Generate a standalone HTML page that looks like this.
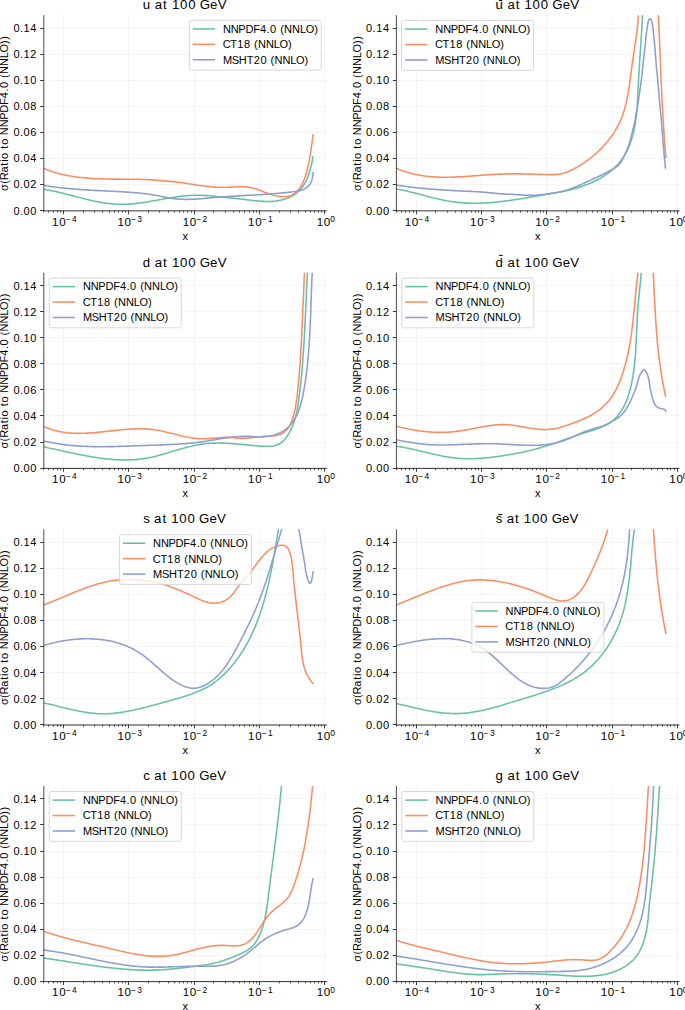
<!DOCTYPE html>
<html><head><meta charset="utf-8"><style>html,body{margin:0;padding:0;background:#fff;overflow:hidden}svg{display:block}</style></head><body>
<svg width="685" height="1010" viewBox="0 0 685 1010" font-family='"Liberation Sans", sans-serif'>
<rect width="685" height="1010" fill="#fff"/>
<defs>
<clipPath id="cp00"><rect x="43.80" y="15.15" width="283.10" height="195.40"/></clipPath>
<clipPath id="cp01"><rect x="396.40" y="15.15" width="283.10" height="195.40"/></clipPath>
<clipPath id="cp10"><rect x="43.80" y="272.70" width="283.10" height="195.40"/></clipPath>
<clipPath id="cp11"><rect x="396.40" y="272.70" width="283.10" height="195.40"/></clipPath>
<clipPath id="cp20"><rect x="43.80" y="529.30" width="283.10" height="195.40"/></clipPath>
<clipPath id="cp21"><rect x="396.40" y="529.30" width="283.10" height="195.40"/></clipPath>
<clipPath id="cp30"><rect x="43.80" y="785.90" width="283.10" height="195.40"/></clipPath>
<clipPath id="cp31"><rect x="396.40" y="785.90" width="283.10" height="195.40"/></clipPath>
</defs>
<line x1="63.50" y1="15.15" x2="63.50" y2="210.55" stroke="#f4f4f4" stroke-width="1"/>
<line x1="128.50" y1="15.15" x2="128.50" y2="210.55" stroke="#f4f4f4" stroke-width="1"/>
<line x1="194.50" y1="15.15" x2="194.50" y2="210.55" stroke="#f4f4f4" stroke-width="1"/>
<line x1="259.50" y1="15.15" x2="259.50" y2="210.55" stroke="#f4f4f4" stroke-width="1"/>
<line x1="324.50" y1="15.15" x2="324.50" y2="210.55" stroke="#f4f4f4" stroke-width="1"/>
<line x1="43.80" y1="184.50" x2="326.90" y2="184.50" stroke="#f4f4f4" stroke-width="1"/>
<line x1="43.80" y1="158.50" x2="326.90" y2="158.50" stroke="#f4f4f4" stroke-width="1"/>
<line x1="43.80" y1="132.50" x2="326.90" y2="132.50" stroke="#f4f4f4" stroke-width="1"/>
<line x1="43.80" y1="106.50" x2="326.90" y2="106.50" stroke="#f4f4f4" stroke-width="1"/>
<line x1="43.80" y1="80.50" x2="326.90" y2="80.50" stroke="#f4f4f4" stroke-width="1"/>
<line x1="43.80" y1="54.50" x2="326.90" y2="54.50" stroke="#f4f4f4" stroke-width="1"/>
<line x1="43.80" y1="28.50" x2="326.90" y2="28.50" stroke="#f4f4f4" stroke-width="1"/>
<g clip-path="url(#cp00)" fill="none" stroke-width="1.57" stroke-linejoin="round">
<path d="M43.0,189.3 44.1,189.4 45.2,189.6 46.3,189.8 47.3,189.9 48.4,190.1 49.5,190.3 50.5,190.5 51.6,190.7 52.7,190.9 53.8,191.2 54.8,191.4 55.9,191.6 57.0,191.9 58.1,192.1 59.1,192.4 60.2,192.6 61.3,192.9 62.4,193.1 63.4,193.4 64.5,193.6 65.6,193.9 66.7,194.2 67.7,194.5 68.8,194.7 69.9,195.0 71.0,195.3 72.1,195.6 73.1,195.9 74.2,196.1 75.3,196.4 76.4,196.7 77.4,197.0 78.5,197.3 79.6,197.5 80.7,197.8 81.8,198.1 82.8,198.4 83.9,198.6 85.0,198.9 86.1,199.2 87.2,199.4 88.3,199.7 89.3,199.9 90.4,200.2 91.5,200.4 92.6,200.7 93.7,200.9 94.8,201.2 95.8,201.4 96.9,201.6 98.0,201.8 99.1,202.0 100.2,202.2 101.3,202.4 102.4,202.6 103.4,202.8 104.5,203.0 105.6,203.1 106.7,203.3 107.8,203.4 108.9,203.5 110.0,203.7 111.1,203.8 112.2,203.9 113.2,204.0 114.3,204.1 115.4,204.1 116.5,204.2 117.6,204.2 118.7,204.3 119.8,204.3 120.9,204.3 122.0,204.3 123.1,204.3 124.2,204.3 125.3,204.3 126.4,204.2 127.5,204.2 128.6,204.1 129.7,204.0 130.8,203.9 131.9,203.9 133.0,203.8 134.1,203.7 135.2,203.5 136.3,203.4 137.4,203.3 138.5,203.2 139.5,203.0 140.6,202.9 141.7,202.7 142.8,202.6 143.9,202.4 145.0,202.2 146.1,202.1 147.2,201.9 148.3,201.7 149.4,201.5 150.5,201.3 151.6,201.1 152.7,200.9 153.8,200.8 154.9,200.6 156.0,200.4 157.1,200.2 158.2,200.0 159.3,199.8 160.4,199.6 161.4,199.4 162.5,199.2 163.6,199.0 164.7,198.8 165.8,198.6 166.9,198.4 168.0,198.2 169.1,198.0 170.2,197.9 171.2,197.7 172.3,197.5 173.4,197.3 174.5,197.2 175.6,197.0 176.7,196.8 177.8,196.7 178.9,196.5 179.9,196.4 181.0,196.3 182.1,196.1 183.2,196.0 184.3,195.9 185.4,195.8 186.5,195.7 187.6,195.6 188.7,195.5 189.8,195.5 190.9,195.4 191.9,195.3 193.0,195.3 194.1,195.3 195.2,195.2 196.3,195.2 197.4,195.2 198.5,195.2 199.6,195.2 200.7,195.3 201.8,195.3 202.9,195.4 204.0,195.4 205.1,195.5 206.2,195.6 207.3,195.6 208.4,195.7 209.5,195.8 210.6,195.9 211.7,196.0 212.9,196.1 214.0,196.2 215.1,196.3 216.2,196.4 217.3,196.6 218.4,196.7 219.5,196.8 220.5,196.9 221.6,197.0 222.7,197.1 223.8,197.2 224.9,197.4 226.0,197.5 227.1,197.6 228.2,197.7 229.3,197.8 230.4,197.9 231.5,198.0 232.6,198.1 233.6,198.2 234.7,198.3 235.8,198.5 236.9,198.6 238.0,198.7 239.1,198.8 240.2,198.9 241.3,199.1 242.4,199.2 243.5,199.3 244.6,199.5 245.8,199.6 246.9,199.7 248.0,199.9 249.1,200.0 250.2,200.2 251.3,200.3 252.5,200.4 253.6,200.6 254.7,200.7 255.8,200.8 257.0,200.9 258.1,201.0 259.2,201.1 260.3,201.2 261.5,201.3 262.6,201.4 263.7,201.4 264.8,201.5 265.9,201.5 267.0,201.5 268.2,201.5 269.3,201.5 270.4,201.5 271.5,201.4 272.6,201.4 273.7,201.3 274.8,201.2 275.9,201.1 276.9,200.9 278.0,200.8 279.1,200.6 280.2,200.3 281.2,200.1 282.3,199.8 283.4,199.5 284.4,199.2 285.4,198.9 286.4,198.5 287.5,198.2 288.4,197.7 289.4,197.3 290.4,196.8 291.3,196.4 292.3,195.8 293.2,195.3 294.1,194.7 295.0,194.1 295.8,193.5 296.7,192.9 297.5,192.2 298.3,191.5 299.1,190.8 299.8,190.0 300.6,189.2 301.3,188.4 301.9,187.6 302.6,186.7 303.2,185.8 303.8,184.9 304.4,184.0 305.0,183.0 305.5,182.0 306.0,181.0 306.5,180.0 307.0,179.0 307.4,177.9 307.8,176.9 308.2,175.8 308.6,174.7 309.0,173.6 309.4,172.5 309.7,171.4 310.0,170.3 310.3,169.2 310.6,168.1 310.9,167.0 311.2,165.9 311.4,164.8 311.7,163.7 311.9,162.6 312.1,161.5 312.3,160.4 312.5,159.3 312.7,158.3 312.9,157.2 313.1,156.2" stroke="#66c2a5"/>
<path d="M43.0,168.2 44.1,168.6 45.1,169.0 46.2,169.5 47.2,169.9 48.3,170.3 49.4,170.6 50.4,171.0 51.5,171.4 52.6,171.7 53.6,172.1 54.7,172.4 55.8,172.7 56.8,173.0 57.9,173.3 59.0,173.6 60.0,173.9 61.1,174.1 62.2,174.4 63.3,174.6 64.3,174.9 65.4,175.1 66.5,175.3 67.6,175.5 68.7,175.7 69.8,175.9 70.8,176.1 71.9,176.3 73.0,176.5 74.1,176.7 75.2,176.8 76.3,177.0 77.4,177.1 78.5,177.3 79.6,177.4 80.7,177.5 81.7,177.6 82.8,177.7 83.9,177.8 85.0,177.9 86.1,178.0 87.2,178.1 88.3,178.2 89.4,178.3 90.5,178.4 91.6,178.4 92.7,178.5 93.8,178.6 94.9,178.6 96.0,178.7 97.1,178.7 98.2,178.8 99.4,178.8 100.5,178.8 101.6,178.9 102.7,178.9 103.8,178.9 104.9,179.0 106.0,179.0 107.1,179.0 108.2,179.0 109.3,179.0 110.4,179.1 111.5,179.1 112.6,179.1 113.7,179.1 114.9,179.1 116.0,179.1 117.1,179.1 118.2,179.1 119.3,179.1 120.4,179.1 121.5,179.1 122.6,179.2 123.7,179.2 124.8,179.2 126.0,179.2 127.1,179.2 128.2,179.2 129.3,179.2 130.4,179.2 131.5,179.2 132.6,179.2 133.7,179.3 134.8,179.3 135.9,179.3 137.0,179.3 138.1,179.3 139.3,179.4 140.4,179.4 141.5,179.4 142.6,179.5 143.7,179.5 144.8,179.5 145.9,179.6 147.0,179.6 148.1,179.7 149.2,179.7 150.3,179.8 151.4,179.9 152.5,179.9 153.6,180.0 154.7,180.1 155.8,180.1 156.9,180.2 158.0,180.3 159.1,180.4 160.2,180.5 161.3,180.6 162.4,180.7 163.5,180.8 164.6,180.9 165.7,181.0 166.8,181.1 167.9,181.2 169.0,181.3 170.1,181.4 171.2,181.5 172.3,181.6 173.4,181.8 174.5,181.9 175.6,182.0 176.7,182.1 177.8,182.3 178.9,182.4 180.0,182.5 181.1,182.7 182.1,182.8 183.2,183.0 184.3,183.1 185.4,183.3 186.5,183.4 187.6,183.6 188.7,183.7 189.8,183.9 190.9,184.1 192.0,184.2 193.1,184.4 194.2,184.6 195.3,184.7 196.4,184.9 197.4,185.1 198.5,185.2 199.6,185.4 200.7,185.5 201.8,185.7 202.9,185.8 204.0,186.0 205.1,186.1 206.2,186.2 207.3,186.4 208.4,186.5 209.5,186.6 210.6,186.7 211.7,186.8 212.8,186.9 213.9,187.0 215.0,187.1 216.1,187.1 217.2,187.2 218.3,187.2 219.4,187.3 220.5,187.3 221.6,187.3 222.8,187.3 223.9,187.3 225.0,187.3 226.1,187.3 227.2,187.2 228.3,187.2 229.4,187.1 230.6,187.1 231.7,187.0 232.8,187.0 233.9,186.9 235.0,186.9 236.1,186.8 237.2,186.8 238.3,186.8 239.4,186.7 240.6,186.7 241.7,186.7 242.8,186.8 243.9,186.8 245.0,186.9 246.0,186.9 247.1,187.0 248.2,187.2 249.3,187.3 250.4,187.5 251.5,187.7 252.5,187.9 253.6,188.2 254.6,188.5 255.7,188.8 256.8,189.1 257.8,189.5 258.9,189.9 259.9,190.3 260.9,190.7 262.0,191.1 263.0,191.5 264.1,192.0 265.1,192.4 266.2,192.8 267.2,193.2 268.3,193.6 269.3,194.0 270.4,194.3 271.5,194.7 272.5,195.0 273.6,195.3 274.7,195.6 275.8,195.8 276.9,196.1 278.0,196.3 279.1,196.4 280.2,196.6 281.3,196.6 282.4,196.7 283.5,196.7 284.7,196.7 285.8,196.6 286.9,196.5 288.0,196.3 289.1,196.0 290.2,195.7 291.2,195.4 292.2,194.9 293.1,194.4 294.0,193.9 294.8,193.3 295.6,192.7 296.4,192.0 297.2,191.2 297.9,190.4 298.6,189.6 299.2,188.7 299.9,187.8 300.5,186.9 301.0,186.0 301.6,185.0 302.1,184.0 302.6,182.9 303.1,181.9 303.5,180.8 304.0,179.8 304.4,178.7 304.8,177.6 305.2,176.5 305.5,175.4 305.9,174.3 306.2,173.2 306.5,172.1 306.8,171.1 307.1,170.0 307.4,168.9 307.7,167.8 307.9,166.8 308.2,165.7 308.4,164.6 308.7,163.5 308.9,162.5 309.1,161.4 309.3,160.3 309.5,159.3 309.7,158.2 309.9,157.1 310.1,156.1 310.2,155.0 310.4,153.9 310.6,152.8 310.7,151.8 310.9,150.7 311.0,149.6 311.2,148.5 311.4,147.5 311.5,146.4 311.7,145.3 311.8,144.2 312.0,143.1 312.1,142.0 312.3,140.9 312.5,139.8 312.6,138.7 312.8,137.5 313.0,136.4 313.1,135.3 313.3,134.2" stroke="#fc8d62"/>
<path d="M43.0,185.1 44.1,185.3 45.2,185.5 46.3,185.7 47.4,185.9 48.5,186.1 49.5,186.2 50.6,186.4 51.7,186.6 52.8,186.7 53.9,186.9 55.0,187.0 56.1,187.2 57.2,187.3 58.3,187.5 59.4,187.6 60.5,187.7 61.6,187.8 62.7,188.0 63.8,188.1 64.9,188.2 66.0,188.3 67.1,188.4 68.2,188.5 69.3,188.6 70.4,188.7 71.5,188.8 72.6,188.9 73.7,189.0 74.8,189.1 75.9,189.2 77.0,189.3 78.1,189.4 79.2,189.4 80.3,189.5 81.4,189.6 82.5,189.7 83.6,189.7 84.7,189.8 85.8,189.9 86.9,189.9 88.0,190.0 89.1,190.1 90.2,190.1 91.3,190.2 92.4,190.3 93.5,190.3 94.6,190.4 95.7,190.4 96.8,190.5 97.9,190.6 99.0,190.6 100.1,190.7 101.2,190.7 102.3,190.8 103.5,190.8 104.6,190.9 105.7,190.9 106.8,191.0 107.9,191.0 109.0,191.1 110.1,191.2 111.2,191.2 112.3,191.3 113.4,191.3 114.5,191.4 115.6,191.4 116.7,191.5 117.8,191.5 118.9,191.6 120.0,191.7 121.1,191.7 122.2,191.8 123.3,191.9 124.4,191.9 125.5,192.0 126.6,192.1 127.7,192.1 128.8,192.2 129.9,192.3 131.0,192.4 132.1,192.5 133.2,192.5 134.3,192.6 135.4,192.7 136.5,192.8 137.6,192.9 138.7,193.0 139.8,193.1 140.9,193.2 142.0,193.4 143.1,193.5 144.2,193.6 145.3,193.7 146.4,193.9 147.5,194.0 148.6,194.2 149.7,194.3 150.8,194.5 151.9,194.7 152.9,194.8 154.0,195.0 155.1,195.2 156.2,195.4 157.3,195.6 158.4,195.8 159.5,196.0 160.6,196.2 161.7,196.5 162.8,196.7 163.9,196.9 165.0,197.1 166.1,197.4 167.1,197.6 168.2,197.8 169.3,198.0 170.4,198.2 171.5,198.3 172.6,198.5 173.7,198.6 174.8,198.8 175.9,198.9 177.0,199.0 178.1,199.1 179.2,199.2 180.3,199.2 181.4,199.3 182.5,199.3 183.6,199.4 184.7,199.4 185.8,199.4 186.9,199.4 188.0,199.4 189.1,199.4 190.2,199.3 191.3,199.3 192.4,199.3 193.5,199.2 194.6,199.1 195.7,199.1 196.8,199.0 197.9,199.0 199.0,198.9 200.1,198.8 201.2,198.7 202.3,198.6 203.4,198.5 204.5,198.4 205.6,198.3 206.7,198.2 207.8,198.1 208.9,198.0 210.0,197.9 211.1,197.8 212.2,197.7 213.3,197.6 214.4,197.5 215.5,197.4 216.7,197.4 217.8,197.3 218.9,197.2 220.0,197.1 221.1,197.0 222.2,196.9 223.3,196.8 224.4,196.8 225.5,196.7 226.6,196.6 227.7,196.5 228.8,196.5 229.9,196.4 231.0,196.3 232.1,196.3 233.2,196.2 234.3,196.1 235.4,196.1 236.5,196.0 237.6,195.9 238.7,195.9 239.8,195.8 240.9,195.7 242.0,195.7 243.1,195.6 244.2,195.6 245.3,195.5 246.4,195.4 247.5,195.4 248.6,195.3 249.7,195.3 250.8,195.2 251.9,195.1 253.0,195.1 254.1,195.0 255.2,195.0 256.3,194.9 257.4,194.8 258.5,194.8 259.6,194.7 260.7,194.6 261.8,194.6 262.9,194.5 264.0,194.4 265.1,194.3 266.2,194.3 267.3,194.2 268.4,194.1 269.5,194.0 270.6,194.0 271.7,193.9 272.8,193.8 273.9,193.7 275.0,193.6 276.2,193.5 277.3,193.4 278.4,193.3 279.5,193.2 280.6,193.1 281.7,193.0 282.8,192.9 283.9,192.8 285.0,192.7 286.1,192.6 287.2,192.5 288.3,192.3 289.4,192.2 290.5,192.1 291.6,192.0 292.7,191.8 293.9,191.7 295.0,191.5 296.1,191.4 297.1,191.2 298.2,191.0 299.3,190.8 300.3,190.5 301.3,190.2 302.3,189.9 303.3,189.5 304.3,189.1 305.2,188.7 306.0,188.2 306.8,187.6 307.6,186.9 308.4,186.2 309.0,185.5 309.7,184.6 310.3,183.7 310.8,182.7 311.2,181.6 311.7,180.5 312.0,179.4 312.3,178.2 312.6,176.9 312.8,175.7 313.0,174.4 313.1,173.2 313.1,171.9" stroke="#8da0cb"/>
</g>
<line x1="43.80" y1="15.15" x2="43.80" y2="210.95" stroke="#262626" stroke-width="0.84"/>
<line x1="43.40" y1="210.85" x2="326.90" y2="210.85" stroke="#262626" stroke-width="0.95"/>
<line x1="40.14" y1="210.50" x2="43.80" y2="210.50" stroke="#262626" stroke-width="0.9"/>
<text x="13.41 20.02 23.57 30.34" y="214.50" font-size="11.02">0.00</text>
<line x1="40.14" y1="184.50" x2="43.80" y2="184.50" stroke="#262626" stroke-width="0.9"/>
<text x="13.41 20.02 23.57 30.34" y="188.45" font-size="11.02">0.02</text>
<line x1="40.14" y1="158.50" x2="43.80" y2="158.50" stroke="#262626" stroke-width="0.9"/>
<text x="13.41 20.02 23.57 30.34" y="162.39" font-size="11.02">0.04</text>
<line x1="40.14" y1="132.50" x2="43.80" y2="132.50" stroke="#262626" stroke-width="0.9"/>
<text x="13.41 20.02 23.57 30.34" y="136.34" font-size="11.02">0.06</text>
<line x1="40.14" y1="106.50" x2="43.80" y2="106.50" stroke="#262626" stroke-width="0.9"/>
<text x="13.41 20.02 23.57 30.34" y="110.29" font-size="11.02">0.08</text>
<line x1="40.14" y1="80.50" x2="43.80" y2="80.50" stroke="#262626" stroke-width="0.9"/>
<text x="13.41 20.02 23.57 30.34" y="84.23" font-size="11.02">0.10</text>
<line x1="40.14" y1="54.50" x2="43.80" y2="54.50" stroke="#262626" stroke-width="0.9"/>
<text x="13.41 20.02 23.57 30.34" y="58.18" font-size="11.02">0.12</text>
<line x1="40.14" y1="28.50" x2="43.80" y2="28.50" stroke="#262626" stroke-width="0.9"/>
<text x="13.41 20.02 23.57 30.34" y="32.13" font-size="11.02">0.14</text>
<line x1="43.50" y1="210.55" x2="43.50" y2="212.65" stroke="#262626" stroke-width="0.75"/>
<line x1="48.50" y1="210.55" x2="48.50" y2="212.65" stroke="#262626" stroke-width="0.75"/>
<line x1="53.50" y1="210.55" x2="53.50" y2="212.65" stroke="#262626" stroke-width="0.75"/>
<line x1="57.50" y1="210.55" x2="57.50" y2="212.65" stroke="#262626" stroke-width="0.75"/>
<line x1="60.50" y1="210.55" x2="60.50" y2="212.65" stroke="#262626" stroke-width="0.75"/>
<line x1="63.50" y1="210.55" x2="63.50" y2="214.21" stroke="#262626" stroke-width="0.9"/>
<line x1="83.50" y1="210.55" x2="83.50" y2="212.65" stroke="#262626" stroke-width="0.75"/>
<line x1="94.50" y1="210.55" x2="94.50" y2="212.65" stroke="#262626" stroke-width="0.75"/>
<line x1="102.50" y1="210.55" x2="102.50" y2="212.65" stroke="#262626" stroke-width="0.75"/>
<line x1="109.50" y1="210.55" x2="109.50" y2="212.65" stroke="#262626" stroke-width="0.75"/>
<line x1="114.50" y1="210.55" x2="114.50" y2="212.65" stroke="#262626" stroke-width="0.75"/>
<line x1="118.50" y1="210.55" x2="118.50" y2="212.65" stroke="#262626" stroke-width="0.75"/>
<line x1="122.50" y1="210.55" x2="122.50" y2="212.65" stroke="#262626" stroke-width="0.75"/>
<line x1="125.50" y1="210.55" x2="125.50" y2="212.65" stroke="#262626" stroke-width="0.75"/>
<line x1="128.50" y1="210.55" x2="128.50" y2="214.21" stroke="#262626" stroke-width="0.9"/>
<line x1="148.50" y1="210.55" x2="148.50" y2="212.65" stroke="#262626" stroke-width="0.75"/>
<line x1="159.50" y1="210.55" x2="159.50" y2="212.65" stroke="#262626" stroke-width="0.75"/>
<line x1="168.50" y1="210.55" x2="168.50" y2="212.65" stroke="#262626" stroke-width="0.75"/>
<line x1="174.50" y1="210.55" x2="174.50" y2="212.65" stroke="#262626" stroke-width="0.75"/>
<line x1="179.50" y1="210.55" x2="179.50" y2="212.65" stroke="#262626" stroke-width="0.75"/>
<line x1="183.50" y1="210.55" x2="183.50" y2="212.65" stroke="#262626" stroke-width="0.75"/>
<line x1="187.50" y1="210.55" x2="187.50" y2="212.65" stroke="#262626" stroke-width="0.75"/>
<line x1="191.50" y1="210.55" x2="191.50" y2="212.65" stroke="#262626" stroke-width="0.75"/>
<line x1="194.50" y1="210.55" x2="194.50" y2="214.21" stroke="#262626" stroke-width="0.9"/>
<line x1="213.50" y1="210.55" x2="213.50" y2="212.65" stroke="#262626" stroke-width="0.75"/>
<line x1="225.50" y1="210.55" x2="225.50" y2="212.65" stroke="#262626" stroke-width="0.75"/>
<line x1="233.50" y1="210.55" x2="233.50" y2="212.65" stroke="#262626" stroke-width="0.75"/>
<line x1="239.50" y1="210.55" x2="239.50" y2="212.65" stroke="#262626" stroke-width="0.75"/>
<line x1="244.50" y1="210.55" x2="244.50" y2="212.65" stroke="#262626" stroke-width="0.75"/>
<line x1="249.50" y1="210.55" x2="249.50" y2="212.65" stroke="#262626" stroke-width="0.75"/>
<line x1="253.50" y1="210.55" x2="253.50" y2="212.65" stroke="#262626" stroke-width="0.75"/>
<line x1="256.50" y1="210.55" x2="256.50" y2="212.65" stroke="#262626" stroke-width="0.75"/>
<line x1="259.50" y1="210.55" x2="259.50" y2="214.21" stroke="#262626" stroke-width="0.9"/>
<line x1="279.50" y1="210.55" x2="279.50" y2="212.65" stroke="#262626" stroke-width="0.75"/>
<line x1="290.50" y1="210.55" x2="290.50" y2="212.65" stroke="#262626" stroke-width="0.75"/>
<line x1="298.50" y1="210.55" x2="298.50" y2="212.65" stroke="#262626" stroke-width="0.75"/>
<line x1="305.50" y1="210.55" x2="305.50" y2="212.65" stroke="#262626" stroke-width="0.75"/>
<line x1="310.50" y1="210.55" x2="310.50" y2="212.65" stroke="#262626" stroke-width="0.75"/>
<line x1="314.50" y1="210.55" x2="314.50" y2="212.65" stroke="#262626" stroke-width="0.75"/>
<line x1="318.50" y1="210.55" x2="318.50" y2="212.65" stroke="#262626" stroke-width="0.75"/>
<line x1="321.50" y1="210.55" x2="321.50" y2="212.65" stroke="#262626" stroke-width="0.75"/>
<line x1="324.50" y1="210.55" x2="324.50" y2="214.21" stroke="#262626" stroke-width="0.9"/>
<text x="52.11 59.22" y="225.70" font-size="11.57">10</text>
<text x="65.91 72.00" y="221.75" font-size="8.38">−4</text>
<text x="117.42 124.53" y="225.70" font-size="11.57">10</text>
<text x="131.22 137.31" y="221.75" font-size="8.38">−3</text>
<text x="182.73 189.84" y="225.70" font-size="11.57">10</text>
<text x="196.53 202.62" y="221.75" font-size="8.38">−2</text>
<text x="248.04 255.15" y="225.70" font-size="11.57">10</text>
<text x="261.84 267.93" y="221.75" font-size="8.38">−1</text>
<text x="316.75 323.86" y="225.70" font-size="11.57">10</text>
<text x="330.26" y="221.75" font-size="8.38">0</text>
<text x="182.39" y="239.55" font-size="11.02">x</text>
<g transform="translate(8.00,113.35) rotate(-90)"><text x="-77.55 -70.53 -66.90 -59.14 -52.37 -48.50 -45.60 -39.12 -35.34 -31.53 -25.04 -21.81 -13.85 -6.35 0.66 8.44 15.19 21.80 25.35 31.96 35.43 39.35 47.31 55.18 60.92 69.46 73.61" y="0.00" font-size="11.02">σ(Ratio to NNPDF4.0 (NNLO))</text></g>
<text x="142.81 150.73 154.84 163.10 167.63 171.89 180.02 188.15 196.09 199.77 210.12 217.68" y="9.15" font-size="13.23">u at 100 GeV</text>
<rect x="189.20" y="20.30" width="132" height="49.8" rx="2.1" fill="#fff" fill-opacity="0.8" stroke="#d0d0d0" stroke-width="0.84"/>
<line x1="192.70" y1="28.90" x2="215.10" y2="28.90" stroke="#66c2a5" stroke-width="1.57"/>
<text x="222.90 230.87 238.37 245.38 253.15 259.91 266.52 270.07 276.68 280.15 284.06 292.03 299.89 305.64 314.17" y="32.78" font-size="11.02">NNPDF4.0 (NNLO)</text>
<line x1="192.70" y1="44.35" x2="215.10" y2="44.35" stroke="#fc8d62" stroke-width="1.57"/>
<text x="222.64 230.22 237.16 243.94 250.56 254.02 257.94 265.90 273.77 279.52 288.05" y="48.23" font-size="11.02">CT18 (NNLO)</text>
<line x1="192.70" y1="59.80" x2="215.10" y2="59.80" stroke="#8da0cb" stroke-width="1.57"/>
<text x="222.90 231.79 238.87 246.74 253.69 260.46 267.08 270.54 274.46 282.42 290.29 296.04 304.57" y="63.68" font-size="11.02">MSHT20 (NNLO)</text>
<line x1="416.50" y1="15.15" x2="416.50" y2="210.55" stroke="#f4f4f4" stroke-width="1"/>
<line x1="481.50" y1="15.15" x2="481.50" y2="210.55" stroke="#f4f4f4" stroke-width="1"/>
<line x1="546.50" y1="15.15" x2="546.50" y2="210.55" stroke="#f4f4f4" stroke-width="1"/>
<line x1="612.50" y1="15.15" x2="612.50" y2="210.55" stroke="#f4f4f4" stroke-width="1"/>
<line x1="677.50" y1="15.15" x2="677.50" y2="210.55" stroke="#f4f4f4" stroke-width="1"/>
<line x1="396.40" y1="184.50" x2="679.50" y2="184.50" stroke="#f4f4f4" stroke-width="1"/>
<line x1="396.40" y1="158.50" x2="679.50" y2="158.50" stroke="#f4f4f4" stroke-width="1"/>
<line x1="396.40" y1="132.50" x2="679.50" y2="132.50" stroke="#f4f4f4" stroke-width="1"/>
<line x1="396.40" y1="106.50" x2="679.50" y2="106.50" stroke="#f4f4f4" stroke-width="1"/>
<line x1="396.40" y1="80.50" x2="679.50" y2="80.50" stroke="#f4f4f4" stroke-width="1"/>
<line x1="396.40" y1="54.50" x2="679.50" y2="54.50" stroke="#f4f4f4" stroke-width="1"/>
<line x1="396.40" y1="28.50" x2="679.50" y2="28.50" stroke="#f4f4f4" stroke-width="1"/>
<g clip-path="url(#cp01)" fill="none" stroke-width="1.57" stroke-linejoin="round">
<path d="M395.5,188.8 396.6,189.0 397.7,189.2 398.7,189.4 399.8,189.6 400.9,189.8 402.0,190.0 403.1,190.2 404.1,190.4 405.2,190.7 406.3,190.9 407.4,191.1 408.4,191.4 409.5,191.7 410.6,191.9 411.7,192.2 412.7,192.4 413.8,192.7 414.9,193.0 416.0,193.3 417.0,193.6 418.1,193.8 419.2,194.1 420.2,194.4 421.3,194.7 422.4,195.0 423.5,195.3 424.5,195.5 425.6,195.8 426.7,196.1 427.8,196.4 428.8,196.7 429.9,197.0 431.0,197.2 432.1,197.5 433.1,197.8 434.2,198.1 435.3,198.3 436.4,198.6 437.4,198.8 438.5,199.1 439.6,199.3 440.7,199.6 441.7,199.8 442.8,200.0 443.9,200.3 445.0,200.5 446.1,200.7 447.2,200.9 448.2,201.1 449.3,201.3 450.4,201.4 451.5,201.6 452.6,201.8 453.7,201.9 454.8,202.0 455.9,202.2 457.0,202.3 458.1,202.4 459.1,202.5 460.2,202.6 461.3,202.7 462.4,202.8 463.5,202.9 464.6,202.9 465.7,203.0 466.8,203.1 467.9,203.1 469.0,203.1 470.1,203.2 471.2,203.2 472.3,203.2 473.4,203.2 474.5,203.2 475.6,203.2 476.7,203.2 477.8,203.2 478.9,203.2 480.0,203.2 481.1,203.1 482.2,203.1 483.3,203.0 484.4,203.0 485.5,202.9 486.6,202.9 487.7,202.8 488.8,202.7 489.9,202.6 491.0,202.6 492.1,202.5 493.2,202.4 494.3,202.3 495.4,202.2 496.5,202.1 497.6,202.0 498.7,201.8 499.8,201.7 500.9,201.6 502.0,201.5 503.1,201.3 504.2,201.2 505.3,201.0 506.4,200.9 507.5,200.8 508.6,200.6 509.7,200.5 510.8,200.3 511.9,200.1 513.0,200.0 514.1,199.8 515.2,199.6 516.3,199.5 517.4,199.3 518.5,199.1 519.6,199.0 520.7,198.8 521.8,198.6 522.9,198.4 523.9,198.2 525.0,198.1 526.1,197.9 527.2,197.7 528.3,197.5 529.4,197.3 530.5,197.1 531.6,196.9 532.7,196.7 533.8,196.6 534.9,196.4 535.9,196.2 537.0,196.0 538.1,195.8 539.2,195.6 540.3,195.4 541.4,195.2 542.5,195.1 543.5,194.9 544.6,194.7 545.7,194.5 546.8,194.3 547.9,194.1 549.0,194.0 550.0,193.8 551.1,193.6 552.2,193.4 553.3,193.2 554.4,193.0 555.5,192.8 556.5,192.7 557.6,192.5 558.7,192.3 559.8,192.1 560.8,191.9 561.9,191.7 563.0,191.4 564.0,191.2 565.1,191.0 566.2,190.8 567.3,190.5 568.3,190.3 569.4,190.0 570.5,189.8 571.5,189.5 572.6,189.2 573.6,188.9 574.7,188.7 575.8,188.4 576.8,188.0 577.9,187.7 578.9,187.4 580.0,187.1 581.0,186.7 582.1,186.3 583.1,186.0 584.2,185.6 585.2,185.2 586.2,184.8 587.3,184.4 588.3,184.0 589.3,183.5 590.4,183.1 591.4,182.7 592.4,182.2 593.4,181.7 594.4,181.2 595.4,180.7 596.4,180.2 597.4,179.7 598.4,179.2 599.4,178.6 600.4,178.1 601.3,177.5 602.3,177.0 603.3,176.4 604.2,175.8 605.1,175.2 606.1,174.5 607.0,173.9 607.9,173.3 608.8,172.6 609.6,171.9 610.5,171.3 611.4,170.6 612.2,169.9 613.0,169.1 613.8,168.4 614.6,167.7 615.4,166.9 616.2,166.1 617.0,165.4 617.7,164.6 618.4,163.7 619.1,162.9 619.8,162.1 620.5,161.2 621.2,160.4 621.8,159.5 622.4,158.6 623.0,157.7 623.6,156.8 624.2,155.9 624.8,155.0 625.3,154.0 625.8,153.1 626.3,152.1 626.8,151.1 627.3,150.1 627.8,149.2 628.2,148.2 628.7,147.2 629.1,146.1 629.5,145.1 629.9,144.1 630.3,143.1 630.7,142.0 631.0,141.0 631.4,140.0 631.7,138.9 632.0,137.9 632.3,136.8 632.6,135.7 632.9,134.7 633.2,133.6 633.4,132.5 633.7,131.5 633.9,130.4 634.2,129.3 634.4,128.2 634.6,127.1 634.8,126.1 635.0,125.0 635.2,123.9 635.4,122.8 635.5,121.7 635.7,120.6 635.8,119.5 636.0,118.4 636.1,117.3 636.3,116.2 636.4,115.1 636.5,114.0 636.6,112.8 636.7,111.7 636.8,110.6 636.9,109.5 637.0,108.4 637.1,107.3 637.2,106.2 637.3,105.0 637.3,103.9 637.4,102.8 637.5,101.7 637.5,100.6 637.6,99.5 637.7,98.3 637.7,97.2 637.8,96.1 637.8,95.0 637.9,93.9 637.9,92.8 638.0,91.6 638.0,90.5 638.1,89.4 638.1,88.3 638.2,87.2 638.2,86.1 638.3,85.0 638.4,83.9 638.4,82.7 638.5,81.6 638.5,80.5 638.6,79.4 638.6,78.3 638.7,77.2 638.8,76.1 638.8,75.0 638.9,73.9 639.0,72.8 639.0,71.7 639.1,70.6 639.1,69.5 639.2,68.4 639.3,67.4 639.4,66.3 639.4,65.2 639.5,64.1 639.6,63.0 639.6,61.9 639.7,60.8 639.8,59.7 639.8,58.6 639.9,57.5 640.0,56.4 640.1,55.4 640.1,54.3 640.2,53.2 640.3,52.1 640.3,51.0 640.4,49.9 640.5,48.8 640.6,47.7 640.6,46.6 640.7,45.6 640.8,44.5 640.9,43.4 640.9,42.3 641.0,41.2 641.1,40.1 641.1,39.0 641.2,37.9 641.3,36.8 641.4,35.7 641.4,34.6 641.5,33.5 641.6,32.4 641.6,31.3 641.7,30.2 641.8,29.1 641.8,28.0 641.9,26.9 642.0,25.8 642.0,24.7 642.1,23.6 642.2,22.5 642.2,21.4 642.3,20.3 642.3,19.2 642.4,18.0 642.5,16.9 642.5,15.8 642.6,14.7 642.6,13.6 642.7,12.4 642.7,11.3 642.8,10.2 642.8,9.1 642.9,7.9" stroke="#66c2a5"/>
<path d="M395.5,167.9 396.5,168.4 397.6,168.8 398.7,169.3 399.7,169.7 400.8,170.1 401.8,170.5 402.9,170.9 404.0,171.2 405.0,171.6 406.1,171.9 407.2,172.3 408.2,172.6 409.3,172.9 410.4,173.2 411.5,173.5 412.5,173.7 413.6,174.0 414.7,174.2 415.8,174.5 416.8,174.7 417.9,174.9 419.0,175.1 420.1,175.3 421.2,175.5 422.3,175.7 423.3,175.8 424.4,176.0 425.5,176.1 426.6,176.2 427.7,176.4 428.8,176.5 429.9,176.6 430.9,176.7 432.0,176.8 433.1,176.9 434.2,176.9 435.3,177.0 436.4,177.0 437.5,177.1 438.6,177.1 439.7,177.2 440.8,177.2 441.9,177.2 443.0,177.2 444.1,177.2 445.2,177.2 446.3,177.2 447.4,177.2 448.5,177.2 449.6,177.2 450.7,177.2 451.8,177.1 452.9,177.1 454.0,177.1 455.1,177.0 456.2,177.0 457.3,176.9 458.4,176.9 459.5,176.8 460.6,176.8 461.7,176.7 462.8,176.6 463.9,176.6 465.0,176.5 466.1,176.4 467.2,176.3 468.3,176.3 469.4,176.2 470.5,176.1 471.7,176.0 472.8,175.9 473.9,175.8 475.0,175.8 476.1,175.7 477.2,175.6 478.3,175.5 479.4,175.4 480.5,175.3 481.6,175.3 482.7,175.2 483.8,175.1 484.9,175.0 486.0,174.9 487.1,174.8 488.3,174.8 489.4,174.7 490.5,174.6 491.6,174.6 492.7,174.5 493.8,174.4 494.9,174.4 496.0,174.3 497.1,174.2 498.2,174.2 499.3,174.1 500.4,174.1 501.5,174.1 502.6,174.0 503.7,174.0 504.8,174.0 505.9,173.9 507.0,173.9 508.1,173.9 509.2,173.9 510.3,173.9 511.4,173.9 512.5,173.9 513.6,173.9 514.7,173.9 515.8,173.9 516.9,173.9 518.0,173.9 519.1,173.9 520.2,173.9 521.3,173.9 522.4,173.9 523.5,174.0 524.6,174.0 525.7,174.0 526.8,174.0 527.9,174.1 529.0,174.1 530.2,174.1 531.3,174.1 532.4,174.2 533.5,174.2 534.6,174.2 535.7,174.3 536.8,174.3 537.9,174.3 539.0,174.4 540.1,174.4 541.2,174.4 542.3,174.4 543.4,174.5 544.5,174.5 545.6,174.5 546.7,174.6 547.8,174.6 548.9,174.6 550.0,174.6 551.1,174.6 552.2,174.6 553.3,174.6 554.4,174.5 555.5,174.5 556.6,174.4 557.7,174.3 558.8,174.2 559.8,174.0 560.9,173.8 562.0,173.6 563.0,173.4 564.0,173.1 565.1,172.8 566.1,172.5 567.1,172.1 568.1,171.7 569.1,171.3 570.1,170.8 571.1,170.3 572.1,169.8 573.1,169.3 574.1,168.8 575.0,168.3 576.0,167.7 577.0,167.2 577.9,166.6 578.9,166.1 579.8,165.5 580.8,164.9 581.7,164.3 582.6,163.7 583.6,163.1 584.5,162.4 585.4,161.8 586.3,161.2 587.2,160.5 588.1,159.8 589.0,159.2 589.9,158.5 590.8,157.8 591.7,157.1 592.5,156.4 593.4,155.7 594.2,155.0 595.1,154.2 595.9,153.5 596.7,152.8 597.6,152.0 598.4,151.2 599.2,150.5 600.0,149.7 600.8,148.9 601.6,148.1 602.3,147.3 603.1,146.5 603.8,145.7 604.6,144.8 605.3,144.0 606.0,143.2 606.8,142.3 607.5,141.5 608.2,140.6 608.9,139.7 609.5,138.9 610.2,138.0 610.9,137.1 611.5,136.2 612.1,135.3 612.8,134.4 613.4,133.5 614.0,132.6 614.6,131.6 615.1,130.7 615.7,129.8 616.2,128.8 616.8,127.9 617.3,126.9 617.8,125.9 618.3,125.0 618.8,124.0 619.3,123.0 619.8,122.0 620.2,121.0 620.7,120.0 621.1,119.0 621.5,118.0 621.9,117.0 622.3,116.0 622.7,114.9 623.0,113.9 623.4,112.9 623.7,111.8 624.0,110.8 624.4,109.8 624.7,108.7 625.0,107.6 625.3,106.6 625.5,105.5 625.8,104.5 626.1,103.4 626.3,102.3 626.6,101.2 626.8,100.2 627.0,99.1 627.3,98.0 627.5,96.9 627.7,95.8 627.9,94.7 628.1,93.6 628.3,92.5 628.5,91.4 628.6,90.3 628.8,89.2 629.0,88.1 629.2,87.0 629.3,85.9 629.5,84.8 629.6,83.7 629.8,82.6 629.9,81.5 630.1,80.4 630.2,79.3 630.4,78.2 630.5,77.1 630.7,76.0 630.8,74.9 630.9,73.8 631.1,72.6 631.2,71.5 631.4,70.4 631.5,69.3 631.6,68.2 631.8,67.1 631.9,66.0 632.1,64.9 632.2,63.8 632.4,62.7 632.5,61.6 632.7,60.5 632.8,59.4 633.0,58.4 633.2,57.3 633.3,56.2 633.5,55.1 633.7,54.0 633.8,52.9 634.0,51.8 634.2,50.8 634.3,49.7 634.5,48.6 634.7,47.5 634.8,46.4 635.0,45.4 635.2,44.3 635.3,43.2 635.5,42.1 635.7,41.0 635.8,40.0 636.0,38.9 636.1,37.8 636.3,36.7 636.4,35.6 636.6,34.6 636.7,33.5 636.9,32.4 637.0,31.3 637.1,30.2 637.2,29.1 637.4,28.0 637.5,26.9 637.6,25.8 637.7,24.7 637.8,23.6 637.9,22.5 637.9,21.4 638.0,20.3 638.1,19.2 638.1,18.1 638.2,17.0 638.2,15.9 638.3,14.7 638.3,13.6 638.3,12.5 638.3,11.3 638.3,10.2 638.3,9.1 638.3,7.9" stroke="#fc8d62"/>
<path d="M658.0,8.0 658.0,9.1 658.1,10.2 658.1,11.3 658.2,12.4 658.2,13.6 658.3,14.7 658.3,15.8 658.4,16.9 658.5,18.0 658.5,19.1 658.6,20.2 658.6,21.3 658.7,22.5 658.7,23.6 658.8,24.7 658.8,25.8 658.9,26.9 658.9,28.0 659.0,29.1 659.0,30.2 659.1,31.4 659.1,32.5 659.2,33.6 659.2,34.7 659.3,35.8 659.3,36.9 659.4,38.0 659.4,39.1 659.5,40.3 659.5,41.4 659.6,42.5 659.6,43.6 659.7,44.7 659.7,45.8 659.7,46.9 659.8,48.0 659.8,49.2 659.9,50.3 659.9,51.4 660.0,52.5 660.0,53.6 660.1,54.7 660.1,55.8 660.2,56.9 660.2,58.1 660.3,59.2 660.3,60.3 660.4,61.4 660.4,62.5 660.4,63.6 660.5,64.7 660.5,65.8 660.6,67.0 660.6,68.1 660.7,69.2 660.7,70.3 660.8,71.4 660.8,72.5 660.9,73.6 660.9,74.7 661.0,75.9 661.0,77.0 661.1,78.1 661.1,79.2 661.2,80.3 661.2,81.4 661.3,82.5 661.3,83.6 661.4,84.8 661.4,85.9 661.5,87.0 661.5,88.1 661.6,89.2 661.6,90.3 661.7,91.4 661.7,92.5 661.8,93.7 661.8,94.8 661.9,95.9 661.9,97.0 662.0,98.1 662.0,99.2 662.1,100.3 662.2,101.4 662.2,102.5 662.3,103.7 662.3,104.8 662.4,105.9 662.4,107.0 662.5,108.1 662.6,109.2 662.6,110.3 662.7,111.4 662.7,112.6 662.8,113.7 662.9,114.8 662.9,115.9 663.0,117.0 663.1,118.1 663.1,119.2 663.2,120.3 663.3,121.4 663.3,122.6 663.4,123.7 663.5,124.8 663.5,125.9 663.6,127.0 663.7,128.1 663.7,129.2 663.8,130.3 663.9,131.5 664.0,132.6 664.0,133.7 664.1,134.8 664.2,135.9 664.3,137.0 664.3,138.1 664.4,139.2 664.5,140.3 664.6,141.4 664.7,142.6 664.7,143.7 664.8,144.8 664.9,145.9 665.0,147.0 665.1,148.1 665.2,149.2 665.3,150.3 665.3,151.4 665.4,152.6 665.5,153.7 665.6,154.8 665.7,155.9 665.8,157.0 665.9,158.1" stroke="#fc8d62"/>
<path d="M395.5,185.0 396.6,185.2 397.7,185.3 398.8,185.5 399.9,185.6 401.0,185.8 402.1,185.9 403.1,186.1 404.2,186.2 405.3,186.4 406.4,186.5 407.5,186.7 408.6,186.8 409.7,186.9 410.8,187.1 411.9,187.2 413.0,187.3 414.1,187.5 415.2,187.6 416.3,187.7 417.4,187.8 418.5,188.0 419.6,188.1 420.7,188.2 421.8,188.3 422.9,188.4 423.9,188.5 425.0,188.6 426.1,188.7 427.2,188.8 428.3,188.9 429.4,189.0 430.5,189.1 431.6,189.2 432.7,189.2 433.8,189.3 434.9,189.4 436.0,189.5 437.1,189.6 438.2,189.6 439.3,189.7 440.4,189.8 441.5,189.9 442.6,189.9 443.7,190.0 444.8,190.1 445.9,190.1 447.0,190.2 448.1,190.3 449.2,190.3 450.3,190.4 451.4,190.5 452.5,190.5 453.6,190.6 454.7,190.6 455.8,190.7 456.9,190.8 458.0,190.8 459.1,190.9 460.2,190.9 461.3,191.0 462.5,191.0 463.6,191.1 464.7,191.1 465.8,191.2 466.9,191.2 468.0,191.3 469.1,191.3 470.2,191.4 471.3,191.4 472.4,191.5 473.5,191.5 474.6,191.6 475.7,191.7 476.8,191.7 477.9,191.8 479.0,191.9 480.1,191.9 481.2,192.0 482.3,192.1 483.4,192.2 484.5,192.3 485.6,192.4 486.7,192.5 487.8,192.6 488.9,192.7 490.0,192.8 491.1,192.9 492.1,193.0 493.2,193.1 494.3,193.2 495.4,193.3 496.5,193.4 497.6,193.5 498.7,193.6 499.8,193.7 500.9,193.8 502.0,193.9 503.1,193.9 504.2,194.0 505.3,194.1 506.4,194.1 507.5,194.2 508.6,194.2 509.7,194.3 510.8,194.3 511.9,194.4 513.0,194.4 514.1,194.5 515.2,194.6 516.3,194.6 517.4,194.7 518.5,194.8 519.7,194.9 520.8,194.9 521.9,195.0 523.0,195.1 524.1,195.2 525.2,195.2 526.3,195.3 527.4,195.3 528.5,195.4 529.6,195.4 530.7,195.4 531.8,195.4 532.9,195.4 534.0,195.3 535.1,195.2 536.2,195.2 537.3,195.1 538.4,195.0 539.5,194.9 540.6,194.8 541.7,194.6 542.7,194.5 543.8,194.4 544.9,194.2 546.0,194.1 547.1,193.9 548.2,193.8 549.3,193.6 550.4,193.5 551.5,193.3 552.6,193.1 553.7,193.0 554.8,192.8 555.8,192.6 556.9,192.4 558.0,192.2 559.1,192.0 560.2,191.7 561.2,191.5 562.3,191.2 563.4,190.9 564.5,190.7 565.5,190.4 566.6,190.1 567.6,189.8 568.7,189.4 569.7,189.1 570.8,188.7 571.8,188.4 572.9,188.0 573.9,187.6 574.9,187.2 575.9,186.8 577.0,186.3 578.0,185.9 579.0,185.5 580.0,185.0 581.0,184.6 582.0,184.1 583.0,183.6 584.0,183.2 585.0,182.7 586.0,182.2 587.0,181.7 588.0,181.3 589.0,180.8 590.0,180.4 591.0,179.9 592.0,179.4 593.0,179.0 594.0,178.5 595.0,178.1 596.0,177.6 597.0,177.2 598.0,176.7 599.0,176.3 600.0,175.8 601.0,175.3 602.0,174.8 603.0,174.3 604.0,173.8 605.0,173.3 605.9,172.8 606.9,172.3 607.9,171.8 608.9,171.3 609.9,170.8 610.9,170.3 611.8,169.8 612.8,169.3 613.8,168.7 614.7,168.1 615.6,167.5 616.5,166.8 617.3,166.1 618.2,165.4 618.9,164.6 619.7,163.8 620.4,162.9 621.0,162.0 621.6,161.1 622.1,160.1 622.6,159.2 623.1,158.2 623.6,157.2 624.1,156.2 624.5,155.2 625.0,154.2 625.5,153.2 626.0,152.2 626.4,151.2 626.9,150.2 627.3,149.1 627.7,148.1 628.1,147.1 628.5,146.1 628.8,145.0 629.2,144.0 629.5,142.9 629.8,141.9 630.1,140.8 630.4,139.7 630.7,138.7 630.9,137.6 631.2,136.5 631.5,135.4 631.7,134.4 632.0,133.3 632.3,132.2 632.5,131.2 632.8,130.1 633.0,129.0 633.3,128.0 633.6,126.9 633.8,125.8 634.1,124.7 634.4,123.7 634.6,122.6 634.8,121.5 635.1,120.4 635.3,119.4 635.4,118.3 635.6,117.2 635.8,116.1 636.0,115.0 636.1,113.9 636.3,112.8 636.5,111.7 636.7,110.6 636.9,109.6 637.1,108.5 637.3,107.4 637.5,106.3 637.7,105.2 637.9,104.1 638.1,103.1 638.2,102.0 638.4,100.9 638.6,99.8 638.7,98.7 638.9,97.6 639.0,96.5 639.2,95.4 639.3,94.3 639.5,93.2 639.7,92.1 639.8,91.1 640.0,90.0 640.1,88.9 640.3,87.8 640.5,86.7 640.6,85.6 640.8,84.5 640.9,83.4 641.1,82.3 641.2,81.2 641.3,80.1 641.5,79.0 641.6,77.9 641.7,76.8 641.9,75.8 642.0,74.7 642.1,73.6 642.2,72.5 642.3,71.4 642.5,70.3 642.6,69.2 642.7,68.1 642.8,67.0 642.9,65.9 643.0,64.8 643.2,63.7 643.3,62.6 643.4,61.5 643.5,60.4 643.6,59.3 643.7,58.2 643.9,57.1 644.0,56.0 644.1,54.9 644.2,53.8 644.3,52.7 644.5,51.6 644.6,50.5 644.7,49.4 644.8,48.3 644.9,47.2 645.0,46.2 645.2,45.1 645.3,44.0 645.4,42.9 645.5,41.8 645.6,40.7 645.7,39.6 645.8,38.5 645.9,37.4 646.0,36.3 646.2,35.2 646.3,34.1 646.4,33.0 646.6,31.9 646.7,30.8 646.9,29.7 647.1,28.6 647.3,27.5 647.4,26.4 647.6,25.3 647.7,24.3 647.9,23.2 648.1,22.2 648.4,21.1 648.8,20.1 649.5,19.0 650.3,18.7 651.0,19.6 651.6,20.8 652.0,21.9 652.2,23.0 652.4,24.0 652.5,25.0 652.7,26.0 652.8,27.1 652.9,28.1 653.0,29.2 653.2,30.3 653.3,31.4 653.4,32.6 653.6,33.7 653.7,34.8 653.8,35.9 653.9,37.0 654.0,38.2 654.2,39.3 654.3,40.4 654.4,41.5 654.5,42.6 654.6,43.7 654.7,44.8 654.7,45.8 654.8,46.9 654.9,48.0 655.0,49.1 655.1,50.2 655.2,51.3 655.3,52.4 655.3,53.5 655.4,54.6 655.5,55.7 655.6,56.8 655.7,57.9 655.8,59.0 655.9,60.1 656.0,61.2 656.1,62.3 656.1,63.4 656.2,64.5 656.3,65.6 656.4,66.7 656.5,67.8 656.6,68.9 656.7,70.0 656.8,71.1 657.0,72.2 657.1,73.3 657.2,74.4 657.3,75.5 657.4,76.6 657.5,77.7 657.6,78.8 657.7,79.9 657.8,80.9 657.9,82.0 658.0,83.1 658.1,84.2 658.2,85.3 658.3,86.4 658.4,87.5 658.5,88.6 658.6,89.7 658.7,90.8 658.8,91.9 658.9,93.0 659.0,94.1 659.1,95.2 659.2,96.3 659.2,97.4 659.3,98.5 659.4,99.6 659.5,100.7 659.6,101.8 659.7,102.9 659.8,104.0 659.9,105.1 660.0,106.2 660.1,107.3 660.2,108.4 660.3,109.5 660.4,110.6 660.5,111.7 660.6,112.8 660.7,113.9 660.8,115.0 660.9,116.1 661.0,117.2 661.1,118.3 661.2,119.4 661.3,120.5 661.4,121.6 661.5,122.7 661.6,123.8 661.7,124.9 661.8,126.0 661.9,127.1 661.9,128.2 662.0,129.3 662.1,130.4 662.2,131.5 662.3,132.6 662.4,133.7 662.5,134.8 662.6,135.9 662.7,137.0 662.8,138.1 662.9,139.2 662.9,140.3 663.0,141.4 663.1,142.5 663.2,143.6 663.3,144.7 663.4,145.8 663.5,146.9 663.6,148.0 663.7,149.1 663.8,150.1 663.9,151.2 663.9,152.3 664.0,153.4 664.1,154.5 664.2,155.6 664.3,156.7 664.4,157.8 664.5,158.9 664.7,160.0 664.8,161.1 664.9,162.2 665.0,163.3 665.1,164.4 665.2,165.5 665.3,166.6 665.5,167.7 665.6,168.8" stroke="#8da0cb"/>
</g>
<line x1="396.40" y1="15.15" x2="396.40" y2="210.95" stroke="#262626" stroke-width="0.84"/>
<line x1="396.00" y1="210.85" x2="679.50" y2="210.85" stroke="#262626" stroke-width="0.95"/>
<line x1="392.74" y1="210.50" x2="396.40" y2="210.50" stroke="#262626" stroke-width="0.9"/>
<text x="366.01 372.62 376.17 382.94" y="214.50" font-size="11.02">0.00</text>
<line x1="392.74" y1="184.50" x2="396.40" y2="184.50" stroke="#262626" stroke-width="0.9"/>
<text x="366.01 372.62 376.17 382.94" y="188.45" font-size="11.02">0.02</text>
<line x1="392.74" y1="158.50" x2="396.40" y2="158.50" stroke="#262626" stroke-width="0.9"/>
<text x="366.01 372.62 376.17 382.94" y="162.39" font-size="11.02">0.04</text>
<line x1="392.74" y1="132.50" x2="396.40" y2="132.50" stroke="#262626" stroke-width="0.9"/>
<text x="366.01 372.62 376.17 382.94" y="136.34" font-size="11.02">0.06</text>
<line x1="392.74" y1="106.50" x2="396.40" y2="106.50" stroke="#262626" stroke-width="0.9"/>
<text x="366.01 372.62 376.17 382.94" y="110.29" font-size="11.02">0.08</text>
<line x1="392.74" y1="80.50" x2="396.40" y2="80.50" stroke="#262626" stroke-width="0.9"/>
<text x="366.01 372.62 376.17 382.94" y="84.23" font-size="11.02">0.10</text>
<line x1="392.74" y1="54.50" x2="396.40" y2="54.50" stroke="#262626" stroke-width="0.9"/>
<text x="366.01 372.62 376.17 382.94" y="58.18" font-size="11.02">0.12</text>
<line x1="392.74" y1="28.50" x2="396.40" y2="28.50" stroke="#262626" stroke-width="0.9"/>
<text x="366.01 372.62 376.17 382.94" y="32.13" font-size="11.02">0.14</text>
<line x1="396.50" y1="210.55" x2="396.50" y2="212.65" stroke="#262626" stroke-width="0.75"/>
<line x1="401.50" y1="210.55" x2="401.50" y2="212.65" stroke="#262626" stroke-width="0.75"/>
<line x1="405.50" y1="210.55" x2="405.50" y2="212.65" stroke="#262626" stroke-width="0.75"/>
<line x1="409.50" y1="210.55" x2="409.50" y2="212.65" stroke="#262626" stroke-width="0.75"/>
<line x1="413.50" y1="210.55" x2="413.50" y2="212.65" stroke="#262626" stroke-width="0.75"/>
<line x1="416.50" y1="210.55" x2="416.50" y2="214.21" stroke="#262626" stroke-width="0.9"/>
<line x1="435.50" y1="210.55" x2="435.50" y2="212.65" stroke="#262626" stroke-width="0.75"/>
<line x1="447.50" y1="210.55" x2="447.50" y2="212.65" stroke="#262626" stroke-width="0.75"/>
<line x1="455.50" y1="210.55" x2="455.50" y2="212.65" stroke="#262626" stroke-width="0.75"/>
<line x1="461.50" y1="210.55" x2="461.50" y2="212.65" stroke="#262626" stroke-width="0.75"/>
<line x1="466.50" y1="210.55" x2="466.50" y2="212.65" stroke="#262626" stroke-width="0.75"/>
<line x1="471.50" y1="210.55" x2="471.50" y2="212.65" stroke="#262626" stroke-width="0.75"/>
<line x1="475.50" y1="210.55" x2="475.50" y2="212.65" stroke="#262626" stroke-width="0.75"/>
<line x1="478.50" y1="210.55" x2="478.50" y2="212.65" stroke="#262626" stroke-width="0.75"/>
<line x1="481.50" y1="210.55" x2="481.50" y2="214.21" stroke="#262626" stroke-width="0.9"/>
<line x1="501.50" y1="210.55" x2="501.50" y2="212.65" stroke="#262626" stroke-width="0.75"/>
<line x1="512.50" y1="210.55" x2="512.50" y2="212.65" stroke="#262626" stroke-width="0.75"/>
<line x1="520.50" y1="210.55" x2="520.50" y2="212.65" stroke="#262626" stroke-width="0.75"/>
<line x1="527.50" y1="210.55" x2="527.50" y2="212.65" stroke="#262626" stroke-width="0.75"/>
<line x1="532.50" y1="210.55" x2="532.50" y2="212.65" stroke="#262626" stroke-width="0.75"/>
<line x1="536.50" y1="210.55" x2="536.50" y2="212.65" stroke="#262626" stroke-width="0.75"/>
<line x1="540.50" y1="210.55" x2="540.50" y2="212.65" stroke="#262626" stroke-width="0.75"/>
<line x1="543.50" y1="210.55" x2="543.50" y2="212.65" stroke="#262626" stroke-width="0.75"/>
<line x1="546.50" y1="210.55" x2="546.50" y2="214.21" stroke="#262626" stroke-width="0.9"/>
<line x1="566.50" y1="210.55" x2="566.50" y2="212.65" stroke="#262626" stroke-width="0.75"/>
<line x1="577.50" y1="210.55" x2="577.50" y2="212.65" stroke="#262626" stroke-width="0.75"/>
<line x1="586.50" y1="210.55" x2="586.50" y2="212.65" stroke="#262626" stroke-width="0.75"/>
<line x1="592.50" y1="210.55" x2="592.50" y2="212.65" stroke="#262626" stroke-width="0.75"/>
<line x1="597.50" y1="210.55" x2="597.50" y2="212.65" stroke="#262626" stroke-width="0.75"/>
<line x1="601.50" y1="210.55" x2="601.50" y2="212.65" stroke="#262626" stroke-width="0.75"/>
<line x1="605.50" y1="210.55" x2="605.50" y2="212.65" stroke="#262626" stroke-width="0.75"/>
<line x1="609.50" y1="210.55" x2="609.50" y2="212.65" stroke="#262626" stroke-width="0.75"/>
<line x1="612.50" y1="210.55" x2="612.50" y2="214.21" stroke="#262626" stroke-width="0.9"/>
<line x1="631.50" y1="210.55" x2="631.50" y2="212.65" stroke="#262626" stroke-width="0.75"/>
<line x1="643.50" y1="210.55" x2="643.50" y2="212.65" stroke="#262626" stroke-width="0.75"/>
<line x1="651.50" y1="210.55" x2="651.50" y2="212.65" stroke="#262626" stroke-width="0.75"/>
<line x1="657.50" y1="210.55" x2="657.50" y2="212.65" stroke="#262626" stroke-width="0.75"/>
<line x1="662.50" y1="210.55" x2="662.50" y2="212.65" stroke="#262626" stroke-width="0.75"/>
<line x1="667.50" y1="210.55" x2="667.50" y2="212.65" stroke="#262626" stroke-width="0.75"/>
<line x1="670.50" y1="210.55" x2="670.50" y2="212.65" stroke="#262626" stroke-width="0.75"/>
<line x1="674.50" y1="210.55" x2="674.50" y2="212.65" stroke="#262626" stroke-width="0.75"/>
<line x1="677.50" y1="210.55" x2="677.50" y2="214.21" stroke="#262626" stroke-width="0.9"/>
<text x="404.71 411.82" y="225.70" font-size="11.57">10</text>
<text x="418.51 424.60" y="221.75" font-size="8.38">−4</text>
<text x="470.02 477.13" y="225.70" font-size="11.57">10</text>
<text x="483.82 489.91" y="221.75" font-size="8.38">−3</text>
<text x="535.33 542.44" y="225.70" font-size="11.57">10</text>
<text x="549.13 555.22" y="221.75" font-size="8.38">−2</text>
<text x="600.64 607.75" y="225.70" font-size="11.57">10</text>
<text x="614.44 620.53" y="221.75" font-size="8.38">−1</text>
<text x="669.35 676.46" y="225.70" font-size="11.57">10</text>
<text x="682.86" y="221.75" font-size="8.38">0</text>
<text x="534.99" y="239.55" font-size="11.02">x</text>
<g transform="translate(360.60,113.35) rotate(-90)"><text x="-77.55 -70.53 -66.90 -59.14 -52.37 -48.50 -45.60 -39.12 -35.34 -31.53 -25.04 -21.81 -13.85 -6.35 0.66 8.44 15.19 21.80 25.35 31.96 35.43 39.35 47.31 55.18 60.92 69.46 73.61" y="0.00" font-size="11.02">σ(Ratio to NNPDF4.0 (NNLO))</text></g>
<text x="495.41 503.33 507.44 515.70 520.23 524.49 532.62 540.75 548.69 552.37 562.72 570.28" y="9.15" font-size="13.23">u at 100 GeV</text>
<line x1="499.0" y1="0.55" x2="502.2" y2="0.55" stroke="#000" stroke-width="1.0"/>
<rect x="401.50" y="20.50" width="132" height="49.8" rx="2.1" fill="#fff" fill-opacity="0.8" stroke="#d0d0d0" stroke-width="0.84"/>
<line x1="405.00" y1="29.10" x2="427.40" y2="29.10" stroke="#66c2a5" stroke-width="1.57"/>
<text x="435.20 443.17 450.67 457.68 465.45 472.21 478.82 482.37 488.98 492.45 496.36 504.33 512.19 517.94 526.47" y="32.98" font-size="11.02">NNPDF4.0 (NNLO)</text>
<line x1="405.00" y1="44.55" x2="427.40" y2="44.55" stroke="#fc8d62" stroke-width="1.57"/>
<text x="434.94 442.52 449.46 456.24 462.86 466.32 470.24 478.20 486.07 491.82 500.35" y="48.43" font-size="11.02">CT18 (NNLO)</text>
<line x1="405.00" y1="60.00" x2="427.40" y2="60.00" stroke="#8da0cb" stroke-width="1.57"/>
<text x="435.20 444.09 451.17 459.04 465.99 472.76 479.38 482.84 486.76 494.72 502.59 508.34 516.87" y="63.88" font-size="11.02">MSHT20 (NNLO)</text>
<line x1="63.50" y1="272.70" x2="63.50" y2="468.10" stroke="#f4f4f4" stroke-width="1"/>
<line x1="128.50" y1="272.70" x2="128.50" y2="468.10" stroke="#f4f4f4" stroke-width="1"/>
<line x1="194.50" y1="272.70" x2="194.50" y2="468.10" stroke="#f4f4f4" stroke-width="1"/>
<line x1="259.50" y1="272.70" x2="259.50" y2="468.10" stroke="#f4f4f4" stroke-width="1"/>
<line x1="324.50" y1="272.70" x2="324.50" y2="468.10" stroke="#f4f4f4" stroke-width="1"/>
<line x1="43.80" y1="442.50" x2="326.90" y2="442.50" stroke="#f4f4f4" stroke-width="1"/>
<line x1="43.80" y1="415.50" x2="326.90" y2="415.50" stroke="#f4f4f4" stroke-width="1"/>
<line x1="43.80" y1="389.50" x2="326.90" y2="389.50" stroke="#f4f4f4" stroke-width="1"/>
<line x1="43.80" y1="363.50" x2="326.90" y2="363.50" stroke="#f4f4f4" stroke-width="1"/>
<line x1="43.80" y1="337.50" x2="326.90" y2="337.50" stroke="#f4f4f4" stroke-width="1"/>
<line x1="43.80" y1="311.50" x2="326.90" y2="311.50" stroke="#f4f4f4" stroke-width="1"/>
<line x1="43.80" y1="285.50" x2="326.90" y2="285.50" stroke="#f4f4f4" stroke-width="1"/>
<g clip-path="url(#cp10)" fill="none" stroke-width="1.57" stroke-linejoin="round">
<path d="M42.5,446.7 43.6,446.9 44.7,447.1 45.7,447.3 46.8,447.5 47.8,447.8 48.9,448.0 50.0,448.2 51.0,448.4 52.1,448.7 53.2,448.9 54.2,449.1 55.3,449.3 56.4,449.6 57.4,449.8 58.5,450.0 59.6,450.3 60.7,450.5 61.7,450.8 62.8,451.0 63.9,451.2 65.0,451.5 66.1,451.7 67.1,451.9 68.2,452.2 69.3,452.4 70.4,452.6 71.5,452.9 72.6,453.1 73.7,453.3 74.7,453.6 75.8,453.8 76.9,454.0 78.0,454.2 79.1,454.5 80.2,454.7 81.3,454.9 82.4,455.1 83.5,455.3 84.6,455.5 85.7,455.7 86.8,455.9 87.9,456.1 89.0,456.3 90.1,456.5 91.2,456.7 92.3,456.9 93.3,457.1 94.4,457.3 95.5,457.4 96.6,457.6 97.7,457.8 98.8,457.9 99.9,458.1 101.0,458.2 102.1,458.4 103.2,458.5 104.3,458.6 105.4,458.8 106.6,458.9 107.7,459.0 108.8,459.1 109.9,459.2 111.0,459.3 112.1,459.4 113.2,459.5 114.3,459.6 115.4,459.7 116.5,459.7 117.6,459.8 118.7,459.8 119.8,459.9 120.8,459.9 121.9,459.9 123.0,459.9 124.1,460.0 125.2,460.0 126.3,460.0 127.4,459.9 128.5,459.9 129.6,459.9 130.7,459.8 131.8,459.8 132.9,459.7 134.0,459.7 135.1,459.6 136.2,459.5 137.3,459.4 138.4,459.3 139.4,459.2 140.5,459.0 141.6,458.9 142.7,458.8 143.8,458.6 144.9,458.4 146.0,458.2 147.0,458.0 148.1,457.8 149.2,457.6 150.3,457.4 151.4,457.2 152.4,456.9 153.5,456.7 154.6,456.4 155.7,456.2 156.7,455.9 157.8,455.6 158.9,455.3 160.0,455.0 161.0,454.7 162.1,454.4 163.2,454.1 164.3,453.8 165.3,453.5 166.4,453.2 167.5,452.9 168.5,452.6 169.6,452.3 170.7,451.9 171.8,451.6 172.8,451.3 173.9,451.0 175.0,450.7 176.0,450.3 177.1,450.0 178.2,449.7 179.2,449.4 180.3,449.1 181.4,448.8 182.5,448.5 183.5,448.2 184.6,447.9 185.7,447.6 186.7,447.3 187.8,447.0 188.9,446.8 190.0,446.5 191.0,446.2 192.1,446.0 193.2,445.7 194.2,445.5 195.3,445.3 196.4,445.1 197.5,444.9 198.5,444.7 199.6,444.5 200.7,444.3 201.8,444.1 202.9,444.0 203.9,443.8 205.0,443.7 206.1,443.6 207.2,443.5 208.3,443.4 209.3,443.3 210.4,443.3 211.5,443.2 212.6,443.1 213.7,443.1 214.8,443.1 215.9,443.1 217.0,443.0 218.1,443.0 219.1,443.0 220.2,443.1 221.3,443.1 222.4,443.1 223.5,443.1 224.6,443.2 225.7,443.2 226.8,443.3 227.9,443.3 229.0,443.4 230.1,443.5 231.2,443.6 232.3,443.6 233.4,443.7 234.5,443.8 235.6,443.9 236.7,444.0 237.8,444.1 238.9,444.2 240.0,444.3 241.2,444.4 242.3,444.5 243.4,444.6 244.5,444.7 245.6,444.8 246.7,444.9 247.8,445.0 248.9,445.1 250.1,445.2 251.2,445.3 252.3,445.4 253.4,445.5 254.5,445.6 255.6,445.7 256.8,445.8 257.9,445.9 259.0,446.0 260.1,446.1 261.3,446.1 262.4,446.2 263.5,446.3 264.6,446.3 265.7,446.4 266.8,446.4 267.9,446.4 269.0,446.3 270.1,446.3 271.2,446.2 272.3,446.1 273.3,445.9 274.3,445.7 275.3,445.5 276.3,445.2 277.3,444.8 278.2,444.4 279.2,444.0 280.1,443.5 280.9,442.9 281.8,442.3 282.6,441.6 283.4,440.8 284.1,440.0 284.9,439.2 285.6,438.3 286.2,437.4 286.9,436.5 287.5,435.6 288.1,434.6 288.7,433.6 289.3,432.7 289.8,431.7 290.4,430.7 290.9,429.7 291.3,428.7 291.8,427.7 292.2,426.7 292.7,425.7 293.1,424.7 293.4,423.6 293.8,422.6 294.2,421.6 294.5,420.5 294.8,419.5 295.1,418.4 295.4,417.3 295.7,416.3 296.0,415.2 296.3,414.1 296.5,413.0 296.7,412.0 297.0,410.9 297.2,409.8 297.4,408.7 297.6,407.6 297.8,406.5 297.9,405.4 298.1,404.3 298.3,403.2 298.4,402.1 298.6,401.0 298.8,399.9 298.9,398.8 299.0,397.7 299.2,396.5 299.3,395.4 299.5,394.3 299.6,393.2 299.7,392.1 299.9,391.0 300.0,389.9 300.1,388.8 300.2,387.7 300.4,386.6 300.5,385.5 300.6,384.4 300.7,383.3 300.8,382.2 301.0,381.1 301.1,380.0 301.2,378.9 301.3,377.8 301.4,376.7 301.5,375.6 301.6,374.5 301.7,373.4 301.8,372.3 301.9,371.2 302.0,370.1 302.1,369.0 302.2,367.9 302.3,366.8 302.4,365.7 302.5,364.6 302.5,363.5 302.6,362.4 302.7,361.3 302.8,360.2 302.9,359.1 303.0,358.0 303.0,356.9 303.1,355.8 303.2,354.7 303.3,353.6 303.4,352.5 303.4,351.4 303.5,350.3 303.6,349.2 303.7,348.1 303.7,347.0 303.8,345.9 303.9,344.8 303.9,343.7 304.0,342.6 304.1,341.5 304.1,340.4 304.2,339.3 304.2,338.2 304.3,337.1 304.4,336.0 304.4,334.9 304.5,333.8 304.6,332.7 304.6,331.6 304.7,330.5 304.7,329.4 304.8,328.3 304.8,327.2 304.9,326.1 304.9,325.0 305.0,323.9 305.1,322.8 305.1,321.7 305.2,320.6 305.2,319.5 305.3,318.4 305.3,317.3 305.4,316.2 305.4,315.2 305.5,314.1 305.5,313.0 305.6,311.9 305.6,310.8 305.7,309.7 305.7,308.6 305.8,307.5 305.8,306.4 305.9,305.3 305.9,304.2 306.0,303.1 306.0,302.0 306.1,300.9 306.1,299.8 306.2,298.7 306.2,297.6 306.3,296.5 306.3,295.4 306.4,294.3 306.4,293.1 306.5,292.0 306.5,290.9 306.6,289.8 306.6,288.7 306.7,287.6 306.7,286.5 306.8,285.4 306.8,284.3 306.9,283.2 306.9,282.1 307.0,281.0 307.0,279.9 307.1,278.8 307.1,277.7 307.2,276.6 307.3,275.5 307.3,274.4 307.4,273.3 307.4,272.2 307.5,271.0 307.6,269.9 307.6,268.8 307.7,267.7 307.7,266.6 307.8,265.5 307.9,264.4 307.9,263.3 308.0,262.2 308.1,261.1 308.1,259.9" stroke="#66c2a5"/>
<path d="M42.5,426.0 43.6,426.5 44.6,426.9 45.7,427.4 46.7,427.8 47.8,428.2 48.9,428.6 49.9,429.0 51.0,429.4 52.1,429.7 53.2,430.0 54.2,430.3 55.3,430.6 56.4,430.9 57.5,431.1 58.5,431.4 59.6,431.6 60.7,431.8 61.8,432.0 62.9,432.2 63.9,432.3 65.0,432.5 66.1,432.6 67.2,432.7 68.3,432.9 69.4,433.0 70.5,433.0 71.5,433.1 72.6,433.2 73.7,433.2 74.8,433.3 75.9,433.3 77.0,433.3 78.1,433.4 79.2,433.4 80.3,433.4 81.4,433.3 82.5,433.3 83.6,433.3 84.7,433.2 85.8,433.2 86.9,433.1 88.0,433.1 89.1,433.0 90.2,433.0 91.3,432.9 92.4,432.8 93.5,432.7 94.6,432.6 95.7,432.5 96.8,432.4 97.9,432.3 99.0,432.2 100.1,432.1 101.2,432.0 102.3,431.9 103.4,431.7 104.5,431.6 105.6,431.5 106.7,431.4 107.9,431.2 109.0,431.1 110.1,431.0 111.2,430.9 112.3,430.8 113.4,430.6 114.5,430.5 115.6,430.4 116.7,430.3 117.8,430.2 118.9,430.0 120.0,429.9 121.1,429.8 122.2,429.7 123.3,429.6 124.4,429.5 125.5,429.4 126.6,429.3 127.7,429.3 128.8,429.2 129.9,429.1 131.0,429.1 132.1,429.0 133.2,429.0 134.3,428.9 135.4,428.9 136.5,428.8 137.6,428.8 138.7,428.8 139.8,428.8 140.9,428.8 142.0,428.8 143.1,428.9 144.2,428.9 145.3,428.9 146.3,429.0 147.4,429.1 148.5,429.2 149.6,429.2 150.7,429.4 151.8,429.5 152.9,429.6 153.9,429.7 155.0,429.9 156.1,430.1 157.2,430.2 158.3,430.4 159.3,430.6 160.4,430.8 161.5,431.1 162.6,431.3 163.6,431.5 164.7,431.8 165.8,432.0 166.9,432.3 167.9,432.5 169.0,432.8 170.1,433.0 171.2,433.3 172.2,433.6 173.3,433.8 174.4,434.1 175.5,434.4 176.5,434.6 177.6,434.9 178.7,435.2 179.7,435.4 180.8,435.7 181.9,435.9 183.0,436.2 184.0,436.4 185.1,436.6 186.2,436.9 187.3,437.1 188.4,437.3 189.4,437.5 190.5,437.7 191.6,437.8 192.7,438.0 193.8,438.1 194.9,438.3 195.9,438.4 197.0,438.5 198.1,438.6 199.2,438.7 200.3,438.7 201.4,438.8 202.5,438.8 203.6,438.8 204.7,438.8 205.8,438.8 206.9,438.7 208.0,438.7 209.1,438.6 210.2,438.5 211.3,438.4 212.4,438.3 213.5,438.2 214.6,438.1 215.7,438.0 216.8,437.9 217.9,437.8 219.1,437.8 220.2,437.7 221.3,437.6 222.4,437.5 223.5,437.5 224.6,437.4 225.7,437.4 226.8,437.4 227.9,437.4 229.0,437.4 230.1,437.5 231.2,437.5 232.3,437.6 233.4,437.7 234.5,437.8 235.6,438.0 236.7,438.1 237.8,438.2 238.9,438.3 240.0,438.3 241.1,438.4 242.2,438.4 243.2,438.4 244.3,438.3 245.4,438.3 246.5,438.2 247.6,438.1 248.7,438.1 249.7,437.9 250.8,437.8 251.9,437.7 253.0,437.6 254.1,437.4 255.2,437.3 256.3,437.2 257.4,437.0 258.5,436.9 259.6,436.8 260.7,436.7 261.8,436.6 263.0,436.5 264.1,436.4 265.2,436.3 266.3,436.3 267.5,436.3 268.6,436.2 269.7,436.2 270.9,436.1 272.0,436.1 273.1,436.0 274.2,435.8 275.3,435.7 276.4,435.5 277.5,435.3 278.5,435.0 279.5,434.6 280.5,434.2 281.5,433.8 282.4,433.3 283.3,432.7 284.2,432.1 285.0,431.5 285.8,430.7 286.6,430.0 287.3,429.1 287.9,428.3 288.5,427.4 289.1,426.4 289.7,425.5 290.2,424.5 290.7,423.4 291.2,422.4 291.6,421.3 292.0,420.3 292.4,419.2 292.8,418.1 293.1,417.0 293.4,416.0 293.8,414.9 294.0,413.8 294.3,412.7 294.6,411.6 294.8,410.6 295.1,409.5 295.3,408.4 295.5,407.3 295.7,406.2 295.8,405.1 296.0,404.1 296.2,403.0 296.3,401.9 296.5,400.8 296.6,399.7 296.8,398.6 296.9,397.5 297.0,396.5 297.2,395.4 297.3,394.3 297.4,393.2 297.5,392.1 297.6,391.0 297.8,389.9 297.9,388.8 298.0,387.7 298.1,386.6 298.2,385.5 298.3,384.4 298.4,383.4 298.5,382.3 298.6,381.2 298.7,380.1 298.8,379.0 298.9,377.9 299.0,376.8 299.1,375.7 299.2,374.6 299.3,373.5 299.4,372.4 299.5,371.3 299.6,370.2 299.6,369.1 299.7,368.0 299.8,366.9 299.9,365.8 300.0,364.7 300.0,363.6 300.1,362.5 300.2,361.4 300.3,360.3 300.3,359.2 300.4,358.1 300.5,357.0 300.6,355.9 300.6,354.8 300.7,353.7 300.8,352.6 300.8,351.5 300.9,350.4 300.9,349.3 301.0,348.2 301.1,347.1 301.1,346.0 301.2,344.9 301.3,343.8 301.3,342.7 301.4,341.6 301.4,340.5 301.5,339.3 301.5,338.2 301.6,337.1 301.7,336.0 301.7,334.9 301.8,333.8 301.8,332.7 301.9,331.6 301.9,330.5 302.0,329.4 302.0,328.3 302.1,327.2 302.1,326.1 302.2,325.0 302.2,323.9 302.3,322.8 302.3,321.7 302.4,320.6 302.4,319.5 302.5,318.4 302.5,317.3 302.6,316.2 302.6,315.1 302.7,314.0 302.7,312.9 302.8,311.8 302.8,310.7 302.8,309.6 302.9,308.5 302.9,307.4 303.0,306.3 303.0,305.2 303.1,304.1 303.1,303.0 303.2,301.9 303.2,300.8 303.3,299.7 303.3,298.6 303.4,297.5 303.4,296.4 303.5,295.3 303.5,294.2 303.6,293.0 303.6,291.9 303.7,290.8 303.7,289.7 303.8,288.6 303.8,287.5 303.9,286.4 303.9,285.3 304.0,284.2 304.0,283.1 304.0,282.0 304.1,280.9 304.1,279.8 304.2,278.7 304.2,277.6 304.3,276.5 304.3,275.4 304.4,274.3 304.4,273.2 304.5,272.1 304.5,271.0 304.6,269.9 304.6,268.8 304.7,267.7 304.7,266.6 304.8,265.5 304.8,264.4 304.9,263.3 304.9,262.2 305.0,261.1 305.0,260.0" stroke="#fc8d62"/>
<path d="M42.5,440.6 43.6,440.9 44.7,441.1 45.7,441.4 46.8,441.6 47.9,441.9 49.0,442.1 50.1,442.3 51.2,442.5 52.3,442.7 53.4,442.9 54.4,443.1 55.5,443.3 56.6,443.5 57.7,443.7 58.8,443.8 59.9,444.0 61.0,444.2 62.1,444.3 63.2,444.5 64.3,444.6 65.4,444.7 66.5,444.9 67.5,445.0 68.6,445.1 69.7,445.2 70.8,445.3 71.9,445.5 73.0,445.6 74.1,445.6 75.2,445.7 76.3,445.8 77.4,445.9 78.5,446.0 79.6,446.1 80.7,446.1 81.8,446.2 82.9,446.2 84.0,446.3 85.1,446.3 86.2,446.4 87.3,446.4 88.4,446.5 89.5,446.5 90.6,446.5 91.7,446.6 92.8,446.6 93.9,446.6 95.0,446.6 96.1,446.6 97.2,446.7 98.3,446.7 99.4,446.7 100.5,446.7 101.6,446.7 102.7,446.7 103.8,446.7 104.9,446.7 106.0,446.7 107.1,446.6 108.2,446.6 109.3,446.6 110.4,446.6 111.6,446.6 112.7,446.6 113.8,446.5 114.9,446.5 116.0,446.5 117.1,446.4 118.2,446.4 119.3,446.4 120.4,446.4 121.5,446.3 122.6,446.3 123.7,446.2 124.8,446.2 125.9,446.2 127.0,446.1 128.1,446.1 129.2,446.1 130.3,446.0 131.4,446.0 132.6,445.9 133.7,445.9 134.8,445.8 135.9,445.8 137.0,445.8 138.1,445.7 139.2,445.7 140.3,445.6 141.4,445.6 142.5,445.6 143.6,445.5 144.7,445.5 145.8,445.4 146.9,445.4 148.0,445.4 149.1,445.3 150.3,445.3 151.4,445.2 152.5,445.2 153.6,445.2 154.7,445.1 155.8,445.1 156.9,445.1 158.0,445.0 159.1,445.0 160.2,444.9 161.3,444.9 162.4,444.9 163.5,444.8 164.6,444.8 165.7,444.7 166.8,444.7 167.9,444.6 169.0,444.6 170.1,444.5 171.2,444.5 172.3,444.4 173.4,444.4 174.5,444.3 175.6,444.3 176.7,444.2 177.8,444.1 178.9,444.1 180.0,444.0 181.1,443.9 182.2,443.8 183.3,443.8 184.4,443.7 185.5,443.6 186.6,443.5 187.7,443.4 188.8,443.3 189.9,443.2 191.0,443.1 192.1,443.0 193.2,442.9 194.3,442.8 195.4,442.6 196.5,442.5 197.6,442.4 198.7,442.2 199.8,442.1 200.9,442.0 201.9,441.8 203.0,441.7 204.1,441.5 205.2,441.3 206.3,441.2 207.4,441.0 208.5,440.8 209.6,440.6 210.6,440.4 211.7,440.3 212.8,440.1 213.9,439.9 215.0,439.7 216.1,439.5 217.2,439.3 218.2,439.1 219.3,439.0 220.4,438.8 221.5,438.6 222.6,438.4 223.7,438.3 224.8,438.1 225.9,437.9 227.0,437.8 228.1,437.6 229.1,437.5 230.2,437.3 231.3,437.2 232.4,437.1 233.5,437.0 234.6,436.9 235.7,436.8 236.8,436.7 237.9,436.6 239.0,436.5 240.2,436.5 241.3,436.4 242.4,436.4 243.5,436.4 244.6,436.4 245.7,436.4 246.8,436.4 248.0,436.4 249.1,436.5 250.2,436.5 251.3,436.6 252.5,436.6 253.6,436.7 254.7,436.7 255.8,436.7 257.0,436.8 258.1,436.8 259.2,436.8 260.3,436.8 261.4,436.8 262.6,436.8 263.7,436.7 264.8,436.6 265.9,436.5 267.0,436.4 268.1,436.3 269.2,436.1 270.3,435.9 271.4,435.7 272.4,435.4 273.5,435.2 274.6,434.9 275.6,434.6 276.6,434.2 277.6,433.8 278.6,433.4 279.6,433.0 280.6,432.5 281.5,432.0 282.5,431.5 283.4,430.9 284.3,430.4 285.1,429.8 286.0,429.1 286.8,428.4 287.6,427.7 288.4,427.0 289.2,426.2 289.9,425.5 290.6,424.7 291.3,423.9 292.0,423.0 292.6,422.2 293.2,421.3 293.8,420.4 294.4,419.5 294.9,418.6 295.5,417.6 296.0,416.7 296.5,415.7 296.9,414.8 297.4,413.8 297.8,412.8 298.2,411.8 298.6,410.7 299.0,409.7 299.4,408.7 299.8,407.6 300.1,406.5 300.4,405.5 300.7,404.4 301.0,403.3 301.3,402.2 301.6,401.1 301.9,400.0 302.1,398.9 302.4,397.8 302.6,396.7 302.9,395.6 303.1,394.5 303.3,393.3 303.5,392.2 303.7,391.1 303.9,390.0 304.1,388.9 304.3,387.7 304.5,386.6 304.7,385.5 304.9,384.4 305.1,383.3 305.2,382.1 305.4,381.0 305.6,379.9 305.7,378.8 305.9,377.7 306.0,376.6 306.2,375.5 306.3,374.4 306.5,373.2 306.6,372.1 306.7,371.0 306.9,369.9 307.0,368.8 307.1,367.7 307.3,366.6 307.4,365.5 307.5,364.4 307.6,363.3 307.7,362.2 307.8,361.1 307.9,360.0 308.0,358.9 308.1,357.8 308.2,356.7 308.3,355.6 308.4,354.5 308.5,353.4 308.6,352.3 308.7,351.2 308.8,350.1 308.9,349.0 308.9,347.9 309.0,346.9 309.1,345.8 309.2,344.7 309.2,343.6 309.3,342.5 309.4,341.4 309.4,340.3 309.5,339.2 309.6,338.1 309.6,337.0 309.7,335.9 309.8,334.8 309.8,333.8 309.9,332.7 309.9,331.6 310.0,330.5 310.0,329.4 310.1,328.3 310.1,327.2 310.2,326.1 310.2,325.0 310.3,323.9 310.3,322.8 310.3,321.8 310.4,320.7 310.4,319.6 310.5,318.5 310.5,317.4 310.6,316.3 310.6,315.2 310.6,314.1 310.7,313.0 310.7,311.9 310.7,310.8 310.8,309.7 310.8,308.6 310.9,307.6 310.9,306.5 310.9,305.4 311.0,304.3 311.0,303.2 311.0,302.1 311.1,301.0 311.1,299.9 311.1,298.8 311.2,297.7 311.2,296.6 311.3,295.5 311.3,294.4 311.3,293.3 311.4,292.2 311.4,291.1 311.5,290.0 311.5,288.9 311.5,287.8 311.6,286.7 311.6,285.6 311.7,284.5 311.7,283.3 311.8,282.2 311.8,281.1 311.9,280.0 311.9,278.9 312.0,277.8 312.0,276.7 312.1,275.6 312.1,274.4 312.2,273.3 312.2,272.2 312.3,271.1 312.3,270.0 312.4,268.9 312.5,267.7 312.5,266.6 312.6,265.5 312.7,264.4 312.7,263.2 312.8,262.1 312.9,261.0 313.0,259.8" stroke="#8da0cb"/>
</g>
<line x1="43.80" y1="272.70" x2="43.80" y2="468.50" stroke="#262626" stroke-width="0.84"/>
<line x1="43.40" y1="468.40" x2="326.90" y2="468.40" stroke="#262626" stroke-width="0.95"/>
<line x1="40.14" y1="468.50" x2="43.80" y2="468.50" stroke="#262626" stroke-width="0.9"/>
<text x="13.41 20.02 23.57 30.34" y="472.05" font-size="11.02">0.00</text>
<line x1="40.14" y1="442.50" x2="43.80" y2="442.50" stroke="#262626" stroke-width="0.9"/>
<text x="13.41 20.02 23.57 30.34" y="446.00" font-size="11.02">0.02</text>
<line x1="40.14" y1="415.50" x2="43.80" y2="415.50" stroke="#262626" stroke-width="0.9"/>
<text x="13.41 20.02 23.57 30.34" y="419.94" font-size="11.02">0.04</text>
<line x1="40.14" y1="389.50" x2="43.80" y2="389.50" stroke="#262626" stroke-width="0.9"/>
<text x="13.41 20.02 23.57 30.34" y="393.89" font-size="11.02">0.06</text>
<line x1="40.14" y1="363.50" x2="43.80" y2="363.50" stroke="#262626" stroke-width="0.9"/>
<text x="13.41 20.02 23.57 30.34" y="367.84" font-size="11.02">0.08</text>
<line x1="40.14" y1="337.50" x2="43.80" y2="337.50" stroke="#262626" stroke-width="0.9"/>
<text x="13.41 20.02 23.57 30.34" y="341.78" font-size="11.02">0.10</text>
<line x1="40.14" y1="311.50" x2="43.80" y2="311.50" stroke="#262626" stroke-width="0.9"/>
<text x="13.41 20.02 23.57 30.34" y="315.73" font-size="11.02">0.12</text>
<line x1="40.14" y1="285.50" x2="43.80" y2="285.50" stroke="#262626" stroke-width="0.9"/>
<text x="13.41 20.02 23.57 30.34" y="289.68" font-size="11.02">0.14</text>
<line x1="43.50" y1="468.10" x2="43.50" y2="470.20" stroke="#262626" stroke-width="0.75"/>
<line x1="48.50" y1="468.10" x2="48.50" y2="470.20" stroke="#262626" stroke-width="0.75"/>
<line x1="53.50" y1="468.10" x2="53.50" y2="470.20" stroke="#262626" stroke-width="0.75"/>
<line x1="57.50" y1="468.10" x2="57.50" y2="470.20" stroke="#262626" stroke-width="0.75"/>
<line x1="60.50" y1="468.10" x2="60.50" y2="470.20" stroke="#262626" stroke-width="0.75"/>
<line x1="63.50" y1="468.10" x2="63.50" y2="471.76" stroke="#262626" stroke-width="0.9"/>
<line x1="83.50" y1="468.10" x2="83.50" y2="470.20" stroke="#262626" stroke-width="0.75"/>
<line x1="94.50" y1="468.10" x2="94.50" y2="470.20" stroke="#262626" stroke-width="0.75"/>
<line x1="102.50" y1="468.10" x2="102.50" y2="470.20" stroke="#262626" stroke-width="0.75"/>
<line x1="109.50" y1="468.10" x2="109.50" y2="470.20" stroke="#262626" stroke-width="0.75"/>
<line x1="114.50" y1="468.10" x2="114.50" y2="470.20" stroke="#262626" stroke-width="0.75"/>
<line x1="118.50" y1="468.10" x2="118.50" y2="470.20" stroke="#262626" stroke-width="0.75"/>
<line x1="122.50" y1="468.10" x2="122.50" y2="470.20" stroke="#262626" stroke-width="0.75"/>
<line x1="125.50" y1="468.10" x2="125.50" y2="470.20" stroke="#262626" stroke-width="0.75"/>
<line x1="128.50" y1="468.10" x2="128.50" y2="471.76" stroke="#262626" stroke-width="0.9"/>
<line x1="148.50" y1="468.10" x2="148.50" y2="470.20" stroke="#262626" stroke-width="0.75"/>
<line x1="159.50" y1="468.10" x2="159.50" y2="470.20" stroke="#262626" stroke-width="0.75"/>
<line x1="168.50" y1="468.10" x2="168.50" y2="470.20" stroke="#262626" stroke-width="0.75"/>
<line x1="174.50" y1="468.10" x2="174.50" y2="470.20" stroke="#262626" stroke-width="0.75"/>
<line x1="179.50" y1="468.10" x2="179.50" y2="470.20" stroke="#262626" stroke-width="0.75"/>
<line x1="183.50" y1="468.10" x2="183.50" y2="470.20" stroke="#262626" stroke-width="0.75"/>
<line x1="187.50" y1="468.10" x2="187.50" y2="470.20" stroke="#262626" stroke-width="0.75"/>
<line x1="191.50" y1="468.10" x2="191.50" y2="470.20" stroke="#262626" stroke-width="0.75"/>
<line x1="194.50" y1="468.10" x2="194.50" y2="471.76" stroke="#262626" stroke-width="0.9"/>
<line x1="213.50" y1="468.10" x2="213.50" y2="470.20" stroke="#262626" stroke-width="0.75"/>
<line x1="225.50" y1="468.10" x2="225.50" y2="470.20" stroke="#262626" stroke-width="0.75"/>
<line x1="233.50" y1="468.10" x2="233.50" y2="470.20" stroke="#262626" stroke-width="0.75"/>
<line x1="239.50" y1="468.10" x2="239.50" y2="470.20" stroke="#262626" stroke-width="0.75"/>
<line x1="244.50" y1="468.10" x2="244.50" y2="470.20" stroke="#262626" stroke-width="0.75"/>
<line x1="249.50" y1="468.10" x2="249.50" y2="470.20" stroke="#262626" stroke-width="0.75"/>
<line x1="253.50" y1="468.10" x2="253.50" y2="470.20" stroke="#262626" stroke-width="0.75"/>
<line x1="256.50" y1="468.10" x2="256.50" y2="470.20" stroke="#262626" stroke-width="0.75"/>
<line x1="259.50" y1="468.10" x2="259.50" y2="471.76" stroke="#262626" stroke-width="0.9"/>
<line x1="279.50" y1="468.10" x2="279.50" y2="470.20" stroke="#262626" stroke-width="0.75"/>
<line x1="290.50" y1="468.10" x2="290.50" y2="470.20" stroke="#262626" stroke-width="0.75"/>
<line x1="298.50" y1="468.10" x2="298.50" y2="470.20" stroke="#262626" stroke-width="0.75"/>
<line x1="305.50" y1="468.10" x2="305.50" y2="470.20" stroke="#262626" stroke-width="0.75"/>
<line x1="310.50" y1="468.10" x2="310.50" y2="470.20" stroke="#262626" stroke-width="0.75"/>
<line x1="314.50" y1="468.10" x2="314.50" y2="470.20" stroke="#262626" stroke-width="0.75"/>
<line x1="318.50" y1="468.10" x2="318.50" y2="470.20" stroke="#262626" stroke-width="0.75"/>
<line x1="321.50" y1="468.10" x2="321.50" y2="470.20" stroke="#262626" stroke-width="0.75"/>
<line x1="324.50" y1="468.10" x2="324.50" y2="471.76" stroke="#262626" stroke-width="0.9"/>
<text x="52.11 59.22" y="483.25" font-size="11.57">10</text>
<text x="65.91 72.00" y="479.30" font-size="8.38">−4</text>
<text x="117.42 124.53" y="483.25" font-size="11.57">10</text>
<text x="131.22 137.31" y="479.30" font-size="8.38">−3</text>
<text x="182.73 189.84" y="483.25" font-size="11.57">10</text>
<text x="196.53 202.62" y="479.30" font-size="8.38">−2</text>
<text x="248.04 255.15" y="483.25" font-size="11.57">10</text>
<text x="261.84 267.93" y="479.30" font-size="8.38">−1</text>
<text x="316.75 323.86" y="483.25" font-size="11.57">10</text>
<text x="330.26" y="479.30" font-size="8.38">0</text>
<text x="182.39" y="497.10" font-size="11.02">x</text>
<g transform="translate(8.00,370.90) rotate(-90)"><text x="-77.55 -70.53 -66.90 -59.14 -52.37 -48.50 -45.60 -39.12 -35.34 -31.53 -25.04 -21.81 -13.85 -6.35 0.66 8.44 15.19 21.80 25.35 31.96 35.43 39.35 47.31 55.18 60.92 69.46 73.61" y="0.00" font-size="11.02">σ(Ratio to NNPDF4.0 (NNLO))</text></g>
<text x="142.81 150.74 154.84 163.10 167.64 171.90 180.03 188.16 196.10 199.77 210.12 217.69" y="266.70" font-size="13.23">d at 100 GeV</text>
<rect x="49.20" y="278.00" width="132" height="49.8" rx="2.1" fill="#fff" fill-opacity="0.8" stroke="#d0d0d0" stroke-width="0.84"/>
<line x1="52.70" y1="286.60" x2="75.10" y2="286.60" stroke="#66c2a5" stroke-width="1.57"/>
<text x="82.90 90.87 98.37 105.38 113.15 119.91 126.52 130.07 136.68 140.15 144.06 152.03 159.89 165.64 174.17" y="290.48" font-size="11.02">NNPDF4.0 (NNLO)</text>
<line x1="52.70" y1="302.05" x2="75.10" y2="302.05" stroke="#fc8d62" stroke-width="1.57"/>
<text x="82.64 90.22 97.16 103.94 110.56 114.02 117.94 125.90 133.77 139.52 148.05" y="305.93" font-size="11.02">CT18 (NNLO)</text>
<line x1="52.70" y1="317.50" x2="75.10" y2="317.50" stroke="#8da0cb" stroke-width="1.57"/>
<text x="82.90 91.79 98.87 106.74 113.69 120.46 127.08 130.54 134.46 142.42 150.29 156.04 164.57" y="321.38" font-size="11.02">MSHT20 (NNLO)</text>
<line x1="416.50" y1="272.70" x2="416.50" y2="468.10" stroke="#f4f4f4" stroke-width="1"/>
<line x1="481.50" y1="272.70" x2="481.50" y2="468.10" stroke="#f4f4f4" stroke-width="1"/>
<line x1="546.50" y1="272.70" x2="546.50" y2="468.10" stroke="#f4f4f4" stroke-width="1"/>
<line x1="612.50" y1="272.70" x2="612.50" y2="468.10" stroke="#f4f4f4" stroke-width="1"/>
<line x1="677.50" y1="272.70" x2="677.50" y2="468.10" stroke="#f4f4f4" stroke-width="1"/>
<line x1="396.40" y1="442.50" x2="679.50" y2="442.50" stroke="#f4f4f4" stroke-width="1"/>
<line x1="396.40" y1="415.50" x2="679.50" y2="415.50" stroke="#f4f4f4" stroke-width="1"/>
<line x1="396.40" y1="389.50" x2="679.50" y2="389.50" stroke="#f4f4f4" stroke-width="1"/>
<line x1="396.40" y1="363.50" x2="679.50" y2="363.50" stroke="#f4f4f4" stroke-width="1"/>
<line x1="396.40" y1="337.50" x2="679.50" y2="337.50" stroke="#f4f4f4" stroke-width="1"/>
<line x1="396.40" y1="311.50" x2="679.50" y2="311.50" stroke="#f4f4f4" stroke-width="1"/>
<line x1="396.40" y1="285.50" x2="679.50" y2="285.50" stroke="#f4f4f4" stroke-width="1"/>
<g clip-path="url(#cp11)" fill="none" stroke-width="1.57" stroke-linejoin="round">
<path d="M395.5,446.1 396.6,446.3 397.7,446.4 398.8,446.6 399.8,446.8 400.9,446.9 402.0,447.1 403.1,447.3 404.2,447.5 405.2,447.7 406.3,447.9 407.4,448.1 408.5,448.3 409.6,448.6 410.7,448.8 411.7,449.0 412.8,449.3 413.9,449.5 415.0,449.8 416.1,450.0 417.2,450.3 418.2,450.5 419.3,450.8 420.4,451.0 421.5,451.3 422.6,451.5 423.6,451.8 424.7,452.1 425.8,452.3 426.9,452.6 428.0,452.8 429.1,453.1 430.1,453.4 431.2,453.6 432.3,453.9 433.4,454.1 434.5,454.4 435.6,454.6 436.7,454.8 437.7,455.1 438.8,455.3 439.9,455.5 441.0,455.8 442.1,456.0 443.2,456.2 444.3,456.4 445.4,456.6 446.4,456.8 447.5,457.0 448.6,457.1 449.7,457.3 450.8,457.5 451.9,457.6 453.0,457.8 454.1,457.9 455.2,458.0 456.3,458.2 457.4,458.3 458.4,458.4 459.5,458.4 460.6,458.5 461.7,458.6 462.8,458.6 463.9,458.7 465.0,458.7 466.1,458.7 467.2,458.8 468.3,458.8 469.4,458.8 470.5,458.8 471.6,458.8 472.7,458.7 473.8,458.7 474.9,458.7 476.0,458.6 477.1,458.6 478.2,458.5 479.3,458.4 480.4,458.4 481.5,458.3 482.6,458.2 483.7,458.1 484.8,458.0 485.9,457.9 487.0,457.8 488.1,457.7 489.2,457.6 490.3,457.4 491.4,457.3 492.5,457.2 493.6,457.0 494.7,456.9 495.8,456.7 496.9,456.6 498.0,456.4 499.1,456.3 500.2,456.1 501.3,456.0 502.4,455.8 503.5,455.6 504.6,455.5 505.7,455.3 506.8,455.1 507.9,454.9 509.0,454.7 510.1,454.5 511.2,454.4 512.3,454.2 513.4,454.0 514.5,453.8 515.6,453.5 516.7,453.3 517.8,453.1 518.9,452.9 519.9,452.7 521.0,452.5 522.1,452.2 523.2,452.0 524.3,451.8 525.4,451.5 526.4,451.3 527.5,451.0 528.6,450.8 529.7,450.5 530.8,450.3 531.8,450.0 532.9,449.7 534.0,449.4 535.0,449.2 536.1,448.9 537.2,448.6 538.2,448.3 539.3,448.0 540.3,447.7 541.4,447.4 542.4,447.1 543.5,446.8 544.5,446.5 545.6,446.2 546.6,445.8 547.7,445.5 548.7,445.2 549.7,444.8 550.8,444.5 551.8,444.2 552.8,443.8 553.9,443.5 554.9,443.1 555.9,442.7 556.9,442.4 558.0,442.0 559.0,441.7 560.0,441.3 561.0,440.9 562.1,440.6 563.1,440.2 564.1,439.8 565.2,439.5 566.2,439.1 567.2,438.7 568.3,438.3 569.3,438.0 570.3,437.6 571.4,437.2 572.4,436.9 573.5,436.5 574.5,436.1 575.6,435.8 576.6,435.4 577.7,435.1 578.8,434.7 579.8,434.4 580.9,434.0 582.0,433.7 583.1,433.3 584.2,433.0 585.3,432.6 586.4,432.3 587.5,432.0 588.6,431.6 589.7,431.3 590.8,430.9 591.9,430.6 593.0,430.2 594.0,429.9 595.1,429.5 596.2,429.1 597.3,428.8 598.3,428.4 599.4,428.0 600.4,427.5 601.5,427.1 602.5,426.7 603.5,426.2 604.5,425.8 605.5,425.3 606.4,424.8 607.4,424.3 608.3,423.7 609.2,423.2 610.1,422.6 611.0,422.0 611.9,421.4 612.7,420.7 613.5,420.0 614.3,419.4 615.1,418.6 615.8,417.9 616.5,417.2 617.2,416.4 617.9,415.6 618.6,414.8 619.2,413.9 619.9,413.1 620.5,412.2 621.1,411.3 621.7,410.4 622.2,409.5 622.8,408.6 623.3,407.6 623.8,406.7 624.3,405.7 624.8,404.7 625.2,403.7 625.7,402.7 626.1,401.7 626.5,400.7 626.9,399.7 627.3,398.6 627.7,397.6 628.0,396.5 628.4,395.4 628.7,394.4 629.1,393.3 629.4,392.2 629.7,391.1 630.0,390.0 630.3,388.9 630.6,387.8 630.8,386.7 631.1,385.6 631.3,384.5 631.6,383.4 631.8,382.3 632.0,381.2 632.2,380.1 632.4,379.0 632.6,377.9 632.8,376.8 633.0,375.7 633.2,374.6 633.4,373.5 633.5,372.4 633.7,371.3 633.8,370.2 634.0,369.1 634.1,368.0 634.3,366.9 634.4,365.8 634.5,364.7 634.6,363.6 634.7,362.5 634.8,361.4 634.9,360.3 635.0,359.2 635.1,358.1 635.2,357.0 635.3,355.8 635.4,354.7 635.5,353.6 635.6,352.5 635.6,351.4 635.7,350.3 635.8,349.2 635.8,348.1 635.9,347.0 635.9,345.9 636.0,344.8 636.1,343.7 636.1,342.6 636.2,341.5 636.2,340.4 636.3,339.3 636.3,338.2 636.4,337.1 636.4,336.0 636.4,334.9 636.5,333.8 636.5,332.7 636.6,331.6 636.6,330.5 636.7,329.4 636.7,328.3 636.8,327.2 636.8,326.1 636.9,325.0 636.9,323.9 637.0,322.8 637.0,321.7 637.1,320.6 637.1,319.5 637.2,318.4 637.2,317.3 637.3,316.2 637.4,315.1 637.4,314.0 637.5,312.9 637.6,311.8 637.7,310.7 637.8,309.6 637.8,308.5 637.9,307.4 638.0,306.3 638.1,305.2 638.2,304.1 638.3,303.0 638.4,301.9 638.5,300.8 638.6,299.7 638.7,298.6 638.9,297.5 639.0,296.4 639.1,295.3 639.2,294.2 639.3,293.1 639.4,292.0 639.5,290.9 639.7,289.8 639.8,288.7 639.9,287.6 640.0,286.5 640.1,285.4 640.2,284.2 640.3,283.1 640.4,282.0 640.5,280.9 640.6,279.8 640.7,278.7 640.8,277.6 640.9,276.5 641.0,275.4 641.1,274.3 641.2,273.2 641.3,272.1 641.4,271.0 641.5,269.9 641.5,268.8 641.6,267.7 641.7,266.6 641.7,265.5 641.8,264.4 641.9,263.3 641.9,262.2 641.9,261.1 642.0,260.0" stroke="#66c2a5"/>
<path d="M395.5,425.8 396.6,426.1 397.6,426.4 398.7,426.7 399.8,427.0 400.9,427.2 401.9,427.5 403.0,427.8 404.1,428.0 405.2,428.3 406.3,428.5 407.4,428.7 408.4,429.0 409.5,429.2 410.6,429.4 411.7,429.6 412.8,429.8 413.9,430.0 415.0,430.2 416.0,430.4 417.1,430.5 418.2,430.7 419.3,430.9 420.4,431.0 421.5,431.2 422.6,431.3 423.7,431.4 424.8,431.5 425.9,431.6 427.0,431.8 428.1,431.9 429.2,431.9 430.3,432.0 431.4,432.1 432.5,432.2 433.5,432.2 434.6,432.3 435.7,432.3 436.8,432.3 437.9,432.4 439.0,432.4 440.1,432.4 441.2,432.4 442.3,432.4 443.4,432.3 444.5,432.3 445.6,432.3 446.7,432.2 447.8,432.2 448.9,432.1 450.0,432.0 451.1,432.0 452.2,431.9 453.3,431.8 454.4,431.7 455.5,431.5 456.6,431.4 457.7,431.3 458.8,431.1 459.9,431.0 461.0,430.8 462.1,430.6 463.2,430.4 464.3,430.3 465.3,430.1 466.4,429.9 467.5,429.7 468.6,429.5 469.7,429.3 470.8,429.0 471.9,428.8 473.0,428.6 474.1,428.4 475.2,428.2 476.3,428.0 477.4,427.8 478.4,427.6 479.5,427.3 480.6,427.1 481.7,426.9 482.8,426.7 483.9,426.5 485.0,426.4 486.1,426.2 487.2,426.0 488.3,425.8 489.4,425.7 490.4,425.5 491.5,425.4 492.6,425.2 493.7,425.1 494.8,425.0 495.9,424.9 497.0,424.8 498.1,424.8 499.2,424.7 500.3,424.6 501.4,424.6 502.5,424.6 503.6,424.6 504.7,424.6 505.8,424.6 506.9,424.7 508.0,424.8 509.1,424.8 510.2,424.9 511.3,425.1 512.4,425.2 513.4,425.3 514.5,425.5 515.6,425.6 516.7,425.8 517.8,426.0 518.9,426.2 520.0,426.4 521.1,426.6 522.2,426.7 523.3,426.9 524.4,427.1 525.5,427.3 526.6,427.5 527.7,427.7 528.8,427.9 529.9,428.1 531.0,428.3 532.1,428.5 533.2,428.6 534.3,428.8 535.4,428.9 536.5,429.1 537.6,429.2 538.7,429.3 539.8,429.4 540.9,429.4 542.0,429.5 543.1,429.5 544.1,429.6 545.2,429.6 546.3,429.5 547.4,429.5 548.5,429.4 549.6,429.4 550.6,429.3 551.7,429.1 552.8,429.0 553.9,428.8 554.9,428.7 556.0,428.5 557.1,428.2 558.1,428.0 559.2,427.7 560.3,427.4 561.3,427.1 562.4,426.8 563.4,426.5 564.5,426.1 565.5,425.8 566.5,425.4 567.6,425.1 568.6,424.7 569.7,424.3 570.7,424.0 571.8,423.6 572.8,423.2 573.9,422.8 574.9,422.4 575.9,422.1 577.0,421.7 578.0,421.3 579.0,420.9 580.1,420.5 581.1,420.0 582.1,419.6 583.1,419.2 584.1,418.7 585.1,418.3 586.1,417.8 587.1,417.3 588.1,416.9 589.1,416.3 590.1,415.8 591.1,415.3 592.0,414.7 593.0,414.2 593.9,413.6 594.9,413.0 595.8,412.4 596.7,411.8 597.6,411.1 598.5,410.5 599.4,409.8 600.3,409.1 601.2,408.4 602.0,407.7 602.8,407.0 603.6,406.3 604.4,405.5 605.2,404.7 606.0,403.9 606.7,403.1 607.5,402.3 608.2,401.5 608.9,400.7 609.5,399.8 610.2,398.9 610.8,398.1 611.5,397.2 612.1,396.3 612.7,395.4 613.3,394.4 613.8,393.5 614.4,392.6 614.9,391.6 615.5,390.6 616.0,389.7 616.5,388.7 617.0,387.7 617.4,386.7 617.9,385.7 618.4,384.7 618.8,383.7 619.2,382.7 619.7,381.7 620.1,380.6 620.5,379.6 620.9,378.6 621.2,377.5 621.6,376.5 622.0,375.4 622.3,374.4 622.7,373.3 623.0,372.3 623.4,371.2 623.7,370.1 624.0,369.1 624.3,368.0 624.6,367.0 624.9,365.9 625.2,364.8 625.5,363.8 625.8,362.7 626.1,361.6 626.4,360.6 626.6,359.5 626.9,358.4 627.1,357.4 627.4,356.3 627.6,355.2 627.9,354.1 628.1,353.0 628.3,352.0 628.5,350.9 628.7,349.8 628.9,348.7 629.2,347.6 629.4,346.6 629.5,345.5 629.7,344.4 629.9,343.3 630.1,342.2 630.3,341.1 630.5,340.0 630.6,339.0 630.8,337.9 631.0,336.8 631.1,335.7 631.3,334.6 631.4,333.5 631.6,332.4 631.7,331.3 631.9,330.2 632.0,329.1 632.2,328.0 632.3,326.9 632.4,325.8 632.6,324.8 632.7,323.7 632.8,322.6 632.9,321.5 633.1,320.4 633.2,319.3 633.3,318.2 633.4,317.1 633.5,316.0 633.6,314.9 633.7,313.8 633.9,312.7 634.0,311.6 634.1,310.5 634.2,309.4 634.3,308.3 634.4,307.2 634.5,306.1 634.6,305.0 634.7,303.9 634.8,302.8 634.9,301.7 635.0,300.6 635.1,299.5 635.2,298.4 635.3,297.3 635.4,296.2 635.5,295.1 635.6,294.0 635.8,292.9 635.9,291.8 636.0,290.7 636.1,289.6 636.2,288.5 636.3,287.4 636.4,286.3 636.5,285.2 636.7,284.1 636.8,283.0 636.9,281.9 637.0,280.8 637.1,279.7 637.3,278.6 637.4,277.5 637.5,276.4 637.7,275.3 637.8,274.2 637.9,273.1 638.1,272.0 638.2,270.9 638.4,269.8 638.5,268.8 638.7,267.7 638.8,266.6 639.0,265.5 639.1,264.4 639.3,263.3 639.5,262.2 639.7,261.1 639.8,260.1" stroke="#fc8d62"/>
<path d="M652.5,260.0 652.6,261.1 652.7,262.2 652.7,263.3 652.8,264.4 652.9,265.5 652.9,266.6 653.0,267.8 653.0,268.9 653.1,270.0 653.2,271.1 653.2,272.2 653.3,273.3 653.3,274.4 653.4,275.5 653.4,276.6 653.5,277.7 653.5,278.8 653.6,279.9 653.7,281.0 653.7,282.2 653.8,283.3 653.8,284.4 653.9,285.5 653.9,286.6 654.0,287.7 654.0,288.8 654.1,289.9 654.1,291.0 654.2,292.1 654.2,293.2 654.3,294.4 654.4,295.5 654.4,296.6 654.5,297.7 654.5,298.8 654.6,299.9 654.6,301.0 654.7,302.1 654.7,303.2 654.8,304.3 654.9,305.5 654.9,306.6 655.0,307.7 655.0,308.8 655.1,309.9 655.2,311.0 655.2,312.1 655.3,313.2 655.4,314.3 655.4,315.4 655.5,316.6 655.6,317.7 655.6,318.8 655.7,319.9 655.8,321.0 655.8,322.1 655.9,323.2 656.0,324.3 656.1,325.4 656.1,326.5 656.2,327.6 656.3,328.7 656.4,329.9 656.5,331.0 656.5,332.1 656.6,333.2 656.7,334.3 656.8,335.4 656.9,336.5 657.0,337.6 657.1,338.7 657.2,339.8 657.3,340.9 657.4,342.0 657.5,343.1 657.6,344.2 657.7,345.3 657.8,346.4 657.9,347.6 658.0,348.7 658.1,349.8 658.3,350.9 658.4,352.0 658.5,353.1 658.6,354.2 658.8,355.3 658.9,356.4 659.0,357.5 659.2,358.6 659.3,359.7 659.4,360.8 659.6,361.9 659.7,363.0 659.9,364.1 660.0,365.2 660.2,366.3 660.3,367.4 660.5,368.5 660.7,369.6 660.8,370.7 661.0,371.8 661.2,372.9 661.3,373.9 661.5,375.0 661.7,376.1 661.9,377.2 662.1,378.3 662.3,379.4 662.4,380.5 662.6,381.6 662.8,382.7 663.0,383.8 663.3,384.9 663.5,386.0 663.7,387.0 663.9,388.1 664.1,389.2 664.3,390.3 664.6,391.4 664.8,392.5 665.0,393.6 665.3,394.7 665.5,395.7 665.8,396.8" stroke="#fc8d62"/>
<path d="M395.5,439.6 396.6,439.8 397.7,440.0 398.7,440.2 399.8,440.5 400.9,440.7 402.0,440.9 403.1,441.1 404.2,441.3 405.3,441.5 406.3,441.7 407.4,441.9 408.5,442.1 409.6,442.3 410.7,442.4 411.8,442.6 412.9,442.8 414.0,442.9 415.1,443.1 416.2,443.3 417.3,443.4 418.4,443.6 419.4,443.7 420.5,443.8 421.6,444.0 422.7,444.1 423.8,444.2 424.9,444.3 426.0,444.4 427.1,444.5 428.2,444.6 429.3,444.7 430.5,444.7 431.6,444.8 432.7,444.8 433.8,444.9 434.9,444.9 436.0,445.0 437.1,445.0 438.2,445.0 439.3,445.0 440.4,445.0 441.5,445.0 442.6,445.0 443.7,445.0 444.8,445.0 445.9,445.0 447.0,445.0 448.1,444.9 449.2,444.9 450.3,444.9 451.4,444.8 452.5,444.8 453.6,444.7 454.7,444.7 455.8,444.7 456.9,444.6 458.1,444.6 459.2,444.5 460.3,444.5 461.4,444.4 462.5,444.4 463.6,444.4 464.7,444.3 465.8,444.3 466.9,444.2 468.0,444.2 469.1,444.2 470.2,444.1 471.3,444.1 472.4,444.0 473.5,444.0 474.6,444.0 475.7,444.0 476.8,443.9 477.9,443.9 479.0,443.9 480.1,443.8 481.2,443.8 482.3,443.8 483.4,443.8 484.5,443.8 485.7,443.8 486.8,443.8 487.9,443.8 489.0,443.8 490.1,443.8 491.2,443.8 492.3,443.8 493.4,443.8 494.5,443.8 495.6,443.8 496.7,443.9 497.8,443.9 498.9,443.9 500.0,444.0 501.1,444.0 502.2,444.1 503.3,444.1 504.4,444.2 505.5,444.2 506.6,444.3 507.7,444.4 508.8,444.4 509.9,444.5 511.0,444.6 512.1,444.6 513.2,444.7 514.3,444.8 515.4,444.8 516.5,444.9 517.7,445.0 518.8,445.0 519.9,445.1 521.0,445.1 522.1,445.2 523.2,445.2 524.3,445.2 525.4,445.3 526.5,445.3 527.6,445.3 528.7,445.3 529.8,445.4 530.9,445.4 532.0,445.4 533.1,445.3 534.2,445.3 535.3,445.3 536.4,445.3 537.5,445.3 538.6,445.2 539.7,445.2 540.8,445.1 541.9,445.0 543.0,444.9 544.1,444.8 545.2,444.7 546.3,444.6 547.4,444.5 548.5,444.3 549.6,444.2 550.7,444.0 551.8,443.8 552.9,443.6 554.0,443.4 555.1,443.1 556.1,442.9 557.2,442.6 558.3,442.3 559.3,442.0 560.4,441.7 561.4,441.4 562.5,441.1 563.5,440.7 564.6,440.3 565.6,440.0 566.7,439.6 567.7,439.2 568.7,438.7 569.7,438.3 570.7,437.9 571.8,437.4 572.8,437.0 573.8,436.5 574.8,436.1 575.8,435.6 576.8,435.1 577.8,434.7 578.8,434.2 579.8,433.8 580.8,433.3 581.8,432.9 582.8,432.4 583.9,432.0 584.9,431.6 585.9,431.2 587.0,430.8 588.0,430.5 589.0,430.1 590.1,429.7 591.1,429.4 592.2,429.1 593.2,428.7 594.3,428.4 595.4,428.1 596.4,427.8 597.5,427.5 598.6,427.2 599.6,426.9 600.7,426.6 601.8,426.3 602.8,426.0 603.9,425.6 604.9,425.2 605.9,424.8 606.9,424.3 607.9,423.8 608.8,423.3 609.8,422.7 610.8,422.2 611.7,421.7 612.7,421.1 613.7,420.6 614.6,420.0 615.6,419.4 616.5,418.9 617.5,418.3 618.4,417.6 619.3,417.0 620.1,416.3 620.9,415.5 621.7,414.8 622.5,414.0 623.2,413.1 623.9,412.3 624.5,411.4 625.2,410.5 625.8,409.5 626.4,408.6 627.0,407.6 627.5,406.7 628.1,405.7 628.6,404.7 629.1,403.8 629.6,402.8 630.1,401.8 630.6,400.8 631.0,399.8 631.5,398.8 631.9,397.8 632.4,396.8 632.8,395.7 633.3,394.7 633.7,393.7 634.1,392.6 634.5,391.6 634.9,390.5 635.3,389.5 635.7,388.4 636.1,387.4 636.4,386.4 636.7,385.3 637.1,384.3 637.3,383.3 637.6,382.3 637.9,381.3 638.1,380.3 638.4,379.3 638.7,378.3 639.1,377.3 639.4,376.2 639.9,375.2 640.4,374.1 641.0,373.0 641.7,371.9 642.5,370.8 643.3,370.0 644.1,369.7 644.9,370.0 645.6,370.9 646.3,372.1 646.9,373.3 647.4,374.5 647.8,375.6 648.2,376.8 648.5,377.9 648.8,379.0 649.0,380.0 649.2,381.1 649.3,382.1 649.5,383.1 649.6,384.1 649.7,385.2 649.9,386.2 650.0,387.2 650.2,388.2 650.3,389.3 650.5,390.3 650.8,391.4 651.0,392.4 651.3,393.5 651.5,394.6 651.8,395.6 652.1,396.7 652.4,397.8 652.8,398.9 653.1,400.0 653.5,401.1 653.9,402.2 654.3,403.3 654.8,404.3 655.4,405.3 656.1,406.1 656.8,406.8 657.8,407.4 658.8,407.9 659.8,408.2 661.0,408.5 662.1,408.7 663.2,408.9 664.2,409.3 665.0,409.8 665.7,410.7 666.2,411.9" stroke="#8da0cb"/>
</g>
<line x1="396.40" y1="272.70" x2="396.40" y2="468.50" stroke="#262626" stroke-width="0.84"/>
<line x1="396.00" y1="468.40" x2="679.50" y2="468.40" stroke="#262626" stroke-width="0.95"/>
<line x1="392.74" y1="468.50" x2="396.40" y2="468.50" stroke="#262626" stroke-width="0.9"/>
<text x="366.01 372.62 376.17 382.94" y="472.05" font-size="11.02">0.00</text>
<line x1="392.74" y1="442.50" x2="396.40" y2="442.50" stroke="#262626" stroke-width="0.9"/>
<text x="366.01 372.62 376.17 382.94" y="446.00" font-size="11.02">0.02</text>
<line x1="392.74" y1="415.50" x2="396.40" y2="415.50" stroke="#262626" stroke-width="0.9"/>
<text x="366.01 372.62 376.17 382.94" y="419.94" font-size="11.02">0.04</text>
<line x1="392.74" y1="389.50" x2="396.40" y2="389.50" stroke="#262626" stroke-width="0.9"/>
<text x="366.01 372.62 376.17 382.94" y="393.89" font-size="11.02">0.06</text>
<line x1="392.74" y1="363.50" x2="396.40" y2="363.50" stroke="#262626" stroke-width="0.9"/>
<text x="366.01 372.62 376.17 382.94" y="367.84" font-size="11.02">0.08</text>
<line x1="392.74" y1="337.50" x2="396.40" y2="337.50" stroke="#262626" stroke-width="0.9"/>
<text x="366.01 372.62 376.17 382.94" y="341.78" font-size="11.02">0.10</text>
<line x1="392.74" y1="311.50" x2="396.40" y2="311.50" stroke="#262626" stroke-width="0.9"/>
<text x="366.01 372.62 376.17 382.94" y="315.73" font-size="11.02">0.12</text>
<line x1="392.74" y1="285.50" x2="396.40" y2="285.50" stroke="#262626" stroke-width="0.9"/>
<text x="366.01 372.62 376.17 382.94" y="289.68" font-size="11.02">0.14</text>
<line x1="396.50" y1="468.10" x2="396.50" y2="470.20" stroke="#262626" stroke-width="0.75"/>
<line x1="401.50" y1="468.10" x2="401.50" y2="470.20" stroke="#262626" stroke-width="0.75"/>
<line x1="405.50" y1="468.10" x2="405.50" y2="470.20" stroke="#262626" stroke-width="0.75"/>
<line x1="409.50" y1="468.10" x2="409.50" y2="470.20" stroke="#262626" stroke-width="0.75"/>
<line x1="413.50" y1="468.10" x2="413.50" y2="470.20" stroke="#262626" stroke-width="0.75"/>
<line x1="416.50" y1="468.10" x2="416.50" y2="471.76" stroke="#262626" stroke-width="0.9"/>
<line x1="435.50" y1="468.10" x2="435.50" y2="470.20" stroke="#262626" stroke-width="0.75"/>
<line x1="447.50" y1="468.10" x2="447.50" y2="470.20" stroke="#262626" stroke-width="0.75"/>
<line x1="455.50" y1="468.10" x2="455.50" y2="470.20" stroke="#262626" stroke-width="0.75"/>
<line x1="461.50" y1="468.10" x2="461.50" y2="470.20" stroke="#262626" stroke-width="0.75"/>
<line x1="466.50" y1="468.10" x2="466.50" y2="470.20" stroke="#262626" stroke-width="0.75"/>
<line x1="471.50" y1="468.10" x2="471.50" y2="470.20" stroke="#262626" stroke-width="0.75"/>
<line x1="475.50" y1="468.10" x2="475.50" y2="470.20" stroke="#262626" stroke-width="0.75"/>
<line x1="478.50" y1="468.10" x2="478.50" y2="470.20" stroke="#262626" stroke-width="0.75"/>
<line x1="481.50" y1="468.10" x2="481.50" y2="471.76" stroke="#262626" stroke-width="0.9"/>
<line x1="501.50" y1="468.10" x2="501.50" y2="470.20" stroke="#262626" stroke-width="0.75"/>
<line x1="512.50" y1="468.10" x2="512.50" y2="470.20" stroke="#262626" stroke-width="0.75"/>
<line x1="520.50" y1="468.10" x2="520.50" y2="470.20" stroke="#262626" stroke-width="0.75"/>
<line x1="527.50" y1="468.10" x2="527.50" y2="470.20" stroke="#262626" stroke-width="0.75"/>
<line x1="532.50" y1="468.10" x2="532.50" y2="470.20" stroke="#262626" stroke-width="0.75"/>
<line x1="536.50" y1="468.10" x2="536.50" y2="470.20" stroke="#262626" stroke-width="0.75"/>
<line x1="540.50" y1="468.10" x2="540.50" y2="470.20" stroke="#262626" stroke-width="0.75"/>
<line x1="543.50" y1="468.10" x2="543.50" y2="470.20" stroke="#262626" stroke-width="0.75"/>
<line x1="546.50" y1="468.10" x2="546.50" y2="471.76" stroke="#262626" stroke-width="0.9"/>
<line x1="566.50" y1="468.10" x2="566.50" y2="470.20" stroke="#262626" stroke-width="0.75"/>
<line x1="577.50" y1="468.10" x2="577.50" y2="470.20" stroke="#262626" stroke-width="0.75"/>
<line x1="586.50" y1="468.10" x2="586.50" y2="470.20" stroke="#262626" stroke-width="0.75"/>
<line x1="592.50" y1="468.10" x2="592.50" y2="470.20" stroke="#262626" stroke-width="0.75"/>
<line x1="597.50" y1="468.10" x2="597.50" y2="470.20" stroke="#262626" stroke-width="0.75"/>
<line x1="601.50" y1="468.10" x2="601.50" y2="470.20" stroke="#262626" stroke-width="0.75"/>
<line x1="605.50" y1="468.10" x2="605.50" y2="470.20" stroke="#262626" stroke-width="0.75"/>
<line x1="609.50" y1="468.10" x2="609.50" y2="470.20" stroke="#262626" stroke-width="0.75"/>
<line x1="612.50" y1="468.10" x2="612.50" y2="471.76" stroke="#262626" stroke-width="0.9"/>
<line x1="631.50" y1="468.10" x2="631.50" y2="470.20" stroke="#262626" stroke-width="0.75"/>
<line x1="643.50" y1="468.10" x2="643.50" y2="470.20" stroke="#262626" stroke-width="0.75"/>
<line x1="651.50" y1="468.10" x2="651.50" y2="470.20" stroke="#262626" stroke-width="0.75"/>
<line x1="657.50" y1="468.10" x2="657.50" y2="470.20" stroke="#262626" stroke-width="0.75"/>
<line x1="662.50" y1="468.10" x2="662.50" y2="470.20" stroke="#262626" stroke-width="0.75"/>
<line x1="667.50" y1="468.10" x2="667.50" y2="470.20" stroke="#262626" stroke-width="0.75"/>
<line x1="670.50" y1="468.10" x2="670.50" y2="470.20" stroke="#262626" stroke-width="0.75"/>
<line x1="674.50" y1="468.10" x2="674.50" y2="470.20" stroke="#262626" stroke-width="0.75"/>
<line x1="677.50" y1="468.10" x2="677.50" y2="471.76" stroke="#262626" stroke-width="0.9"/>
<text x="404.71 411.82" y="483.25" font-size="11.57">10</text>
<text x="418.51 424.60" y="479.30" font-size="8.38">−4</text>
<text x="470.02 477.13" y="483.25" font-size="11.57">10</text>
<text x="483.82 489.91" y="479.30" font-size="8.38">−3</text>
<text x="535.33 542.44" y="483.25" font-size="11.57">10</text>
<text x="549.13 555.22" y="479.30" font-size="8.38">−2</text>
<text x="600.64 607.75" y="483.25" font-size="11.57">10</text>
<text x="614.44 620.53" y="479.30" font-size="8.38">−1</text>
<text x="669.35 676.46" y="483.25" font-size="11.57">10</text>
<text x="682.86" y="479.30" font-size="8.38">0</text>
<text x="534.99" y="497.10" font-size="11.02">x</text>
<g transform="translate(360.60,370.90) rotate(-90)"><text x="-77.55 -70.53 -66.90 -59.14 -52.37 -48.50 -45.60 -39.12 -35.34 -31.53 -25.04 -21.81 -13.85 -6.35 0.66 8.44 15.19 21.80 25.35 31.96 35.43 39.35 47.31 55.18 60.92 69.46 73.61" y="0.00" font-size="11.02">σ(Ratio to NNPDF4.0 (NNLO))</text></g>
<text x="495.41 503.34 507.44 515.70 520.24 524.50 532.63 540.76 548.70 552.37 562.72 570.29" y="266.70" font-size="13.23">d at 100 GeV</text>
<line x1="499.0" y1="255.40" x2="502.7" y2="255.40" stroke="#000" stroke-width="1.0"/>
<rect x="401.80" y="278.00" width="132" height="49.8" rx="2.1" fill="#fff" fill-opacity="0.8" stroke="#d0d0d0" stroke-width="0.84"/>
<line x1="405.30" y1="286.60" x2="427.70" y2="286.60" stroke="#66c2a5" stroke-width="1.57"/>
<text x="435.50 443.47 450.97 457.98 465.75 472.51 479.12 482.67 489.28 492.75 496.66 504.63 512.49 518.24 526.77" y="290.48" font-size="11.02">NNPDF4.0 (NNLO)</text>
<line x1="405.30" y1="302.05" x2="427.70" y2="302.05" stroke="#fc8d62" stroke-width="1.57"/>
<text x="435.24 442.82 449.76 456.54 463.16 466.62 470.54 478.50 486.37 492.12 500.65" y="305.93" font-size="11.02">CT18 (NNLO)</text>
<line x1="405.30" y1="317.50" x2="427.70" y2="317.50" stroke="#8da0cb" stroke-width="1.57"/>
<text x="435.50 444.39 451.47 459.34 466.29 473.06 479.68 483.14 487.06 495.02 502.89 508.64 517.17" y="321.38" font-size="11.02">MSHT20 (NNLO)</text>
<line x1="63.50" y1="529.30" x2="63.50" y2="724.70" stroke="#f4f4f4" stroke-width="1"/>
<line x1="128.50" y1="529.30" x2="128.50" y2="724.70" stroke="#f4f4f4" stroke-width="1"/>
<line x1="194.50" y1="529.30" x2="194.50" y2="724.70" stroke="#f4f4f4" stroke-width="1"/>
<line x1="259.50" y1="529.30" x2="259.50" y2="724.70" stroke="#f4f4f4" stroke-width="1"/>
<line x1="324.50" y1="529.30" x2="324.50" y2="724.70" stroke="#f4f4f4" stroke-width="1"/>
<line x1="43.80" y1="698.50" x2="326.90" y2="698.50" stroke="#f4f4f4" stroke-width="1"/>
<line x1="43.80" y1="672.50" x2="326.90" y2="672.50" stroke="#f4f4f4" stroke-width="1"/>
<line x1="43.80" y1="646.50" x2="326.90" y2="646.50" stroke="#f4f4f4" stroke-width="1"/>
<line x1="43.80" y1="620.50" x2="326.90" y2="620.50" stroke="#f4f4f4" stroke-width="1"/>
<line x1="43.80" y1="594.50" x2="326.90" y2="594.50" stroke="#f4f4f4" stroke-width="1"/>
<line x1="43.80" y1="568.50" x2="326.90" y2="568.50" stroke="#f4f4f4" stroke-width="1"/>
<line x1="43.80" y1="542.50" x2="326.90" y2="542.50" stroke="#f4f4f4" stroke-width="1"/>
<g clip-path="url(#cp20)" fill="none" stroke-width="1.57" stroke-linejoin="round">
<path d="M42.5,702.8 43.6,703.0 44.6,703.2 45.7,703.4 46.8,703.6 47.8,703.9 48.9,704.1 50.0,704.3 51.1,704.6 52.1,704.8 53.2,705.1 54.3,705.3 55.4,705.6 56.4,705.9 57.5,706.1 58.6,706.4 59.7,706.7 60.8,706.9 61.8,707.2 62.9,707.5 64.0,707.7 65.1,708.0 66.2,708.2 67.3,708.5 68.4,708.8 69.5,709.0 70.6,709.3 71.6,709.5 72.7,709.8 73.8,710.0 74.9,710.3 76.0,710.5 77.1,710.7 78.2,710.9 79.3,711.2 80.4,711.4 81.5,711.6 82.6,711.8 83.7,712.0 84.8,712.2 85.9,712.3 87.0,712.5 88.1,712.7 89.2,712.8 90.3,713.0 91.4,713.1 92.5,713.2 93.6,713.3 94.7,713.4 95.8,713.5 96.8,713.6 97.9,713.7 99.0,713.7 100.1,713.8 101.2,713.8 102.3,713.8 103.4,713.8 104.5,713.8 105.6,713.8 106.7,713.8 107.8,713.7 108.9,713.7 110.0,713.6 111.1,713.5 112.2,713.5 113.2,713.4 114.3,713.3 115.4,713.1 116.5,713.0 117.6,712.9 118.7,712.8 119.8,712.6 120.9,712.4 121.9,712.3 123.0,712.1 124.1,711.9 125.2,711.7 126.3,711.5 127.4,711.3 128.4,711.1 129.5,710.9 130.6,710.7 131.7,710.5 132.8,710.3 133.9,710.0 134.9,709.8 136.0,709.5 137.1,709.3 138.2,709.0 139.3,708.8 140.3,708.5 141.4,708.3 142.5,708.0 143.6,707.7 144.7,707.5 145.7,707.2 146.8,706.9 147.9,706.6 149.0,706.4 150.0,706.1 151.1,705.8 152.2,705.5 153.3,705.2 154.3,704.9 155.4,704.7 156.5,704.4 157.6,704.1 158.6,703.8 159.7,703.5 160.8,703.2 161.8,702.9 162.9,702.6 164.0,702.3 165.1,702.0 166.1,701.7 167.2,701.4 168.3,701.1 169.3,700.8 170.4,700.5 171.5,700.2 172.6,699.9 173.6,699.6 174.7,699.3 175.8,699.0 176.8,698.6 177.9,698.3 179.0,698.0 180.0,697.7 181.1,697.4 182.2,697.0 183.2,696.7 184.3,696.4 185.4,696.0 186.4,695.7 187.5,695.4 188.5,695.0 189.6,694.6 190.6,694.3 191.7,693.9 192.7,693.5 193.8,693.1 194.8,692.8 195.8,692.3 196.9,691.9 197.9,691.5 198.9,691.1 199.9,690.6 200.9,690.2 201.9,689.7 202.9,689.3 203.9,688.8 204.9,688.3 205.8,687.8 206.8,687.2 207.8,686.7 208.7,686.1 209.7,685.6 210.6,685.0 211.5,684.4 212.4,683.8 213.3,683.1 214.2,682.5 215.1,681.8 216.0,681.2 216.9,680.5 217.7,679.8 218.6,679.1 219.4,678.4 220.3,677.7 221.1,676.9 221.9,676.2 222.7,675.4 223.6,674.7 224.3,673.9 225.1,673.1 225.9,672.4 226.7,671.6 227.5,670.8 228.2,669.9 229.0,669.1 229.7,668.3 230.4,667.5 231.2,666.7 231.9,665.8 232.6,665.0 233.3,664.1 234.0,663.3 234.6,662.4 235.3,661.6 236.0,660.7 236.6,659.8 237.3,658.9 237.9,658.0 238.6,657.2 239.2,656.3 239.8,655.4 240.4,654.5 241.0,653.5 241.6,652.6 242.2,651.7 242.8,650.8 243.4,649.9 244.0,648.9 244.5,648.0 245.1,647.0 245.6,646.1 246.2,645.2 246.7,644.2 247.2,643.2 247.8,642.3 248.3,641.3 248.8,640.3 249.3,639.4 249.8,638.4 250.3,637.4 250.8,636.4 251.2,635.4 251.7,634.4 252.2,633.4 252.6,632.4 253.1,631.4 253.5,630.4 254.0,629.4 254.4,628.4 254.9,627.4 255.3,626.4 255.7,625.4 256.1,624.3 256.5,623.3 256.9,622.3 257.3,621.2 257.7,620.2 258.1,619.2 258.5,618.1 258.9,617.1 259.2,616.0 259.6,615.0 260.0,613.9 260.3,612.9 260.7,611.8 261.0,610.8 261.4,609.7 261.7,608.7 262.1,607.6 262.4,606.5 262.7,605.5 263.0,604.4 263.3,603.3 263.7,602.2 264.0,601.2 264.3,600.1 264.6,599.0 264.9,597.9 265.2,596.9 265.5,595.8 265.7,594.7 266.0,593.6 266.3,592.5 266.6,591.4 266.9,590.3 267.1,589.3 267.4,588.2 267.6,587.1 267.9,586.0 268.2,584.9 268.4,583.8 268.7,582.7 268.9,581.6 269.2,580.5 269.4,579.4 269.6,578.3 269.9,577.2 270.1,576.1 270.3,575.0 270.6,573.9 270.8,572.8 271.0,571.7 271.2,570.7 271.4,569.6 271.6,568.5 271.9,567.4 272.1,566.3 272.3,565.2 272.5,564.1 272.7,563.0 272.9,561.9 273.1,560.8 273.3,559.7 273.5,558.6 273.7,557.5 273.9,556.4 274.1,555.3 274.3,554.2 274.5,553.2 274.6,552.1 274.8,551.0 275.0,549.9 275.2,548.8 275.4,547.7 275.6,546.6 275.8,545.6 275.9,544.5 276.1,543.4 276.3,542.3 276.5,541.3 276.6,540.2 276.8,539.1 277.0,538.1 277.2,537.0 277.4,535.9 277.5,534.9 277.7,533.8 277.9,532.7 278.1,531.7 278.2,530.6 278.4,529.6 278.6,528.5 278.8,527.5 278.9,526.4 279.1,525.4 279.3,524.4" stroke="#66c2a5"/>
<path d="M42.5,605.1 43.5,604.8 44.6,604.4 45.6,604.1 46.6,603.7 47.6,603.3 48.7,602.9 49.7,602.5 50.7,602.1 51.7,601.7 52.8,601.3 53.8,600.9 54.8,600.5 55.8,600.1 56.8,599.6 57.9,599.2 58.9,598.8 59.9,598.4 60.9,597.9 62.0,597.5 63.0,597.1 64.0,596.7 65.0,596.2 66.1,595.8 67.1,595.4 68.1,594.9 69.1,594.5 70.1,594.1 71.2,593.6 72.2,593.2 73.2,592.8 74.3,592.4 75.3,591.9 76.3,591.5 77.4,591.1 78.4,590.7 79.4,590.3 80.5,589.9 81.5,589.5 82.5,589.1 83.6,588.7 84.6,588.3 85.6,587.9 86.7,587.5 87.7,587.1 88.8,586.8 89.8,586.4 90.9,586.1 91.9,585.7 93.0,585.4 94.0,585.0 95.1,584.7 96.1,584.4 97.2,584.1 98.3,583.8 99.3,583.5 100.4,583.2 101.5,583.0 102.5,582.7 103.6,582.4 104.7,582.2 105.8,582.0 106.8,581.8 107.9,581.5 109.0,581.3 110.1,581.2 111.2,581.0 112.3,580.8 113.4,580.7 114.5,580.5 115.6,580.4 116.7,580.3 117.8,580.1 118.9,580.0 120.0,579.9 121.1,579.9 122.2,579.8 123.3,579.7 124.4,579.7 125.5,579.6 126.6,579.6 127.7,579.6 128.8,579.6 129.9,579.6 131.0,579.6 132.1,579.6 133.2,579.6 134.3,579.6 135.4,579.7 136.5,579.8 137.6,579.8 138.7,579.9 139.8,580.0 140.9,580.1 142.0,580.2 143.1,580.3 144.2,580.5 145.3,580.6 146.4,580.7 147.5,580.9 148.6,581.1 149.7,581.2 150.8,581.4 151.9,581.6 153.0,581.8 154.0,582.1 155.1,582.3 156.2,582.5 157.3,582.8 158.3,583.0 159.4,583.3 160.5,583.6 161.6,583.9 162.6,584.2 163.7,584.5 164.7,584.8 165.8,585.1 166.8,585.5 167.9,585.8 168.9,586.2 170.0,586.5 171.0,586.9 172.0,587.3 173.1,587.7 174.1,588.1 175.1,588.5 176.2,588.9 177.2,589.3 178.2,589.7 179.2,590.1 180.3,590.6 181.3,591.0 182.3,591.5 183.3,591.9 184.3,592.4 185.3,592.8 186.3,593.3 187.4,593.7 188.4,594.2 189.4,594.7 190.4,595.1 191.4,595.6 192.4,596.1 193.4,596.6 194.4,597.0 195.4,597.5 196.5,598.0 197.5,598.5 198.5,598.9 199.5,599.4 200.5,599.8 201.6,600.3 202.6,600.7 203.6,601.1 204.6,601.5 205.7,601.8 206.7,602.1 207.8,602.4 208.9,602.7 209.9,602.9 211.0,603.0 212.1,603.1 213.2,603.2 214.3,603.2 215.5,603.2 216.6,603.1 217.7,602.9 218.8,602.7 219.9,602.5 221.0,602.2 222.1,601.8 223.1,601.4 224.1,601.0 225.1,600.5 226.1,599.9 227.0,599.3 227.9,598.7 228.8,598.0 229.6,597.3 230.4,596.5 231.2,595.7 231.9,594.9 232.6,594.1 233.4,593.2 234.1,592.3 234.7,591.4 235.4,590.5 236.1,589.6 236.7,588.7 237.4,587.7 238.0,586.8 238.7,585.9 239.3,585.0 240.0,584.1 240.7,583.2 241.3,582.4 242.0,581.5 242.7,580.7 243.4,579.9 244.2,579.1 244.9,578.3 245.6,577.5 246.3,576.7 247.0,575.9 247.8,575.1 248.5,574.3 249.2,573.5 249.9,572.7 250.6,571.8 251.3,571.0 252.0,570.1 252.7,569.2 253.4,568.3 254.0,567.4 254.7,566.5 255.4,565.6 256.1,564.7 256.8,563.8 257.4,562.9 258.1,562.0 258.8,561.1 259.5,560.2 260.2,559.3 260.9,558.4 261.6,557.5 262.3,556.7 263.1,555.8 263.8,555.0 264.6,554.2 265.4,553.4 266.2,552.6 267.0,551.9 267.8,551.2 268.7,550.5 269.5,549.9 270.4,549.2 271.3,548.6 272.3,548.1 273.2,547.6 274.2,547.1 275.2,546.7 276.3,546.3 277.3,545.9 278.4,545.6 279.5,545.4 280.6,545.2 281.7,545.2 282.7,545.2 283.7,545.4 284.7,545.6 285.6,546.1 286.4,546.6 287.1,547.3 287.7,548.1 288.3,549.0 288.8,550.0 289.3,551.1 289.7,552.2 290.1,553.3 290.4,554.4 290.7,555.5 291.0,556.6 291.3,557.7 291.5,558.8 291.7,559.9 291.8,561.0 292.0,562.1 292.1,563.3 292.2,564.4 292.4,565.5 292.5,566.6 292.6,567.7 292.7,568.9 292.8,570.0 292.9,571.1 293.0,572.2 293.1,573.3 293.2,574.4 293.3,575.5 293.4,576.6 293.5,577.8 293.6,578.9 293.7,580.0 293.8,581.1 293.9,582.2 294.0,583.3 294.1,584.4 294.3,585.5 294.4,586.6 294.5,587.7 294.6,588.8 294.7,589.9 294.8,591.0 294.9,592.1 295.1,593.1 295.2,594.2 295.3,595.3 295.4,596.4 295.5,597.5 295.6,598.6 295.8,599.7 295.9,600.8 296.0,601.9 296.1,603.0 296.3,604.1 296.4,605.2 296.5,606.2 296.6,607.3 296.8,608.4 296.9,609.5 297.0,610.6 297.2,611.7 297.3,612.8 297.4,613.9 297.5,615.0 297.7,616.1 297.8,617.1 297.9,618.2 298.1,619.3 298.2,620.4 298.3,621.5 298.5,622.6 298.6,623.7 298.7,624.8 298.8,625.9 299.0,627.0 299.1,628.1 299.2,629.2 299.3,630.3 299.5,631.4 299.6,632.5 299.7,633.6 299.8,634.7 300.0,635.8 300.1,636.9 300.2,638.0 300.3,639.1 300.4,640.2 300.5,641.3 300.7,642.5 300.8,643.6 300.9,644.7 301.0,645.8 301.1,646.9 301.2,648.0 301.3,649.2 301.4,650.3 301.5,651.4 301.6,652.5 301.8,653.6 301.9,654.8 302.0,655.9 302.2,657.0 302.3,658.1 302.5,659.2 302.7,660.3 302.9,661.4 303.1,662.4 303.3,663.5 303.5,664.6 303.8,665.7 304.0,666.7 304.3,667.8 304.7,668.8 305.0,669.8 305.3,670.9 305.7,671.9 306.1,672.9 306.6,673.9 307.0,674.8 307.5,675.8 308.0,676.7 308.6,677.7 309.2,678.6 309.8,679.5 310.4,680.4 311.1,681.3 311.8,682.2 312.6,683.0 313.4,683.8" stroke="#fc8d62"/>
<path d="M42.6,645.9 43.6,645.5 44.7,645.2 45.7,644.9 46.7,644.6 47.8,644.3 48.8,644.0 49.9,643.8 51.0,643.5 52.0,643.2 53.1,643.0 54.2,642.7 55.2,642.5 56.3,642.2 57.4,642.0 58.5,641.8 59.6,641.5 60.7,641.3 61.7,641.1 62.8,640.9 63.9,640.8 65.0,640.6 66.1,640.4 67.2,640.2 68.4,640.1 69.5,639.9 70.6,639.8 71.7,639.7 72.8,639.5 73.9,639.4 75.0,639.3 76.1,639.2 77.3,639.1 78.4,639.1 79.5,639.0 80.6,638.9 81.7,638.9 82.8,638.8 84.0,638.8 85.1,638.8 86.2,638.8 87.3,638.8 88.4,638.8 89.5,638.8 90.7,638.8 91.8,638.9 92.9,638.9 94.0,639.0 95.1,639.0 96.2,639.1 97.3,639.2 98.4,639.3 99.5,639.4 100.6,639.5 101.7,639.6 102.8,639.8 103.9,639.9 105.0,640.1 106.1,640.3 107.2,640.5 108.3,640.6 109.4,640.9 110.4,641.1 111.5,641.3 112.6,641.5 113.6,641.8 114.7,642.1 115.8,642.4 116.8,642.6 117.9,642.9 118.9,643.3 119.9,643.6 121.0,643.9 122.0,644.3 123.0,644.6 124.0,645.0 125.1,645.4 126.1,645.8 127.1,646.2 128.1,646.7 129.1,647.1 130.1,647.6 131.0,648.0 132.0,648.5 133.0,649.0 133.9,649.5 134.9,650.1 135.8,650.6 136.8,651.1 137.7,651.7 138.6,652.3 139.6,652.9 140.5,653.5 141.4,654.1 142.3,654.7 143.2,655.4 144.1,656.1 144.9,656.7 145.8,657.4 146.7,658.1 147.5,658.8 148.4,659.5 149.3,660.2 150.1,661.0 151.0,661.7 151.8,662.4 152.7,663.2 153.5,663.9 154.4,664.6 155.2,665.4 156.0,666.1 156.9,666.9 157.7,667.6 158.6,668.4 159.4,669.2 160.3,669.9 161.1,670.6 162.0,671.4 162.8,672.1 163.7,672.9 164.5,673.6 165.4,674.3 166.3,675.0 167.1,675.7 168.0,676.4 168.9,677.1 169.8,677.8 170.7,678.5 171.6,679.1 172.5,679.8 173.4,680.4 174.3,681.0 175.3,681.6 176.2,682.2 177.2,682.8 178.1,683.4 179.1,683.9 180.1,684.4 181.1,684.9 182.1,685.4 183.1,685.9 184.1,686.3 185.2,686.7 186.2,687.0 187.2,687.3 188.3,687.6 189.3,687.9 190.4,688.0 191.4,688.2 192.5,688.2 193.5,688.3 194.6,688.2 195.6,688.1 196.7,688.0 197.7,687.8 198.8,687.5 199.8,687.2 200.9,686.9 201.9,686.5 202.9,686.1 203.9,685.7 204.9,685.2 205.9,684.6 206.9,684.1 207.8,683.5 208.8,682.9 209.7,682.3 210.6,681.7 211.5,681.1 212.4,680.4 213.2,679.7 214.1,679.0 214.9,678.3 215.7,677.6 216.5,676.9 217.3,676.1 218.1,675.3 218.8,674.5 219.6,673.7 220.3,672.9 221.0,672.1 221.7,671.3 222.4,670.4 223.1,669.6 223.8,668.7 224.5,667.8 225.1,666.9 225.8,666.0 226.4,665.1 227.0,664.2 227.7,663.3 228.3,662.3 228.9,661.4 229.5,660.4 230.1,659.5 230.6,658.5 231.2,657.6 231.8,656.6 232.4,655.6 232.9,654.7 233.5,653.7 234.0,652.7 234.6,651.7 235.1,650.7 235.7,649.7 236.2,648.7 236.7,647.8 237.3,646.8 237.8,645.8 238.3,644.8 238.8,643.8 239.4,642.8 239.9,641.8 240.4,640.8 240.9,639.8 241.4,638.9 241.9,637.9 242.4,636.9 242.9,635.9 243.4,634.9 244.0,633.9 244.5,632.9 244.9,631.9 245.4,631.0 245.9,630.0 246.4,629.0 246.9,628.0 247.4,627.0 247.9,626.0 248.4,625.0 248.8,624.0 249.3,623.0 249.8,622.0 250.2,621.1 250.7,620.1 251.2,619.1 251.6,618.1 252.1,617.1 252.5,616.1 253.0,615.1 253.4,614.1 253.9,613.1 254.3,612.1 254.8,611.1 255.2,610.1 255.6,609.1 256.1,608.0 256.5,607.0 256.9,606.0 257.3,605.0 257.7,604.0 258.2,603.0 258.6,602.0 259.0,600.9 259.4,599.9 259.8,598.9 260.2,597.9 260.6,596.8 260.9,595.8 261.3,594.8 261.7,593.7 262.1,592.7 262.5,591.7 262.8,590.6 263.2,589.6 263.6,588.5 263.9,587.5 264.3,586.4 264.6,585.4 265.0,584.3 265.4,583.3 265.7,582.2 266.1,581.2 266.4,580.1 266.7,579.1 267.1,578.0 267.4,577.0 267.8,575.9 268.1,574.8 268.4,573.8 268.8,572.7 269.1,571.7 269.4,570.6 269.7,569.5 270.1,568.5 270.4,567.4 270.7,566.3 271.0,565.3 271.4,564.2 271.7,563.1 272.0,562.1 272.3,561.0 272.6,559.9 272.9,558.9 273.3,557.8 273.6,556.8 273.9,555.7 274.2,554.6 274.5,553.6 274.8,552.5 275.1,551.4 275.4,550.4 275.8,549.3 276.1,548.2 276.4,547.2 276.7,546.1 277.0,545.0 277.3,544.0 277.6,542.9 277.9,541.9 278.3,540.8 278.6,539.7 278.9,538.7 279.2,537.6 279.5,536.6 279.8,535.5 280.2,534.5 280.5,533.4 280.8,532.4 281.1,531.3 281.4,530.3 281.8,529.2 282.1,528.2 282.4,527.2 282.8,526.1 283.1,525.1" stroke="#8da0cb"/>
<path d="M297.8,522.0 298.0,523.1 298.1,524.2 298.3,525.4 298.5,526.5 298.7,527.6 298.8,528.7 299.0,529.8 299.2,530.9 299.4,532.0 299.5,533.1 299.7,534.2 299.9,535.3 300.1,536.4 300.2,537.5 300.4,538.6 300.6,539.7 300.8,540.8 301.0,542.0 301.2,543.1 301.4,544.2 301.5,545.3 301.7,546.4 301.9,547.6 302.1,548.7 302.3,549.8 302.5,551.0 302.7,552.1 302.9,553.2 303.1,554.4 303.4,555.5 303.6,556.7 303.7,557.8 303.9,558.9 304.1,560.0 304.3,561.1 304.5,562.2 304.7,563.3 304.8,564.4 305.0,565.5 305.1,566.6 305.3,567.6 305.4,568.6 305.5,569.6 305.7,570.7 305.8,571.7 306.0,572.7 306.2,573.8 306.4,574.8 306.7,576.0 307.0,577.1 307.4,578.3 307.8,579.6 308.4,580.9 309.0,582.1 309.6,583.0 310.2,583.2 310.8,582.6 311.3,581.5 311.7,580.0 312.1,578.2 312.4,576.3 312.7,574.5 313.0,573.1 313.1,572.1 313.2,571.7 313.3,572.1" stroke="#8da0cb"/>
</g>
<line x1="43.80" y1="529.30" x2="43.80" y2="725.10" stroke="#262626" stroke-width="0.84"/>
<line x1="43.40" y1="725.00" x2="326.90" y2="725.00" stroke="#262626" stroke-width="0.95"/>
<line x1="40.14" y1="724.50" x2="43.80" y2="724.50" stroke="#262626" stroke-width="0.9"/>
<text x="13.41 20.02 23.57 30.34" y="728.65" font-size="11.02">0.00</text>
<line x1="40.14" y1="698.50" x2="43.80" y2="698.50" stroke="#262626" stroke-width="0.9"/>
<text x="13.41 20.02 23.57 30.34" y="702.60" font-size="11.02">0.02</text>
<line x1="40.14" y1="672.50" x2="43.80" y2="672.50" stroke="#262626" stroke-width="0.9"/>
<text x="13.41 20.02 23.57 30.34" y="676.54" font-size="11.02">0.04</text>
<line x1="40.14" y1="646.50" x2="43.80" y2="646.50" stroke="#262626" stroke-width="0.9"/>
<text x="13.41 20.02 23.57 30.34" y="650.49" font-size="11.02">0.06</text>
<line x1="40.14" y1="620.50" x2="43.80" y2="620.50" stroke="#262626" stroke-width="0.9"/>
<text x="13.41 20.02 23.57 30.34" y="624.44" font-size="11.02">0.08</text>
<line x1="40.14" y1="594.50" x2="43.80" y2="594.50" stroke="#262626" stroke-width="0.9"/>
<text x="13.41 20.02 23.57 30.34" y="598.38" font-size="11.02">0.10</text>
<line x1="40.14" y1="568.50" x2="43.80" y2="568.50" stroke="#262626" stroke-width="0.9"/>
<text x="13.41 20.02 23.57 30.34" y="572.33" font-size="11.02">0.12</text>
<line x1="40.14" y1="542.50" x2="43.80" y2="542.50" stroke="#262626" stroke-width="0.9"/>
<text x="13.41 20.02 23.57 30.34" y="546.28" font-size="11.02">0.14</text>
<line x1="43.50" y1="724.70" x2="43.50" y2="726.80" stroke="#262626" stroke-width="0.75"/>
<line x1="48.50" y1="724.70" x2="48.50" y2="726.80" stroke="#262626" stroke-width="0.75"/>
<line x1="53.50" y1="724.70" x2="53.50" y2="726.80" stroke="#262626" stroke-width="0.75"/>
<line x1="57.50" y1="724.70" x2="57.50" y2="726.80" stroke="#262626" stroke-width="0.75"/>
<line x1="60.50" y1="724.70" x2="60.50" y2="726.80" stroke="#262626" stroke-width="0.75"/>
<line x1="63.50" y1="724.70" x2="63.50" y2="728.36" stroke="#262626" stroke-width="0.9"/>
<line x1="83.50" y1="724.70" x2="83.50" y2="726.80" stroke="#262626" stroke-width="0.75"/>
<line x1="94.50" y1="724.70" x2="94.50" y2="726.80" stroke="#262626" stroke-width="0.75"/>
<line x1="102.50" y1="724.70" x2="102.50" y2="726.80" stroke="#262626" stroke-width="0.75"/>
<line x1="109.50" y1="724.70" x2="109.50" y2="726.80" stroke="#262626" stroke-width="0.75"/>
<line x1="114.50" y1="724.70" x2="114.50" y2="726.80" stroke="#262626" stroke-width="0.75"/>
<line x1="118.50" y1="724.70" x2="118.50" y2="726.80" stroke="#262626" stroke-width="0.75"/>
<line x1="122.50" y1="724.70" x2="122.50" y2="726.80" stroke="#262626" stroke-width="0.75"/>
<line x1="125.50" y1="724.70" x2="125.50" y2="726.80" stroke="#262626" stroke-width="0.75"/>
<line x1="128.50" y1="724.70" x2="128.50" y2="728.36" stroke="#262626" stroke-width="0.9"/>
<line x1="148.50" y1="724.70" x2="148.50" y2="726.80" stroke="#262626" stroke-width="0.75"/>
<line x1="159.50" y1="724.70" x2="159.50" y2="726.80" stroke="#262626" stroke-width="0.75"/>
<line x1="168.50" y1="724.70" x2="168.50" y2="726.80" stroke="#262626" stroke-width="0.75"/>
<line x1="174.50" y1="724.70" x2="174.50" y2="726.80" stroke="#262626" stroke-width="0.75"/>
<line x1="179.50" y1="724.70" x2="179.50" y2="726.80" stroke="#262626" stroke-width="0.75"/>
<line x1="183.50" y1="724.70" x2="183.50" y2="726.80" stroke="#262626" stroke-width="0.75"/>
<line x1="187.50" y1="724.70" x2="187.50" y2="726.80" stroke="#262626" stroke-width="0.75"/>
<line x1="191.50" y1="724.70" x2="191.50" y2="726.80" stroke="#262626" stroke-width="0.75"/>
<line x1="194.50" y1="724.70" x2="194.50" y2="728.36" stroke="#262626" stroke-width="0.9"/>
<line x1="213.50" y1="724.70" x2="213.50" y2="726.80" stroke="#262626" stroke-width="0.75"/>
<line x1="225.50" y1="724.70" x2="225.50" y2="726.80" stroke="#262626" stroke-width="0.75"/>
<line x1="233.50" y1="724.70" x2="233.50" y2="726.80" stroke="#262626" stroke-width="0.75"/>
<line x1="239.50" y1="724.70" x2="239.50" y2="726.80" stroke="#262626" stroke-width="0.75"/>
<line x1="244.50" y1="724.70" x2="244.50" y2="726.80" stroke="#262626" stroke-width="0.75"/>
<line x1="249.50" y1="724.70" x2="249.50" y2="726.80" stroke="#262626" stroke-width="0.75"/>
<line x1="253.50" y1="724.70" x2="253.50" y2="726.80" stroke="#262626" stroke-width="0.75"/>
<line x1="256.50" y1="724.70" x2="256.50" y2="726.80" stroke="#262626" stroke-width="0.75"/>
<line x1="259.50" y1="724.70" x2="259.50" y2="728.36" stroke="#262626" stroke-width="0.9"/>
<line x1="279.50" y1="724.70" x2="279.50" y2="726.80" stroke="#262626" stroke-width="0.75"/>
<line x1="290.50" y1="724.70" x2="290.50" y2="726.80" stroke="#262626" stroke-width="0.75"/>
<line x1="298.50" y1="724.70" x2="298.50" y2="726.80" stroke="#262626" stroke-width="0.75"/>
<line x1="305.50" y1="724.70" x2="305.50" y2="726.80" stroke="#262626" stroke-width="0.75"/>
<line x1="310.50" y1="724.70" x2="310.50" y2="726.80" stroke="#262626" stroke-width="0.75"/>
<line x1="314.50" y1="724.70" x2="314.50" y2="726.80" stroke="#262626" stroke-width="0.75"/>
<line x1="318.50" y1="724.70" x2="318.50" y2="726.80" stroke="#262626" stroke-width="0.75"/>
<line x1="321.50" y1="724.70" x2="321.50" y2="726.80" stroke="#262626" stroke-width="0.75"/>
<line x1="324.50" y1="724.70" x2="324.50" y2="728.36" stroke="#262626" stroke-width="0.9"/>
<text x="52.11 59.22" y="739.85" font-size="11.57">10</text>
<text x="65.91 72.00" y="735.90" font-size="8.38">−4</text>
<text x="117.42 124.53" y="739.85" font-size="11.57">10</text>
<text x="131.22 137.31" y="735.90" font-size="8.38">−3</text>
<text x="182.73 189.84" y="739.85" font-size="11.57">10</text>
<text x="196.53 202.62" y="735.90" font-size="8.38">−2</text>
<text x="248.04 255.15" y="739.85" font-size="11.57">10</text>
<text x="261.84 267.93" y="735.90" font-size="8.38">−1</text>
<text x="316.75 323.86" y="739.85" font-size="11.57">10</text>
<text x="330.26" y="735.90" font-size="8.38">0</text>
<text x="182.39" y="753.70" font-size="11.02">x</text>
<g transform="translate(8.00,627.50) rotate(-90)"><text x="-77.55 -70.53 -66.90 -59.14 -52.37 -48.50 -45.60 -39.12 -35.34 -31.53 -25.04 -21.81 -13.85 -6.35 0.66 8.44 15.19 21.80 25.35 31.96 35.43 39.35 47.31 55.18 60.92 69.46 73.61" y="0.00" font-size="11.02">σ(Ratio to NNPDF4.0 (NNLO))</text></g>
<text x="143.18 150.01 154.12 162.38 166.91 171.17 179.30 187.43 195.37 199.05 209.40 216.97" y="523.30" font-size="13.23">s at 100 GeV</text>
<rect x="119.40" y="534.60" width="132" height="49.8" rx="2.1" fill="#fff" fill-opacity="0.8" stroke="#d0d0d0" stroke-width="0.84"/>
<line x1="122.90" y1="543.20" x2="145.30" y2="543.20" stroke="#66c2a5" stroke-width="1.57"/>
<text x="153.10 161.07 168.57 175.58 183.35 190.11 196.72 200.27 206.88 210.35 214.26 222.23 230.09 235.84 244.37" y="547.08" font-size="11.02">NNPDF4.0 (NNLO)</text>
<line x1="122.90" y1="558.65" x2="145.30" y2="558.65" stroke="#fc8d62" stroke-width="1.57"/>
<text x="152.84 160.42 167.36 174.14 180.76 184.22 188.14 196.10 203.97 209.72 218.25" y="562.53" font-size="11.02">CT18 (NNLO)</text>
<line x1="122.90" y1="574.10" x2="145.30" y2="574.10" stroke="#8da0cb" stroke-width="1.57"/>
<text x="153.10 161.99 169.07 176.94 183.89 190.66 197.28 200.74 204.66 212.62 220.49 226.24 234.77" y="577.98" font-size="11.02">MSHT20 (NNLO)</text>
<line x1="416.50" y1="529.30" x2="416.50" y2="724.70" stroke="#f4f4f4" stroke-width="1"/>
<line x1="481.50" y1="529.30" x2="481.50" y2="724.70" stroke="#f4f4f4" stroke-width="1"/>
<line x1="546.50" y1="529.30" x2="546.50" y2="724.70" stroke="#f4f4f4" stroke-width="1"/>
<line x1="612.50" y1="529.30" x2="612.50" y2="724.70" stroke="#f4f4f4" stroke-width="1"/>
<line x1="677.50" y1="529.30" x2="677.50" y2="724.70" stroke="#f4f4f4" stroke-width="1"/>
<line x1="396.40" y1="698.50" x2="679.50" y2="698.50" stroke="#f4f4f4" stroke-width="1"/>
<line x1="396.40" y1="672.50" x2="679.50" y2="672.50" stroke="#f4f4f4" stroke-width="1"/>
<line x1="396.40" y1="646.50" x2="679.50" y2="646.50" stroke="#f4f4f4" stroke-width="1"/>
<line x1="396.40" y1="620.50" x2="679.50" y2="620.50" stroke="#f4f4f4" stroke-width="1"/>
<line x1="396.40" y1="594.50" x2="679.50" y2="594.50" stroke="#f4f4f4" stroke-width="1"/>
<line x1="396.40" y1="568.50" x2="679.50" y2="568.50" stroke="#f4f4f4" stroke-width="1"/>
<line x1="396.40" y1="542.50" x2="679.50" y2="542.50" stroke="#f4f4f4" stroke-width="1"/>
<g clip-path="url(#cp21)" fill="none" stroke-width="1.57" stroke-linejoin="round">
<path d="M395.6,703.3 396.6,703.5 397.6,703.7 398.7,704.0 399.7,704.2 400.7,704.5 401.8,704.7 402.9,705.0 403.9,705.3 405.0,705.5 406.0,705.8 407.1,706.0 408.2,706.3 409.3,706.5 410.4,706.8 411.4,707.1 412.5,707.3 413.6,707.6 414.7,707.8 415.8,708.1 416.9,708.3 418.0,708.6 419.1,708.8 420.2,709.1 421.3,709.3 422.4,709.5 423.5,709.8 424.6,710.0 425.7,710.2 426.8,710.4 428.0,710.7 429.1,710.9 430.2,711.1 431.3,711.3 432.4,711.5 433.5,711.6 434.6,711.8 435.8,712.0 436.9,712.2 438.0,712.3 439.1,712.5 440.2,712.6 441.3,712.7 442.4,712.9 443.6,713.0 444.7,713.1 445.8,713.2 446.9,713.3 448.0,713.3 449.1,713.4 450.2,713.5 451.3,713.5 452.4,713.5 453.5,713.6 454.6,713.6 455.7,713.6 456.8,713.6 457.9,713.5 458.9,713.5 460.0,713.5 461.1,713.4 462.2,713.3 463.3,713.3 464.3,713.2 465.4,713.1 466.5,713.0 467.6,712.9 468.6,712.7 469.7,712.6 470.8,712.5 471.8,712.3 472.9,712.1 474.0,712.0 475.0,711.8 476.1,711.6 477.1,711.4 478.2,711.2 479.3,711.0 480.3,710.8 481.4,710.6 482.4,710.4 483.5,710.1 484.5,709.9 485.6,709.6 486.7,709.4 487.7,709.1 488.8,708.9 489.8,708.6 490.9,708.3 491.9,708.0 493.0,707.8 494.0,707.5 495.1,707.2 496.1,706.9 497.2,706.6 498.3,706.3 499.3,706.0 500.4,705.7 501.4,705.4 502.5,705.1 503.5,704.8 504.6,704.4 505.7,704.1 506.7,703.8 507.8,703.5 508.8,703.1 509.9,702.8 511.0,702.5 512.0,702.2 513.1,701.8 514.2,701.5 515.2,701.2 516.3,700.8 517.4,700.5 518.4,700.2 519.5,699.9 520.6,699.5 521.7,699.2 522.7,698.9 523.8,698.6 524.9,698.2 526.0,697.9 527.1,697.6 528.2,697.2 529.2,696.9 530.3,696.6 531.4,696.2 532.5,695.9 533.6,695.6 534.6,695.2 535.7,694.9 536.8,694.5 537.9,694.2 539.0,693.8 540.0,693.5 541.1,693.1 542.2,692.8 543.2,692.4 544.3,692.0 545.4,691.7 546.4,691.3 547.5,690.9 548.6,690.5 549.6,690.1 550.7,689.8 551.7,689.4 552.8,689.0 553.8,688.6 554.9,688.1 555.9,687.7 556.9,687.3 558.0,686.9 559.0,686.5 560.0,686.0 561.0,685.6 562.1,685.1 563.1,684.7 564.1,684.2 565.1,683.7 566.1,683.3 567.1,682.8 568.0,682.3 569.0,681.8 570.0,681.3 571.0,680.8 571.9,680.2 572.9,679.7 573.8,679.2 574.8,678.6 575.7,678.0 576.6,677.5 577.6,676.9 578.5,676.3 579.4,675.7 580.3,675.1 581.2,674.5 582.1,673.9 582.9,673.3 583.8,672.6 584.7,672.0 585.5,671.3 586.4,670.6 587.2,669.9 588.1,669.2 588.9,668.5 589.7,667.8 590.5,667.1 591.3,666.4 592.1,665.6 592.9,664.9 593.6,664.1 594.4,663.3 595.2,662.5 595.9,661.8 596.7,661.0 597.4,660.2 598.1,659.3 598.8,658.5 599.5,657.7 600.2,656.8 600.9,656.0 601.6,655.1 602.3,654.3 603.0,653.4 603.6,652.5 604.3,651.7 604.9,650.8 605.5,649.9 606.2,649.0 606.8,648.0 607.4,647.1 608.0,646.2 608.6,645.3 609.2,644.3 609.7,643.4 610.3,642.4 610.9,641.5 611.4,640.5 611.9,639.6 612.5,638.6 613.0,637.6 613.5,636.6 614.0,635.6 614.5,634.7 615.0,633.7 615.5,632.7 615.9,631.7 616.4,630.6 616.9,629.6 617.3,628.6 617.7,627.6 618.2,626.6 618.6,625.5 619.0,624.5 619.4,623.5 619.8,622.4 620.2,621.4 620.5,620.3 620.9,619.3 621.3,618.2 621.6,617.2 621.9,616.1 622.3,615.1 622.6,614.0 622.9,613.0 623.2,611.9 623.5,610.8 623.8,609.8 624.1,608.7 624.3,607.6 624.6,606.5 624.8,605.5 625.1,604.4 625.3,603.3 625.6,602.2 625.8,601.1 626.0,600.0 626.2,599.0 626.4,597.9 626.6,596.8 626.8,595.7 627.0,594.6 627.2,593.5 627.4,592.4 627.6,591.3 627.7,590.2 627.9,589.1 628.1,588.0 628.2,586.9 628.4,585.8 628.5,584.7 628.7,583.6 628.8,582.5 628.9,581.4 629.1,580.3 629.2,579.2 629.3,578.1 629.5,577.0 629.6,575.9 629.7,574.8 629.8,573.7 629.9,572.5 630.0,571.4 630.1,570.3 630.2,569.2 630.4,568.1 630.5,567.0 630.6,565.9 630.7,564.8 630.8,563.7 630.9,562.6 631.0,561.5 631.1,560.3 631.1,559.2 631.2,558.1 631.3,557.0 631.4,555.9 631.5,554.8 631.6,553.7 631.7,552.6 631.8,551.5 631.9,550.4 632.0,549.3 632.1,548.2 632.3,547.1 632.4,546.0 632.5,544.9 632.6,543.8 632.7,542.7 632.8,541.6 632.9,540.5 633.0,539.4 633.2,538.3 633.3,537.2 633.4,536.1 633.6,535.1 633.7,534.0 633.8,532.9 634.0,531.8 634.1,530.7 634.3,529.6 634.4,528.6 634.6,527.5 634.8,526.4 635.0,525.3 635.1,524.3 635.3,523.2 635.5,522.1" stroke="#66c2a5"/>
<path d="M395.5,605.2 396.5,604.8 397.6,604.4 398.6,604.0 399.6,603.6 400.6,603.2 401.6,602.8 402.6,602.4 403.6,602.0 404.6,601.6 405.6,601.2 406.7,600.8 407.7,600.4 408.7,599.9 409.7,599.5 410.7,599.1 411.8,598.7 412.8,598.3 413.8,597.8 414.8,597.4 415.9,597.0 416.9,596.5 417.9,596.1 419.0,595.7 420.0,595.3 421.0,594.8 422.1,594.4 423.1,594.0 424.1,593.6 425.2,593.1 426.2,592.7 427.3,592.3 428.3,591.9 429.3,591.5 430.4,591.1 431.4,590.7 432.5,590.3 433.5,589.9 434.6,589.5 435.6,589.1 436.7,588.7 437.7,588.3 438.8,588.0 439.8,587.6 440.9,587.2 442.0,586.9 443.0,586.5 444.1,586.2 445.1,585.8 446.2,585.5 447.3,585.2 448.3,584.9 449.4,584.5 450.5,584.2 451.5,584.0 452.6,583.7 453.7,583.4 454.7,583.1 455.8,582.9 456.9,582.6 458.0,582.4 459.0,582.1 460.1,581.9 461.2,581.7 462.3,581.5 463.4,581.3 464.4,581.1 465.5,581.0 466.6,580.8 467.7,580.7 468.8,580.5 469.9,580.4 471.0,580.3 472.1,580.2 473.1,580.1 474.2,580.1 475.3,580.0 476.4,580.0 477.5,579.9 478.6,579.9 479.7,579.9 480.8,579.9 481.9,579.9 483.0,579.9 484.1,580.0 485.2,580.0 486.3,580.1 487.4,580.1 488.5,580.2 489.6,580.3 490.7,580.4 491.8,580.5 492.9,580.6 494.0,580.8 495.1,580.9 496.2,581.1 497.3,581.2 498.4,581.4 499.5,581.6 500.6,581.8 501.7,582.0 502.8,582.2 503.9,582.4 505.0,582.6 506.0,582.8 507.1,583.1 508.2,583.3 509.3,583.6 510.4,583.8 511.5,584.1 512.6,584.4 513.6,584.6 514.7,584.9 515.8,585.2 516.9,585.5 517.9,585.8 519.0,586.2 520.1,586.5 521.2,586.8 522.2,587.1 523.3,587.5 524.3,587.8 525.4,588.2 526.5,588.5 527.5,588.9 528.6,589.3 529.6,589.6 530.7,590.0 531.7,590.4 532.7,590.8 533.8,591.2 534.8,591.6 535.8,591.9 536.9,592.3 537.9,592.8 538.9,593.2 539.9,593.6 540.9,594.0 542.0,594.4 543.0,594.8 544.0,595.2 545.0,595.7 546.1,596.1 547.1,596.5 548.2,597.0 549.2,597.4 550.3,597.8 551.3,598.3 552.4,598.7 553.5,599.1 554.5,599.5 555.6,599.8 556.7,600.1 557.8,600.4 558.8,600.6 559.9,600.8 561.0,601.0 562.0,601.0 563.1,601.0 564.1,600.9 565.2,600.8 566.2,600.6 567.2,600.4 568.2,600.1 569.2,599.7 570.1,599.3 571.0,598.9 572.0,598.4 572.8,597.9 573.7,597.3 574.5,596.7 575.4,596.1 576.2,595.4 577.0,594.7 577.7,593.9 578.5,593.2 579.2,592.4 579.9,591.5 580.6,590.7 581.3,589.8 582.0,588.9 582.6,588.0 583.2,587.0 583.9,586.1 584.5,585.1 585.1,584.1 585.7,583.1 586.2,582.1 586.8,581.0 587.4,580.0 587.9,578.9 588.4,577.9 589.0,576.8 589.5,575.8 590.0,574.7 590.5,573.6 591.0,572.6 591.5,571.5 592.0,570.5 592.4,569.4 592.9,568.4 593.4,567.3 593.9,566.3 594.3,565.3 594.8,564.2 595.2,563.2 595.7,562.2 596.1,561.2 596.6,560.2 597.0,559.2 597.4,558.2 597.9,557.2 598.3,556.2 598.7,555.2 599.1,554.2 599.5,553.2 599.9,552.2 600.3,551.2 600.7,550.3 601.1,549.3 601.5,548.3 601.9,547.3 602.2,546.3 602.6,545.3 603.0,544.3 603.3,543.3 603.7,542.2 604.1,541.2 604.4,540.2 604.7,539.2 605.1,538.2 605.4,537.1 605.8,536.1 606.1,535.0 606.4,534.0 606.7,532.9 607.0,531.8 607.3,530.8 607.6,529.7 607.9,528.6 608.2,527.5 608.5,526.3 608.8,525.2 609.1,524.1 609.4,522.9 609.6,521.8" stroke="#fc8d62"/>
<path d="M653.0,522.0 653.1,523.1 653.2,524.2 653.2,525.3 653.3,526.5 653.4,527.6 653.4,528.7 653.5,529.8 653.6,530.9 653.6,532.1 653.7,533.2 653.8,534.3 653.9,535.4 653.9,536.5 654.0,537.6 654.1,538.8 654.2,539.9 654.2,541.0 654.3,542.1 654.4,543.2 654.5,544.3 654.5,545.5 654.6,546.6 654.7,547.7 654.8,548.8 654.9,549.9 655.0,551.0 655.0,552.2 655.1,553.3 655.2,554.4 655.3,555.5 655.4,556.6 655.5,557.7 655.6,558.9 655.7,560.0 655.8,561.1 655.9,562.2 656.0,563.3 656.1,564.4 656.2,565.5 656.3,566.7 656.4,567.8 656.5,568.9 656.6,570.0 656.7,571.1 656.8,572.2 656.9,573.3 657.1,574.4 657.2,575.6 657.3,576.7 657.4,577.8 657.5,578.9 657.6,580.0 657.8,581.1 657.9,582.2 658.0,583.3 658.2,584.5 658.3,585.6 658.4,586.7 658.5,587.8 658.7,588.9 658.8,590.0 659.0,591.1 659.1,592.2 659.2,593.3 659.4,594.5 659.5,595.6 659.7,596.7 659.8,597.8 660.0,598.9 660.1,600.0 660.3,601.1 660.5,602.2 660.6,603.3 660.8,604.4 660.9,605.5 661.1,606.6 661.3,607.7 661.5,608.8 661.6,610.0 661.8,611.1 662.0,612.2 662.2,613.3 662.3,614.4 662.5,615.5 662.7,616.6 662.9,617.7 663.1,618.8 663.3,619.9 663.5,621.0 663.7,622.1 663.9,623.2 664.1,624.3 664.3,625.4 664.5,626.5 664.7,627.6 664.9,628.7 665.1,629.8 665.4,630.9 665.6,632.0 665.8,633.1 666.0,634.2" stroke="#fc8d62"/>
<path d="M395.6,645.7 396.6,645.5 397.6,645.2 398.7,645.0 399.7,644.7 400.7,644.5 401.7,644.3 402.8,644.0 403.8,643.8 404.9,643.5 406.0,643.3 407.0,643.1 408.1,642.9 409.2,642.6 410.2,642.4 411.3,642.2 412.4,642.0 413.5,641.8 414.6,641.6 415.7,641.4 416.8,641.2 417.9,641.0 419.0,640.8 420.1,640.6 421.2,640.5 422.3,640.3 423.5,640.1 424.6,640.0 425.7,639.8 426.8,639.7 427.9,639.6 429.1,639.4 430.2,639.3 431.3,639.2 432.4,639.1 433.6,639.0 434.7,638.9 435.8,638.9 437.0,638.8 438.1,638.8 439.2,638.7 440.3,638.7 441.5,638.7 442.6,638.6 443.7,638.6 444.8,638.6 445.9,638.7 447.1,638.7 448.2,638.7 449.3,638.8 450.4,638.8 451.5,638.9 452.6,639.0 453.7,639.1 454.8,639.2 455.9,639.4 457.0,639.5 458.1,639.7 459.2,639.8 460.2,640.0 461.3,640.2 462.4,640.5 463.4,640.7 464.5,640.9 465.5,641.2 466.6,641.5 467.6,641.8 468.7,642.1 469.7,642.4 470.7,642.8 471.7,643.1 472.7,643.5 473.7,643.9 474.7,644.3 475.7,644.7 476.7,645.2 477.7,645.7 478.7,646.2 479.6,646.7 480.6,647.2 481.5,647.7 482.4,648.3 483.4,648.9 484.3,649.5 485.2,650.1 486.1,650.8 487.0,651.4 487.9,652.1 488.8,652.8 489.6,653.5 490.5,654.2 491.4,654.9 492.2,655.6 493.1,656.4 493.9,657.1 494.8,657.9 495.6,658.6 496.5,659.4 497.3,660.2 498.2,661.0 499.0,661.8 499.8,662.6 500.7,663.4 501.5,664.1 502.3,664.9 503.1,665.7 504.0,666.5 504.8,667.3 505.6,668.1 506.5,668.9 507.3,669.7 508.1,670.5 509.0,671.2 509.8,672.0 510.7,672.8 511.5,673.5 512.4,674.3 513.2,675.0 514.1,675.7 514.9,676.4 515.8,677.1 516.7,677.8 517.6,678.5 518.5,679.2 519.3,679.8 520.2,680.4 521.1,681.0 522.1,681.6 523.0,682.2 523.9,682.7 524.8,683.3 525.8,683.8 526.7,684.3 527.7,684.7 528.7,685.2 529.7,685.6 530.7,686.0 531.7,686.4 532.7,686.7 533.7,687.0 534.8,687.3 535.8,687.5 536.9,687.8 537.9,687.9 539.0,688.1 540.1,688.2 541.2,688.3 542.3,688.4 543.4,688.4 544.5,688.4 545.6,688.3 546.7,688.2 547.8,688.1 548.8,687.9 549.9,687.7 550.9,687.4 551.9,687.1 552.9,686.8 553.9,686.4 554.9,685.9 555.8,685.4 556.7,684.9 557.6,684.3 558.5,683.7 559.3,683.1 560.2,682.4 561.0,681.8 561.9,681.1 562.7,680.4 563.6,679.8 564.4,679.1 565.2,678.4 566.0,677.7 566.9,676.9 567.7,676.2 568.5,675.5 569.3,674.8 570.1,674.0 570.9,673.3 571.7,672.5 572.5,671.8 573.3,671.0 574.1,670.2 574.9,669.5 575.6,668.7 576.4,667.9 577.2,667.1 577.9,666.3 578.7,665.5 579.5,664.7 580.2,663.9 581.0,663.1 581.7,662.2 582.4,661.4 583.2,660.6 583.9,659.7 584.6,658.9 585.3,658.0 586.1,657.2 586.8,656.3 587.5,655.4 588.2,654.6 588.9,653.7 589.5,652.8 590.2,651.9 590.9,651.0 591.6,650.1 592.3,649.2 592.9,648.3 593.6,647.4 594.2,646.5 594.9,645.6 595.5,644.7 596.1,643.8 596.8,642.8 597.4,641.9 598.0,641.0 598.6,640.0 599.2,639.1 599.8,638.1 600.4,637.2 601.0,636.2 601.6,635.3 602.2,634.3 602.7,633.4 603.3,632.4 603.8,631.4 604.4,630.5 604.9,629.5 605.5,628.5 606.0,627.5 606.5,626.6 607.0,625.6 607.5,624.6 608.0,623.6 608.5,622.6 609.0,621.6 609.5,620.6 610.0,619.6 610.4,618.6 610.9,617.6 611.4,616.6 611.8,615.6 612.2,614.6 612.7,613.6 613.1,612.6 613.5,611.6 613.9,610.6 614.3,609.5 614.7,608.5 615.1,607.5 615.5,606.5 615.9,605.4 616.3,604.4 616.6,603.4 617.0,602.4 617.4,601.3 617.7,600.3 618.0,599.2 618.4,598.2 618.7,597.2 619.0,596.1 619.4,595.1 619.7,594.0 620.0,593.0 620.3,591.9 620.6,590.9 620.9,589.8 621.2,588.8 621.4,587.7 621.7,586.7 622.0,585.6 622.2,584.5 622.5,583.5 622.8,582.4 623.0,581.3 623.2,580.3 623.5,579.2 623.7,578.1 623.9,577.1 624.2,576.0 624.4,574.9 624.6,573.8 624.8,572.8 625.0,571.7 625.2,570.6 625.4,569.5 625.6,568.4 625.8,567.4 625.9,566.3 626.1,565.2 626.3,564.1 626.4,563.0 626.6,561.9 626.8,560.8 626.9,559.7 627.1,558.6 627.2,557.5 627.3,556.4 627.5,555.3 627.6,554.2 627.7,553.1 627.9,552.0 628.0,550.9 628.1,549.8 628.2,548.7 628.3,547.6 628.4,546.5 628.5,545.4 628.6,544.3 628.7,543.2 628.8,542.0 628.9,540.9 629.0,539.8 629.0,538.7 629.1,537.6 629.2,536.5 629.3,535.3 629.3,534.2 629.4,533.1 629.5,532.0 629.5,530.9 629.6,529.7 629.6,528.6 629.7,527.5 629.7,526.4 629.7,525.2 629.8,524.1 629.8,523.0 629.8,521.9" stroke="#8da0cb"/>
</g>
<line x1="396.40" y1="529.30" x2="396.40" y2="725.10" stroke="#262626" stroke-width="0.84"/>
<line x1="396.00" y1="725.00" x2="679.50" y2="725.00" stroke="#262626" stroke-width="0.95"/>
<line x1="392.74" y1="724.50" x2="396.40" y2="724.50" stroke="#262626" stroke-width="0.9"/>
<text x="366.01 372.62 376.17 382.94" y="728.65" font-size="11.02">0.00</text>
<line x1="392.74" y1="698.50" x2="396.40" y2="698.50" stroke="#262626" stroke-width="0.9"/>
<text x="366.01 372.62 376.17 382.94" y="702.60" font-size="11.02">0.02</text>
<line x1="392.74" y1="672.50" x2="396.40" y2="672.50" stroke="#262626" stroke-width="0.9"/>
<text x="366.01 372.62 376.17 382.94" y="676.54" font-size="11.02">0.04</text>
<line x1="392.74" y1="646.50" x2="396.40" y2="646.50" stroke="#262626" stroke-width="0.9"/>
<text x="366.01 372.62 376.17 382.94" y="650.49" font-size="11.02">0.06</text>
<line x1="392.74" y1="620.50" x2="396.40" y2="620.50" stroke="#262626" stroke-width="0.9"/>
<text x="366.01 372.62 376.17 382.94" y="624.44" font-size="11.02">0.08</text>
<line x1="392.74" y1="594.50" x2="396.40" y2="594.50" stroke="#262626" stroke-width="0.9"/>
<text x="366.01 372.62 376.17 382.94" y="598.38" font-size="11.02">0.10</text>
<line x1="392.74" y1="568.50" x2="396.40" y2="568.50" stroke="#262626" stroke-width="0.9"/>
<text x="366.01 372.62 376.17 382.94" y="572.33" font-size="11.02">0.12</text>
<line x1="392.74" y1="542.50" x2="396.40" y2="542.50" stroke="#262626" stroke-width="0.9"/>
<text x="366.01 372.62 376.17 382.94" y="546.28" font-size="11.02">0.14</text>
<line x1="396.50" y1="724.70" x2="396.50" y2="726.80" stroke="#262626" stroke-width="0.75"/>
<line x1="401.50" y1="724.70" x2="401.50" y2="726.80" stroke="#262626" stroke-width="0.75"/>
<line x1="405.50" y1="724.70" x2="405.50" y2="726.80" stroke="#262626" stroke-width="0.75"/>
<line x1="409.50" y1="724.70" x2="409.50" y2="726.80" stroke="#262626" stroke-width="0.75"/>
<line x1="413.50" y1="724.70" x2="413.50" y2="726.80" stroke="#262626" stroke-width="0.75"/>
<line x1="416.50" y1="724.70" x2="416.50" y2="728.36" stroke="#262626" stroke-width="0.9"/>
<line x1="435.50" y1="724.70" x2="435.50" y2="726.80" stroke="#262626" stroke-width="0.75"/>
<line x1="447.50" y1="724.70" x2="447.50" y2="726.80" stroke="#262626" stroke-width="0.75"/>
<line x1="455.50" y1="724.70" x2="455.50" y2="726.80" stroke="#262626" stroke-width="0.75"/>
<line x1="461.50" y1="724.70" x2="461.50" y2="726.80" stroke="#262626" stroke-width="0.75"/>
<line x1="466.50" y1="724.70" x2="466.50" y2="726.80" stroke="#262626" stroke-width="0.75"/>
<line x1="471.50" y1="724.70" x2="471.50" y2="726.80" stroke="#262626" stroke-width="0.75"/>
<line x1="475.50" y1="724.70" x2="475.50" y2="726.80" stroke="#262626" stroke-width="0.75"/>
<line x1="478.50" y1="724.70" x2="478.50" y2="726.80" stroke="#262626" stroke-width="0.75"/>
<line x1="481.50" y1="724.70" x2="481.50" y2="728.36" stroke="#262626" stroke-width="0.9"/>
<line x1="501.50" y1="724.70" x2="501.50" y2="726.80" stroke="#262626" stroke-width="0.75"/>
<line x1="512.50" y1="724.70" x2="512.50" y2="726.80" stroke="#262626" stroke-width="0.75"/>
<line x1="520.50" y1="724.70" x2="520.50" y2="726.80" stroke="#262626" stroke-width="0.75"/>
<line x1="527.50" y1="724.70" x2="527.50" y2="726.80" stroke="#262626" stroke-width="0.75"/>
<line x1="532.50" y1="724.70" x2="532.50" y2="726.80" stroke="#262626" stroke-width="0.75"/>
<line x1="536.50" y1="724.70" x2="536.50" y2="726.80" stroke="#262626" stroke-width="0.75"/>
<line x1="540.50" y1="724.70" x2="540.50" y2="726.80" stroke="#262626" stroke-width="0.75"/>
<line x1="543.50" y1="724.70" x2="543.50" y2="726.80" stroke="#262626" stroke-width="0.75"/>
<line x1="546.50" y1="724.70" x2="546.50" y2="728.36" stroke="#262626" stroke-width="0.9"/>
<line x1="566.50" y1="724.70" x2="566.50" y2="726.80" stroke="#262626" stroke-width="0.75"/>
<line x1="577.50" y1="724.70" x2="577.50" y2="726.80" stroke="#262626" stroke-width="0.75"/>
<line x1="586.50" y1="724.70" x2="586.50" y2="726.80" stroke="#262626" stroke-width="0.75"/>
<line x1="592.50" y1="724.70" x2="592.50" y2="726.80" stroke="#262626" stroke-width="0.75"/>
<line x1="597.50" y1="724.70" x2="597.50" y2="726.80" stroke="#262626" stroke-width="0.75"/>
<line x1="601.50" y1="724.70" x2="601.50" y2="726.80" stroke="#262626" stroke-width="0.75"/>
<line x1="605.50" y1="724.70" x2="605.50" y2="726.80" stroke="#262626" stroke-width="0.75"/>
<line x1="609.50" y1="724.70" x2="609.50" y2="726.80" stroke="#262626" stroke-width="0.75"/>
<line x1="612.50" y1="724.70" x2="612.50" y2="728.36" stroke="#262626" stroke-width="0.9"/>
<line x1="631.50" y1="724.70" x2="631.50" y2="726.80" stroke="#262626" stroke-width="0.75"/>
<line x1="643.50" y1="724.70" x2="643.50" y2="726.80" stroke="#262626" stroke-width="0.75"/>
<line x1="651.50" y1="724.70" x2="651.50" y2="726.80" stroke="#262626" stroke-width="0.75"/>
<line x1="657.50" y1="724.70" x2="657.50" y2="726.80" stroke="#262626" stroke-width="0.75"/>
<line x1="662.50" y1="724.70" x2="662.50" y2="726.80" stroke="#262626" stroke-width="0.75"/>
<line x1="667.50" y1="724.70" x2="667.50" y2="726.80" stroke="#262626" stroke-width="0.75"/>
<line x1="670.50" y1="724.70" x2="670.50" y2="726.80" stroke="#262626" stroke-width="0.75"/>
<line x1="674.50" y1="724.70" x2="674.50" y2="726.80" stroke="#262626" stroke-width="0.75"/>
<line x1="677.50" y1="724.70" x2="677.50" y2="728.36" stroke="#262626" stroke-width="0.9"/>
<text x="404.71 411.82" y="739.85" font-size="11.57">10</text>
<text x="418.51 424.60" y="735.90" font-size="8.38">−4</text>
<text x="470.02 477.13" y="739.85" font-size="11.57">10</text>
<text x="483.82 489.91" y="735.90" font-size="8.38">−3</text>
<text x="535.33 542.44" y="739.85" font-size="11.57">10</text>
<text x="549.13 555.22" y="735.90" font-size="8.38">−2</text>
<text x="600.64 607.75" y="739.85" font-size="11.57">10</text>
<text x="614.44 620.53" y="735.90" font-size="8.38">−1</text>
<text x="669.35 676.46" y="739.85" font-size="11.57">10</text>
<text x="682.86" y="735.90" font-size="8.38">0</text>
<text x="534.99" y="753.70" font-size="11.02">x</text>
<g transform="translate(360.60,627.50) rotate(-90)"><text x="-77.55 -70.53 -66.90 -59.14 -52.37 -48.50 -45.60 -39.12 -35.34 -31.53 -25.04 -21.81 -13.85 -6.35 0.66 8.44 15.19 21.80 25.35 31.96 35.43 39.35 47.31 55.18 60.92 69.46 73.61" y="0.00" font-size="11.02">σ(Ratio to NNPDF4.0 (NNLO))</text></g>
<text x="495.78 502.61 506.72 514.98 519.51 523.77 531.90 540.03 547.97 551.65 562.00 569.57" y="523.30" font-size="13.23">s at 100 GeV</text>
<line x1="498.3" y1="514.60" x2="502.3" y2="514.60" stroke="#000" stroke-width="1.0"/>
<rect x="471.90" y="602.40" width="132" height="49.8" rx="2.1" fill="#fff" fill-opacity="0.8" stroke="#d0d0d0" stroke-width="0.84"/>
<line x1="475.40" y1="611.00" x2="497.80" y2="611.00" stroke="#66c2a5" stroke-width="1.57"/>
<text x="505.60 513.57 521.07 528.08 535.85 542.61 549.22 552.77 559.38 562.85 566.76 574.73 582.59 588.34 596.87" y="614.88" font-size="11.02">NNPDF4.0 (NNLO)</text>
<line x1="475.40" y1="626.45" x2="497.80" y2="626.45" stroke="#fc8d62" stroke-width="1.57"/>
<text x="505.34 512.92 519.86 526.64 533.26 536.72 540.64 548.60 556.47 562.22 570.75" y="630.33" font-size="11.02">CT18 (NNLO)</text>
<line x1="475.40" y1="641.90" x2="497.80" y2="641.90" stroke="#8da0cb" stroke-width="1.57"/>
<text x="505.60 514.49 521.57 529.44 536.39 543.16 549.78 553.24 557.16 565.12 572.99 578.74 587.27" y="645.78" font-size="11.02">MSHT20 (NNLO)</text>
<line x1="63.50" y1="785.90" x2="63.50" y2="981.30" stroke="#f4f4f4" stroke-width="1"/>
<line x1="128.50" y1="785.90" x2="128.50" y2="981.30" stroke="#f4f4f4" stroke-width="1"/>
<line x1="194.50" y1="785.90" x2="194.50" y2="981.30" stroke="#f4f4f4" stroke-width="1"/>
<line x1="259.50" y1="785.90" x2="259.50" y2="981.30" stroke="#f4f4f4" stroke-width="1"/>
<line x1="324.50" y1="785.90" x2="324.50" y2="981.30" stroke="#f4f4f4" stroke-width="1"/>
<line x1="43.80" y1="955.50" x2="326.90" y2="955.50" stroke="#f4f4f4" stroke-width="1"/>
<line x1="43.80" y1="929.50" x2="326.90" y2="929.50" stroke="#f4f4f4" stroke-width="1"/>
<line x1="43.80" y1="903.50" x2="326.90" y2="903.50" stroke="#f4f4f4" stroke-width="1"/>
<line x1="43.80" y1="877.50" x2="326.90" y2="877.50" stroke="#f4f4f4" stroke-width="1"/>
<line x1="43.80" y1="851.50" x2="326.90" y2="851.50" stroke="#f4f4f4" stroke-width="1"/>
<line x1="43.80" y1="824.50" x2="326.90" y2="824.50" stroke="#f4f4f4" stroke-width="1"/>
<line x1="43.80" y1="798.50" x2="326.90" y2="798.50" stroke="#f4f4f4" stroke-width="1"/>
<g clip-path="url(#cp30)" fill="none" stroke-width="1.57" stroke-linejoin="round">
<path d="M42.5,957.9 43.6,958.0 44.7,958.2 45.8,958.3 46.9,958.5 48.0,958.7 49.1,958.8 50.2,959.0 51.2,959.1 52.3,959.3 53.4,959.5 54.5,959.6 55.6,959.8 56.7,960.0 57.8,960.1 58.9,960.3 60.0,960.5 61.1,960.6 62.2,960.8 63.3,961.0 64.4,961.1 65.4,961.3 66.5,961.5 67.6,961.7 68.7,961.8 69.8,962.0 70.9,962.2 72.0,962.4 73.1,962.5 74.2,962.7 75.3,962.9 76.4,963.0 77.5,963.2 78.6,963.4 79.6,963.5 80.7,963.7 81.8,963.9 82.9,964.0 84.0,964.2 85.1,964.4 86.2,964.5 87.3,964.7 88.4,964.9 89.5,965.0 90.6,965.2 91.7,965.4 92.8,965.5 93.9,965.7 95.0,965.8 96.1,966.0 97.1,966.1 98.2,966.3 99.3,966.4 100.4,966.6 101.5,966.7 102.6,966.9 103.7,967.0 104.8,967.1 105.9,967.3 107.0,967.4 108.1,967.5 109.2,967.7 110.3,967.8 111.4,967.9 112.5,968.0 113.6,968.2 114.7,968.3 115.8,968.4 116.9,968.5 118.0,968.6 119.1,968.7 120.2,968.8 121.3,968.9 122.4,969.0 123.5,969.1 124.5,969.2 125.6,969.3 126.7,969.4 127.8,969.4 128.9,969.5 130.0,969.6 131.1,969.6 132.2,969.7 133.3,969.8 134.4,969.8 135.5,969.9 136.6,969.9 137.7,970.0 138.8,970.0 139.9,970.0 141.0,970.1 142.2,970.1 143.3,970.1 144.4,970.1 145.5,970.2 146.6,970.2 147.7,970.2 148.8,970.2 149.9,970.2 151.0,970.2 152.1,970.1 153.2,970.1 154.3,970.1 155.4,970.1 156.5,970.0 157.6,970.0 158.7,969.9 159.8,969.9 160.9,969.8 162.0,969.8 163.1,969.7 164.2,969.6 165.4,969.6 166.5,969.5 167.6,969.4 168.7,969.3 169.8,969.2 170.9,969.1 172.0,969.0 173.1,968.9 174.2,968.8 175.3,968.7 176.4,968.5 177.5,968.4 178.6,968.3 179.7,968.2 180.8,968.0 182.0,967.9 183.1,967.8 184.2,967.6 185.3,967.5 186.4,967.4 187.5,967.2 188.5,967.1 189.6,967.0 190.7,966.8 191.8,966.7 192.9,966.6 194.0,966.4 195.1,966.3 196.2,966.2 197.3,966.0 198.4,965.9 199.4,965.7 200.5,965.6 201.6,965.5 202.7,965.3 203.8,965.2 204.8,965.0 205.9,964.8 207.0,964.7 208.1,964.5 209.1,964.3 210.2,964.1 211.3,963.8 212.4,963.6 213.4,963.4 214.5,963.1 215.6,962.8 216.6,962.5 217.7,962.3 218.8,962.0 219.8,961.6 220.9,961.3 222.0,961.0 223.0,960.7 224.1,960.3 225.1,959.9 226.2,959.6 227.2,959.2 228.3,958.8 229.3,958.4 230.4,958.0 231.4,957.6 232.5,957.2 233.5,956.8 234.5,956.4 235.6,955.9 236.6,955.5 237.6,955.0 238.7,954.6 239.7,954.1 240.7,953.7 241.7,953.2 242.7,952.7 243.7,952.2 244.7,951.7 245.7,951.2 246.6,950.7 247.6,950.1 248.5,949.5 249.3,948.9 250.2,948.2 251.0,947.6 251.8,946.8 252.6,946.1 253.3,945.3 254.0,944.5 254.7,943.6 255.3,942.8 255.9,941.9 256.5,940.9 257.1,940.0 257.6,939.1 258.1,938.1 258.6,937.1 259.1,936.1 259.6,935.1 260.0,934.1 260.4,933.1 260.8,932.1 261.2,931.1 261.6,930.1 262.0,929.0 262.3,928.0 262.7,926.9 263.0,925.9 263.3,924.8 263.6,923.8 263.9,922.7 264.1,921.6 264.4,920.6 264.7,919.5 264.9,918.4 265.1,917.3 265.4,916.3 265.6,915.2 265.8,914.1 266.0,913.0 266.2,911.9 266.4,910.8 266.5,909.7 266.7,908.6 266.9,907.5 267.0,906.4 267.2,905.3 267.3,904.2 267.5,903.1 267.6,902.0 267.8,900.8 267.9,899.7 268.1,898.6 268.2,897.5 268.3,896.4 268.5,895.3 268.6,894.2 268.8,893.1 268.9,892.0 269.0,890.9 269.2,889.8 269.3,888.7 269.5,887.6 269.6,886.5 269.7,885.3 269.9,884.2 270.0,883.1 270.2,882.0 270.3,880.9 270.4,879.8 270.6,878.7 270.7,877.6 270.9,876.5 271.0,875.5 271.1,874.4 271.3,873.3 271.4,872.2 271.6,871.1 271.7,870.0 271.8,868.9 272.0,867.8 272.1,866.7 272.3,865.6 272.4,864.5 272.6,863.4 272.7,862.3 272.8,861.2 273.0,860.1 273.1,859.0 273.3,857.9 273.4,856.9 273.5,855.8 273.7,854.7 273.8,853.6 274.0,852.5 274.1,851.4 274.2,850.3 274.4,849.2 274.5,848.1 274.6,847.0 274.8,845.9 274.9,844.9 275.1,843.8 275.2,842.7 275.3,841.6 275.5,840.5 275.6,839.4 275.7,838.3 275.9,837.2 276.0,836.1 276.1,835.0 276.3,834.0 276.4,832.9 276.5,831.8 276.7,830.7 276.8,829.6 276.9,828.5 277.1,827.4 277.2,826.3 277.3,825.2 277.5,824.1 277.6,823.0 277.7,821.9 277.8,820.9 278.0,819.8 278.1,818.7 278.2,817.6 278.3,816.5 278.5,815.4 278.6,814.3 278.7,813.2 278.8,812.1 278.9,811.0 279.1,809.9 279.2,808.8 279.3,807.7 279.4,806.6 279.5,805.5 279.7,804.4 279.8,803.3 279.9,802.2 280.0,801.1 280.1,800.0 280.2,798.9 280.3,797.8 280.4,796.7 280.6,795.6 280.7,794.5 280.8,793.4 280.9,792.3 281.0,791.2 281.1,790.1 281.2,788.9 281.3,787.8 281.4,786.7 281.5,785.6 281.6,784.5 281.7,783.4 281.8,782.3 281.9,781.2 282.0,780.0 282.1,778.9" stroke="#66c2a5"/>
<path d="M42.5,930.9 43.5,931.3 44.6,931.6 45.6,932.0 46.6,932.3 47.7,932.7 48.7,933.0 49.8,933.3 50.8,933.7 51.9,934.0 53.0,934.3 54.0,934.7 55.1,935.0 56.2,935.3 57.3,935.6 58.3,935.9 59.4,936.3 60.5,936.6 61.6,936.9 62.7,937.2 63.7,937.5 64.8,937.8 65.9,938.0 67.0,938.3 68.0,938.6 69.1,938.9 70.2,939.1 71.2,939.4 72.3,939.7 73.4,940.0 74.4,940.2 75.5,940.5 76.6,940.7 77.6,941.0 78.7,941.2 79.8,941.5 80.8,941.7 81.9,942.0 82.9,942.2 84.0,942.5 85.1,942.7 86.1,943.0 87.2,943.2 88.2,943.5 89.3,943.7 90.4,943.9 91.4,944.2 92.5,944.4 93.6,944.7 94.6,944.9 95.7,945.2 96.8,945.4 97.8,945.6 98.9,945.9 100.0,946.1 101.0,946.4 102.1,946.6 103.2,946.9 104.3,947.1 105.3,947.4 106.4,947.7 107.5,947.9 108.6,948.2 109.7,948.4 110.7,948.7 111.8,949.0 112.9,949.2 114.0,949.5 115.1,949.8 116.2,950.0 117.3,950.3 118.4,950.5 119.4,950.8 120.5,951.1 121.6,951.3 122.7,951.6 123.8,951.8 124.9,952.0 126.0,952.3 127.1,952.5 128.2,952.8 129.3,953.0 130.4,953.2 131.5,953.4 132.6,953.6 133.7,953.8 134.8,954.1 135.9,954.2 137.0,954.4 138.1,954.6 139.2,954.8 140.3,955.0 141.4,955.1 142.5,955.3 143.6,955.4 144.7,955.6 145.8,955.7 146.9,955.8 148.0,955.9 149.1,956.0 150.2,956.1 151.3,956.2 152.4,956.3 153.5,956.3 154.6,956.4 155.7,956.4 156.8,956.4 157.9,956.4 158.9,956.4 160.0,956.4 161.1,956.4 162.2,956.4 163.3,956.3 164.4,956.2 165.5,956.2 166.6,956.1 167.6,956.0 168.7,955.8 169.8,955.7 170.9,955.5 172.0,955.4 173.0,955.2 174.1,955.0 175.2,954.8 176.3,954.6 177.3,954.4 178.4,954.1 179.5,953.9 180.5,953.6 181.6,953.3 182.7,953.1 183.7,952.8 184.8,952.5 185.9,952.2 187.0,951.9 188.0,951.7 189.1,951.4 190.2,951.1 191.2,950.8 192.3,950.5 193.4,950.2 194.5,949.9 195.5,949.6 196.6,949.3 197.7,949.0 198.8,948.7 199.8,948.5 200.9,948.2 202.0,947.9 203.1,947.7 204.2,947.4 205.3,947.2 206.4,947.0 207.4,946.8 208.5,946.6 209.6,946.4 210.7,946.2 211.8,946.0 212.9,945.9 214.1,945.8 215.2,945.7 216.3,945.6 217.4,945.5 218.5,945.4 219.6,945.4 220.8,945.4 221.9,945.4 223.0,945.4 224.2,945.4 225.3,945.5 226.4,945.5 227.6,945.6 228.7,945.7 229.8,945.7 231.0,945.8 232.1,945.8 233.2,945.9 234.3,945.9 235.4,945.8 236.5,945.8 237.5,945.7 238.6,945.6 239.6,945.5 240.6,945.3 241.7,945.0 242.6,944.8 243.6,944.4 244.6,944.0 245.5,943.6 246.4,943.1 247.3,942.6 248.1,942.0 248.9,941.4 249.8,940.7 250.6,940.0 251.3,939.2 252.1,938.5 252.8,937.6 253.5,936.8 254.2,936.0 254.9,935.1 255.6,934.2 256.3,933.3 256.9,932.3 257.5,931.4 258.2,930.4 258.8,929.5 259.4,928.5 260.0,927.6 260.6,926.6 261.2,925.7 261.8,924.7 262.4,923.8 263.0,922.8 263.6,921.9 264.2,920.9 264.8,920.0 265.5,919.1 266.1,918.2 266.8,917.3 267.4,916.4 268.1,915.6 268.9,914.7 269.6,913.9 270.4,913.1 271.1,912.4 272.0,911.6 272.8,910.9 273.6,910.1 274.5,909.4 275.4,908.7 276.3,908.1 277.1,907.4 278.0,906.7 278.9,906.0 279.8,905.3 280.7,904.7 281.5,904.0 282.4,903.3 283.2,902.6 284.0,901.8 284.8,901.1 285.6,900.3 286.3,899.5 287.0,898.7 287.6,897.9 288.3,897.0 288.9,896.1 289.4,895.2 290.0,894.3 290.5,893.3 291.0,892.4 291.5,891.4 291.9,890.4 292.4,889.4 292.8,888.4 293.2,887.4 293.6,886.4 294.0,885.3 294.3,884.3 294.7,883.3 295.1,882.2 295.4,881.2 295.8,880.1 296.1,879.1 296.5,878.0 296.8,877.0 297.1,875.9 297.5,874.9 297.8,873.8 298.1,872.7 298.4,871.7 298.7,870.6 299.0,869.6 299.3,868.5 299.6,867.4 299.9,866.4 300.2,865.3 300.5,864.2 300.8,863.2 301.0,862.1 301.3,861.0 301.6,859.9 301.8,858.9 302.1,857.8 302.3,856.7 302.6,855.6 302.8,854.5 303.1,853.5 303.3,852.4 303.5,851.3 303.8,850.2 304.0,849.1 304.2,848.0 304.4,847.0 304.6,845.9 304.8,844.8 305.1,843.7 305.3,842.6 305.5,841.5 305.7,840.4 305.8,839.3 306.0,838.2 306.2,837.1 306.4,836.0 306.6,834.9 306.8,833.9 307.0,832.8 307.1,831.7 307.3,830.6 307.5,829.5 307.6,828.4 307.8,827.3 308.0,826.2 308.1,825.1 308.3,824.0 308.4,822.9 308.6,821.8 308.7,820.7 308.9,819.6 309.0,818.5 309.2,817.4 309.3,816.3 309.5,815.2 309.6,814.1 309.7,813.0 309.9,811.9 310.0,810.8 310.1,809.7 310.3,808.6 310.4,807.5 310.5,806.4 310.6,805.3 310.8,804.2 310.9,803.1 311.0,802.0 311.1,800.9 311.2,799.8 311.4,798.7 311.5,797.6 311.6,796.5 311.7,795.4 311.8,794.3 311.9,793.2 312.1,792.1 312.2,791.0 312.3,790.0 312.4,788.9 312.5,787.8 312.6,786.7 312.7,785.6 312.8,784.5 312.9,783.4 313.0,782.3 313.2,781.2 313.3,780.2 313.4,779.1" stroke="#fc8d62"/>
<path d="M42.5,950.0 43.6,950.1 44.7,950.2 45.8,950.3 46.9,950.5 48.0,950.6 49.0,950.8 50.1,950.9 51.2,951.1 52.3,951.2 53.4,951.4 54.5,951.5 55.6,951.7 56.7,951.9 57.8,952.1 58.9,952.2 59.9,952.4 61.0,952.6 62.1,952.8 63.2,953.0 64.3,953.2 65.4,953.4 66.5,953.6 67.6,953.8 68.6,954.0 69.7,954.2 70.8,954.5 71.9,954.7 73.0,954.9 74.1,955.1 75.2,955.3 76.3,955.6 77.3,955.8 78.4,956.0 79.5,956.2 80.6,956.5 81.7,956.7 82.8,956.9 83.9,957.2 85.0,957.4 86.0,957.6 87.1,957.9 88.2,958.1 89.3,958.3 90.4,958.6 91.5,958.8 92.6,959.0 93.7,959.3 94.7,959.5 95.8,959.7 96.9,959.9 98.0,960.2 99.1,960.4 100.2,960.6 101.3,960.8 102.4,961.1 103.4,961.3 104.5,961.5 105.6,961.7 106.7,961.9 107.8,962.1 108.9,962.4 110.0,962.6 111.1,962.8 112.2,963.0 113.3,963.2 114.3,963.4 115.4,963.5 116.5,963.7 117.6,963.9 118.7,964.1 119.8,964.3 120.9,964.4 122.0,964.6 123.1,964.8 124.2,964.9 125.3,965.1 126.3,965.2 127.4,965.4 128.5,965.5 129.6,965.7 130.7,965.8 131.8,965.9 132.9,966.0 134.0,966.1 135.1,966.2 136.2,966.3 137.3,966.4 138.4,966.5 139.5,966.6 140.6,966.7 141.7,966.8 142.8,966.8 143.9,966.9 145.0,966.9 146.1,967.0 147.2,967.0 148.3,967.1 149.4,967.1 150.5,967.1 151.6,967.1 152.7,967.1 153.8,967.1 154.9,967.2 156.0,967.2 157.1,967.1 158.2,967.1 159.3,967.1 160.4,967.1 161.5,967.1 162.6,967.1 163.7,967.1 164.8,967.0 165.9,967.0 167.0,967.0 168.1,967.0 169.2,966.9 170.3,966.9 171.4,966.9 172.5,966.8 173.7,966.8 174.8,966.8 175.9,966.7 177.0,966.7 178.1,966.7 179.2,966.6 180.3,966.6 181.4,966.6 182.5,966.5 183.6,966.5 184.8,966.5 185.9,966.4 187.0,966.4 188.1,966.4 189.2,966.4 190.3,966.3 191.4,966.3 192.5,966.3 193.7,966.3 194.8,966.3 195.9,966.3 197.0,966.3 198.1,966.3 199.2,966.3 200.3,966.3 201.5,966.3 202.6,966.3 203.7,966.3 204.8,966.3 205.9,966.3 207.0,966.3 208.1,966.3 209.2,966.3 210.3,966.2 211.4,966.2 212.5,966.1 213.6,966.1 214.7,966.0 215.8,965.9 216.9,965.8 218.0,965.7 219.1,965.5 220.2,965.4 221.2,965.2 222.3,965.0 223.4,964.8 224.4,964.5 225.5,964.3 226.5,964.0 227.6,963.7 228.6,963.4 229.7,963.0 230.7,962.6 231.7,962.2 232.7,961.8 233.8,961.3 234.8,960.9 235.8,960.4 236.8,959.9 237.8,959.4 238.7,958.9 239.7,958.3 240.7,957.7 241.6,957.2 242.6,956.6 243.5,956.0 244.5,955.3 245.4,954.7 246.3,954.1 247.2,953.4 248.2,952.7 249.1,952.0 249.9,951.4 250.8,950.7 251.7,950.0 252.6,949.2 253.4,948.5 254.3,947.8 255.1,947.1 255.9,946.4 256.8,945.6 257.6,944.9 258.5,944.2 259.3,943.5 260.1,942.8 261.0,942.1 261.9,941.4 262.7,940.8 263.6,940.1 264.5,939.5 265.4,938.9 266.3,938.3 267.3,937.7 268.2,937.2 269.2,936.6 270.1,936.1 271.1,935.6 272.1,935.1 273.1,934.6 274.1,934.1 275.1,933.7 276.1,933.2 277.1,932.8 278.2,932.4 279.2,932.0 280.3,931.6 281.3,931.2 282.4,930.9 283.5,930.5 284.6,930.1 285.6,929.8 286.7,929.5 287.8,929.2 288.9,928.9 290.0,928.5 291.1,928.2 292.2,927.9 293.2,927.5 294.3,927.1 295.2,926.7 296.2,926.2 297.1,925.7 298.0,925.1 298.8,924.5 299.6,923.9 300.3,923.1 301.0,922.4 301.7,921.6 302.3,920.8 302.9,920.0 303.5,919.1 304.0,918.2 304.5,917.2 305.0,916.2 305.4,915.2 305.8,914.2 306.2,913.2 306.6,912.1 306.9,911.1 307.2,910.0 307.6,908.9 307.8,907.8 308.1,906.7 308.4,905.5 308.6,904.4 308.8,903.3 309.0,902.1 309.2,901.0 309.4,899.9 309.6,898.8 309.8,897.7 309.9,896.5 310.1,895.4 310.3,894.3 310.4,893.2 310.6,892.1 310.7,891.0 310.9,889.9 311.1,888.8 311.2,887.8 311.4,886.7 311.6,885.6 311.8,884.5 312.0,883.4 312.3,882.4 312.5,881.3 312.8,880.2 313.0,879.2 313.3,878.1" stroke="#8da0cb"/>
</g>
<line x1="43.80" y1="785.90" x2="43.80" y2="981.70" stroke="#262626" stroke-width="0.84"/>
<line x1="43.40" y1="981.60" x2="326.90" y2="981.60" stroke="#262626" stroke-width="0.95"/>
<line x1="40.14" y1="981.50" x2="43.80" y2="981.50" stroke="#262626" stroke-width="0.9"/>
<text x="13.41 20.02 23.57 30.34" y="985.25" font-size="11.02">0.00</text>
<line x1="40.14" y1="955.50" x2="43.80" y2="955.50" stroke="#262626" stroke-width="0.9"/>
<text x="13.41 20.02 23.57 30.34" y="959.20" font-size="11.02">0.02</text>
<line x1="40.14" y1="929.50" x2="43.80" y2="929.50" stroke="#262626" stroke-width="0.9"/>
<text x="13.41 20.02 23.57 30.34" y="933.14" font-size="11.02">0.04</text>
<line x1="40.14" y1="903.50" x2="43.80" y2="903.50" stroke="#262626" stroke-width="0.9"/>
<text x="13.41 20.02 23.57 30.34" y="907.09" font-size="11.02">0.06</text>
<line x1="40.14" y1="877.50" x2="43.80" y2="877.50" stroke="#262626" stroke-width="0.9"/>
<text x="13.41 20.02 23.57 30.34" y="881.04" font-size="11.02">0.08</text>
<line x1="40.14" y1="851.50" x2="43.80" y2="851.50" stroke="#262626" stroke-width="0.9"/>
<text x="13.41 20.02 23.57 30.34" y="854.98" font-size="11.02">0.10</text>
<line x1="40.14" y1="824.50" x2="43.80" y2="824.50" stroke="#262626" stroke-width="0.9"/>
<text x="13.41 20.02 23.57 30.34" y="828.93" font-size="11.02">0.12</text>
<line x1="40.14" y1="798.50" x2="43.80" y2="798.50" stroke="#262626" stroke-width="0.9"/>
<text x="13.41 20.02 23.57 30.34" y="802.88" font-size="11.02">0.14</text>
<line x1="43.50" y1="981.30" x2="43.50" y2="983.40" stroke="#262626" stroke-width="0.75"/>
<line x1="48.50" y1="981.30" x2="48.50" y2="983.40" stroke="#262626" stroke-width="0.75"/>
<line x1="53.50" y1="981.30" x2="53.50" y2="983.40" stroke="#262626" stroke-width="0.75"/>
<line x1="57.50" y1="981.30" x2="57.50" y2="983.40" stroke="#262626" stroke-width="0.75"/>
<line x1="60.50" y1="981.30" x2="60.50" y2="983.40" stroke="#262626" stroke-width="0.75"/>
<line x1="63.50" y1="981.30" x2="63.50" y2="984.96" stroke="#262626" stroke-width="0.9"/>
<line x1="83.50" y1="981.30" x2="83.50" y2="983.40" stroke="#262626" stroke-width="0.75"/>
<line x1="94.50" y1="981.30" x2="94.50" y2="983.40" stroke="#262626" stroke-width="0.75"/>
<line x1="102.50" y1="981.30" x2="102.50" y2="983.40" stroke="#262626" stroke-width="0.75"/>
<line x1="109.50" y1="981.30" x2="109.50" y2="983.40" stroke="#262626" stroke-width="0.75"/>
<line x1="114.50" y1="981.30" x2="114.50" y2="983.40" stroke="#262626" stroke-width="0.75"/>
<line x1="118.50" y1="981.30" x2="118.50" y2="983.40" stroke="#262626" stroke-width="0.75"/>
<line x1="122.50" y1="981.30" x2="122.50" y2="983.40" stroke="#262626" stroke-width="0.75"/>
<line x1="125.50" y1="981.30" x2="125.50" y2="983.40" stroke="#262626" stroke-width="0.75"/>
<line x1="128.50" y1="981.30" x2="128.50" y2="984.96" stroke="#262626" stroke-width="0.9"/>
<line x1="148.50" y1="981.30" x2="148.50" y2="983.40" stroke="#262626" stroke-width="0.75"/>
<line x1="159.50" y1="981.30" x2="159.50" y2="983.40" stroke="#262626" stroke-width="0.75"/>
<line x1="168.50" y1="981.30" x2="168.50" y2="983.40" stroke="#262626" stroke-width="0.75"/>
<line x1="174.50" y1="981.30" x2="174.50" y2="983.40" stroke="#262626" stroke-width="0.75"/>
<line x1="179.50" y1="981.30" x2="179.50" y2="983.40" stroke="#262626" stroke-width="0.75"/>
<line x1="183.50" y1="981.30" x2="183.50" y2="983.40" stroke="#262626" stroke-width="0.75"/>
<line x1="187.50" y1="981.30" x2="187.50" y2="983.40" stroke="#262626" stroke-width="0.75"/>
<line x1="191.50" y1="981.30" x2="191.50" y2="983.40" stroke="#262626" stroke-width="0.75"/>
<line x1="194.50" y1="981.30" x2="194.50" y2="984.96" stroke="#262626" stroke-width="0.9"/>
<line x1="213.50" y1="981.30" x2="213.50" y2="983.40" stroke="#262626" stroke-width="0.75"/>
<line x1="225.50" y1="981.30" x2="225.50" y2="983.40" stroke="#262626" stroke-width="0.75"/>
<line x1="233.50" y1="981.30" x2="233.50" y2="983.40" stroke="#262626" stroke-width="0.75"/>
<line x1="239.50" y1="981.30" x2="239.50" y2="983.40" stroke="#262626" stroke-width="0.75"/>
<line x1="244.50" y1="981.30" x2="244.50" y2="983.40" stroke="#262626" stroke-width="0.75"/>
<line x1="249.50" y1="981.30" x2="249.50" y2="983.40" stroke="#262626" stroke-width="0.75"/>
<line x1="253.50" y1="981.30" x2="253.50" y2="983.40" stroke="#262626" stroke-width="0.75"/>
<line x1="256.50" y1="981.30" x2="256.50" y2="983.40" stroke="#262626" stroke-width="0.75"/>
<line x1="259.50" y1="981.30" x2="259.50" y2="984.96" stroke="#262626" stroke-width="0.9"/>
<line x1="279.50" y1="981.30" x2="279.50" y2="983.40" stroke="#262626" stroke-width="0.75"/>
<line x1="290.50" y1="981.30" x2="290.50" y2="983.40" stroke="#262626" stroke-width="0.75"/>
<line x1="298.50" y1="981.30" x2="298.50" y2="983.40" stroke="#262626" stroke-width="0.75"/>
<line x1="305.50" y1="981.30" x2="305.50" y2="983.40" stroke="#262626" stroke-width="0.75"/>
<line x1="310.50" y1="981.30" x2="310.50" y2="983.40" stroke="#262626" stroke-width="0.75"/>
<line x1="314.50" y1="981.30" x2="314.50" y2="983.40" stroke="#262626" stroke-width="0.75"/>
<line x1="318.50" y1="981.30" x2="318.50" y2="983.40" stroke="#262626" stroke-width="0.75"/>
<line x1="321.50" y1="981.30" x2="321.50" y2="983.40" stroke="#262626" stroke-width="0.75"/>
<line x1="324.50" y1="981.30" x2="324.50" y2="984.96" stroke="#262626" stroke-width="0.9"/>
<text x="52.11 59.22" y="996.45" font-size="11.57">10</text>
<text x="65.91 72.00" y="992.50" font-size="8.38">−4</text>
<text x="117.42 124.53" y="996.45" font-size="11.57">10</text>
<text x="131.22 137.31" y="992.50" font-size="8.38">−3</text>
<text x="182.73 189.84" y="996.45" font-size="11.57">10</text>
<text x="196.53 202.62" y="992.50" font-size="8.38">−2</text>
<text x="248.04 255.15" y="996.45" font-size="11.57">10</text>
<text x="261.84 267.93" y="992.50" font-size="8.38">−1</text>
<text x="316.75 323.86" y="996.45" font-size="11.57">10</text>
<text x="330.26" y="992.50" font-size="8.38">0</text>
<text x="182.39" y="1010.30" font-size="11.02">x</text>
<g transform="translate(8.00,884.10) rotate(-90)"><text x="-77.55 -70.53 -66.90 -59.14 -52.37 -48.50 -45.60 -39.12 -35.34 -31.53 -25.04 -21.81 -13.85 -6.35 0.66 8.44 15.19 21.80 25.35 31.96 35.43 39.35 47.31 55.18 60.92 69.46 73.61" y="0.00" font-size="11.02">σ(Ratio to NNPDF4.0 (NNLO))</text></g>
<text x="143.18 150.19 154.30 162.56 167.10 171.35 179.48 187.62 195.55 199.23 209.58 217.15" y="779.90" font-size="13.23">c at 100 GeV</text>
<rect x="49.20" y="791.50" width="132" height="49.8" rx="2.1" fill="#fff" fill-opacity="0.8" stroke="#d0d0d0" stroke-width="0.84"/>
<line x1="52.70" y1="800.10" x2="75.10" y2="800.10" stroke="#66c2a5" stroke-width="1.57"/>
<text x="82.90 90.87 98.37 105.38 113.15 119.91 126.52 130.07 136.68 140.15 144.06 152.03 159.89 165.64 174.17" y="803.98" font-size="11.02">NNPDF4.0 (NNLO)</text>
<line x1="52.70" y1="815.55" x2="75.10" y2="815.55" stroke="#fc8d62" stroke-width="1.57"/>
<text x="82.64 90.22 97.16 103.94 110.56 114.02 117.94 125.90 133.77 139.52 148.05" y="819.43" font-size="11.02">CT18 (NNLO)</text>
<line x1="52.70" y1="831.00" x2="75.10" y2="831.00" stroke="#8da0cb" stroke-width="1.57"/>
<text x="82.90 91.79 98.87 106.74 113.69 120.46 127.08 130.54 134.46 142.42 150.29 156.04 164.57" y="834.88" font-size="11.02">MSHT20 (NNLO)</text>
<line x1="416.50" y1="785.90" x2="416.50" y2="981.30" stroke="#f4f4f4" stroke-width="1"/>
<line x1="481.50" y1="785.90" x2="481.50" y2="981.30" stroke="#f4f4f4" stroke-width="1"/>
<line x1="546.50" y1="785.90" x2="546.50" y2="981.30" stroke="#f4f4f4" stroke-width="1"/>
<line x1="612.50" y1="785.90" x2="612.50" y2="981.30" stroke="#f4f4f4" stroke-width="1"/>
<line x1="677.50" y1="785.90" x2="677.50" y2="981.30" stroke="#f4f4f4" stroke-width="1"/>
<line x1="396.40" y1="955.50" x2="679.50" y2="955.50" stroke="#f4f4f4" stroke-width="1"/>
<line x1="396.40" y1="929.50" x2="679.50" y2="929.50" stroke="#f4f4f4" stroke-width="1"/>
<line x1="396.40" y1="903.50" x2="679.50" y2="903.50" stroke="#f4f4f4" stroke-width="1"/>
<line x1="396.40" y1="877.50" x2="679.50" y2="877.50" stroke="#f4f4f4" stroke-width="1"/>
<line x1="396.40" y1="851.50" x2="679.50" y2="851.50" stroke="#f4f4f4" stroke-width="1"/>
<line x1="396.40" y1="824.50" x2="679.50" y2="824.50" stroke="#f4f4f4" stroke-width="1"/>
<line x1="396.40" y1="798.50" x2="679.50" y2="798.50" stroke="#f4f4f4" stroke-width="1"/>
<g clip-path="url(#cp31)" fill="none" stroke-width="1.57" stroke-linejoin="round">
<path d="M395.5,963.7 396.6,963.9 397.7,964.0 398.8,964.2 399.9,964.4 401.0,964.5 402.1,964.7 403.1,964.8 404.2,965.0 405.3,965.1 406.4,965.3 407.5,965.5 408.6,965.6 409.7,965.8 410.8,965.9 411.9,966.1 413.0,966.3 414.1,966.4 415.2,966.6 416.3,966.7 417.3,966.9 418.4,967.1 419.5,967.2 420.6,967.4 421.7,967.6 422.8,967.7 423.9,967.9 425.0,968.1 426.1,968.3 427.2,968.4 428.3,968.6 429.3,968.8 430.4,968.9 431.5,969.1 432.6,969.3 433.7,969.5 434.8,969.6 435.9,969.8 437.0,970.0 438.1,970.1 439.2,970.3 440.3,970.5 441.4,970.7 442.4,970.8 443.5,971.0 444.6,971.2 445.7,971.4 446.8,971.5 447.9,971.7 449.0,971.9 450.1,972.0 451.2,972.2 452.3,972.3 453.4,972.5 454.5,972.6 455.6,972.8 456.7,972.9 457.7,973.1 458.8,973.2 459.9,973.3 461.0,973.5 462.1,973.6 463.2,973.7 464.3,973.8 465.4,973.9 466.5,974.0 467.6,974.1 468.7,974.2 469.8,974.2 470.9,974.3 472.0,974.4 473.1,974.4 474.2,974.5 475.3,974.5 476.4,974.6 477.5,974.6 478.6,974.6 479.7,974.6 480.9,974.6 482.0,974.6 483.1,974.6 484.2,974.6 485.3,974.5 486.4,974.5 487.5,974.5 488.6,974.4 489.7,974.4 490.8,974.3 491.9,974.3 493.0,974.3 494.1,974.2 495.3,974.2 496.4,974.1 497.5,974.1 498.6,974.0 499.7,974.0 500.8,974.0 501.9,973.9 503.0,973.9 504.1,973.9 505.2,973.8 506.3,973.8 507.4,973.8 508.5,973.8 509.6,973.8 510.7,973.7 511.8,973.7 512.9,973.7 514.0,973.7 515.1,973.7 516.2,973.7 517.3,973.7 518.4,973.7 519.5,973.7 520.6,973.7 521.7,973.7 522.8,973.7 523.9,973.7 525.0,973.7 526.1,973.8 527.2,973.8 528.3,973.8 529.4,973.8 530.5,973.8 531.6,973.9 532.7,973.9 533.8,973.9 534.9,974.0 536.0,974.0 537.1,974.0 538.2,974.1 539.3,974.1 540.4,974.2 541.5,974.2 542.6,974.2 543.7,974.3 544.8,974.3 545.9,974.4 547.0,974.4 548.1,974.5 549.2,974.6 550.3,974.6 551.4,974.7 552.5,974.7 553.6,974.8 554.7,974.9 555.8,974.9 557.0,975.0 558.1,975.1 559.2,975.2 560.3,975.2 561.4,975.3 562.5,975.4 563.6,975.5 564.7,975.5 565.8,975.6 566.9,975.7 568.0,975.8 569.2,975.8 570.3,975.9 571.4,976.0 572.5,976.0 573.6,976.1 574.7,976.1 575.8,976.2 576.9,976.2 578.0,976.2 579.1,976.3 580.2,976.3 581.3,976.3 582.4,976.3 583.6,976.3 584.7,976.3 585.8,976.3 586.9,976.3 588.0,976.3 589.1,976.2 590.2,976.2 591.3,976.1 592.4,976.0 593.4,976.0 594.5,975.9 595.6,975.8 596.7,975.6 597.8,975.5 598.9,975.4 600.0,975.2 601.1,975.0 602.1,974.9 603.2,974.7 604.3,974.5 605.4,974.2 606.5,974.0 607.5,973.7 608.6,973.4 609.7,973.1 610.7,972.8 611.8,972.5 612.8,972.1 613.9,971.8 614.9,971.4 616.0,971.0 617.0,970.6 618.1,970.1 619.1,969.6 620.1,969.2 621.1,968.7 622.1,968.1 623.1,967.6 624.0,967.0 625.0,966.5 625.9,965.9 626.9,965.3 627.8,964.6 628.6,964.0 629.5,963.3 630.4,962.6 631.2,961.9 632.0,961.1 632.8,960.4 633.6,959.6 634.3,958.8 635.0,957.9 635.7,957.1 636.4,956.2 637.0,955.3 637.6,954.4 638.2,953.5 638.8,952.6 639.3,951.7 639.9,950.7 640.4,949.7 640.9,948.7 641.3,947.7 641.8,946.7 642.2,945.7 642.6,944.7 643.0,943.7 643.3,942.7 643.7,941.6 644.0,940.6 644.4,939.5 644.7,938.5 644.9,937.4 645.2,936.3 645.5,935.3 645.7,934.2 646.0,933.1 646.2,932.0 646.4,930.9 646.6,929.9 646.8,928.8 647.0,927.7 647.1,926.6 647.3,925.5 647.4,924.4 647.6,923.2 647.7,922.1 647.8,921.0 648.0,919.9 648.1,918.8 648.2,917.7 648.3,916.6 648.4,915.4 648.5,914.3 648.6,913.2 648.7,912.1 648.8,911.0 648.9,909.9 649.0,908.7 649.1,907.6 649.2,906.5 649.3,905.4 649.4,904.3 649.5,903.2 649.6,902.1 649.7,901.0 649.8,899.9 650.0,898.8 650.1,897.7 650.2,896.6 650.3,895.5 650.4,894.4 650.6,893.3 650.7,892.2 650.8,891.1 651.0,890.0 651.1,888.9 651.2,887.9 651.4,886.8 651.5,885.7 651.6,884.6 651.7,883.5 651.9,882.4 652.0,881.3 652.1,880.2 652.3,879.1 652.4,878.1 652.5,877.0 652.6,875.9 652.7,874.8 652.9,873.7 653.0,872.6 653.1,871.5 653.2,870.4 653.3,869.3 653.4,868.2 653.5,867.1 653.7,866.0 653.8,864.9 653.9,863.8 654.0,862.7 654.1,861.6 654.2,860.5 654.3,859.4 654.4,858.3 654.5,857.2 654.6,856.1 654.7,855.0 654.8,853.9 654.9,852.8 655.0,851.7 655.1,850.6 655.2,849.5 655.3,848.4 655.4,847.3 655.4,846.2 655.5,845.1 655.6,844.0 655.7,842.9 655.8,841.8 655.9,840.7 656.0,839.6 656.1,838.5 656.1,837.4 656.2,836.3 656.3,835.2 656.4,834.1 656.5,833.0 656.6,831.9 656.6,830.8 656.7,829.7 656.8,828.6 656.9,827.5 657.0,826.4 657.0,825.3 657.1,824.2 657.2,823.1 657.3,822.0 657.3,820.8 657.4,819.7 657.5,818.6 657.5,817.5 657.6,816.4 657.7,815.3 657.8,814.2 657.8,813.1 657.9,812.0 658.0,810.9 658.0,809.8 658.1,808.7 658.2,807.6 658.3,806.5 658.3,805.4 658.4,804.3 658.5,803.2 658.5,802.1 658.6,801.0 658.7,799.9 658.7,798.8 658.8,797.7 658.9,796.6 658.9,795.5 659.0,794.4 659.1,793.3 659.1,792.2 659.2,791.1 659.3,790.0 659.3,788.9 659.4,787.8 659.5,786.7 659.5,785.6 659.6,784.5 659.7,783.4 659.7,782.3 659.8,781.2 659.8,780.1 659.9,779.0" stroke="#66c2a5"/>
<path d="M395.5,940.1 396.6,940.5 397.6,940.8 398.7,941.1 399.8,941.5 400.8,941.8 401.9,942.1 402.9,942.4 404.0,942.7 405.1,943.0 406.1,943.3 407.2,943.6 408.3,943.9 409.3,944.2 410.4,944.5 411.5,944.8 412.5,945.1 413.6,945.3 414.7,945.6 415.7,945.9 416.8,946.2 417.9,946.4 419.0,946.7 420.0,946.9 421.1,947.2 422.2,947.5 423.2,947.7 424.3,948.0 425.4,948.2 426.5,948.5 427.5,948.7 428.6,949.0 429.7,949.2 430.8,949.5 431.8,949.7 432.9,950.0 434.0,950.2 435.1,950.5 436.1,950.7 437.2,951.0 438.3,951.3 439.4,951.5 440.4,951.8 441.5,952.0 442.6,952.3 443.7,952.5 444.7,952.8 445.8,953.1 446.9,953.3 448.0,953.6 449.0,953.8 450.1,954.1 451.2,954.4 452.3,954.6 453.4,954.9 454.4,955.1 455.5,955.4 456.6,955.6 457.7,955.9 458.7,956.2 459.8,956.4 460.9,956.6 462.0,956.9 463.1,957.1 464.2,957.4 465.2,957.6 466.3,957.9 467.4,958.1 468.5,958.3 469.6,958.6 470.6,958.8 471.7,959.0 472.8,959.2 473.9,959.4 475.0,959.6 476.1,959.9 477.2,960.1 478.2,960.3 479.3,960.5 480.4,960.6 481.5,960.8 482.6,961.0 483.7,961.2 484.8,961.4 485.9,961.5 487.0,961.7 488.1,961.9 489.2,962.0 490.2,962.2 491.3,962.3 492.4,962.4 493.5,962.6 494.6,962.7 495.7,962.8 496.8,962.9 497.9,963.0 499.0,963.1 500.1,963.2 501.2,963.3 502.3,963.3 503.4,963.4 504.5,963.5 505.6,963.5 506.7,963.6 507.8,963.6 508.9,963.7 510.0,963.7 511.2,963.7 512.3,963.8 513.4,963.8 514.5,963.8 515.6,963.8 516.7,963.8 517.8,963.8 518.9,963.8 520.0,963.8 521.1,963.7 522.2,963.7 523.3,963.7 524.4,963.6 525.5,963.6 526.6,963.6 527.8,963.5 528.9,963.4 530.0,963.4 531.1,963.3 532.2,963.3 533.3,963.2 534.4,963.1 535.5,963.0 536.6,963.0 537.7,962.9 538.8,962.8 539.9,962.7 541.0,962.6 542.1,962.5 543.2,962.4 544.3,962.3 545.4,962.2 546.5,962.0 547.6,961.9 548.7,961.8 549.8,961.7 550.9,961.6 552.0,961.4 553.1,961.3 554.2,961.2 555.3,961.1 556.4,960.9 557.5,960.8 558.6,960.7 559.6,960.6 560.7,960.5 561.8,960.3 562.9,960.2 564.0,960.1 565.1,960.0 566.2,960.0 567.3,959.9 568.4,959.8 569.5,959.7 570.6,959.7 571.7,959.7 572.8,959.6 573.9,959.6 575.1,959.6 576.2,959.6 577.3,959.6 578.4,959.7 579.5,959.7 580.6,959.8 581.8,959.8 582.9,959.9 584.0,960.0 585.1,960.1 586.3,960.2 587.4,960.3 588.5,960.4 589.6,960.4 590.7,960.5 591.8,960.4 592.9,960.4 594.0,960.3 595.1,960.1 596.1,959.9 597.2,959.7 598.2,959.4 599.2,959.0 600.2,958.6 601.2,958.2 602.2,957.7 603.1,957.1 604.0,956.5 604.9,955.9 605.8,955.2 606.6,954.5 607.5,953.8 608.3,953.0 609.1,952.2 609.9,951.4 610.7,950.6 611.4,949.8 612.2,949.0 613.0,948.1 613.7,947.3 614.5,946.4 615.2,945.6 615.9,944.7 616.6,943.8 617.3,942.9 618.0,942.0 618.6,941.1 619.3,940.2 619.9,939.3 620.6,938.4 621.2,937.5 621.8,936.5 622.4,935.6 623.0,934.7 623.5,933.7 624.1,932.8 624.6,931.8 625.1,930.8 625.7,929.9 626.2,928.9 626.7,927.9 627.1,926.9 627.6,925.9 628.1,924.9 628.5,923.9 629.0,922.9 629.4,921.9 629.8,920.9 630.2,919.9 630.6,918.9 631.0,917.8 631.4,916.8 631.8,915.8 632.1,914.7 632.5,913.7 632.8,912.6 633.2,911.6 633.5,910.5 633.8,909.5 634.1,908.4 634.5,907.4 634.8,906.3 635.1,905.2 635.3,904.2 635.6,903.1 635.9,902.0 636.2,901.0 636.4,899.9 636.7,898.8 636.9,897.7 637.2,896.6 637.4,895.6 637.6,894.5 637.9,893.4 638.1,892.3 638.3,891.2 638.5,890.1 638.7,889.0 638.9,887.9 639.1,886.9 639.3,885.8 639.5,884.7 639.7,883.6 639.9,882.5 640.1,881.4 640.3,880.3 640.5,879.2 640.6,878.1 640.8,877.0 641.0,875.9 641.1,874.8 641.3,873.7 641.5,872.7 641.6,871.6 641.8,870.5 641.9,869.4 642.0,868.3 642.2,867.2 642.3,866.1 642.5,865.0 642.6,863.9 642.7,862.8 642.9,861.7 643.0,860.6 643.1,859.5 643.2,858.4 643.4,857.3 643.5,856.2 643.6,855.1 643.7,854.0 643.8,852.9 643.9,851.8 644.0,850.7 644.1,849.6 644.2,848.5 644.3,847.4 644.4,846.3 644.5,845.2 644.6,844.1 644.7,843.0 644.8,841.9 644.9,840.8 645.0,839.7 645.1,838.6 645.1,837.5 645.2,836.4 645.3,835.3 645.4,834.2 645.5,833.1 645.6,832.0 645.6,830.9 645.7,829.8 645.8,828.7 645.9,827.5 645.9,826.4 646.0,825.3 646.1,824.2 646.1,823.1 646.2,822.0 646.3,820.9 646.4,819.8 646.4,818.7 646.5,817.6 646.6,816.5 646.6,815.4 646.7,814.3 646.8,813.2 646.8,812.1 646.9,811.0 647.0,809.9 647.0,808.8 647.1,807.7 647.2,806.6 647.2,805.5 647.3,804.4 647.4,803.3 647.4,802.2 647.5,801.1 647.6,800.0 647.6,798.8 647.7,797.7 647.8,796.6 647.9,795.5 647.9,794.4 648.0,793.3 648.1,792.2 648.1,791.1 648.2,790.0 648.3,788.9 648.4,787.8 648.4,786.7 648.5,785.6 648.6,784.5 648.7,783.4 648.8,782.3 648.9,781.2 648.9,780.1 649.0,779.0" stroke="#fc8d62"/>
<path d="M395.5,955.9 396.6,956.1 397.7,956.3 398.8,956.4 399.9,956.6 401.0,956.7 402.1,956.9 403.2,957.1 404.2,957.2 405.3,957.4 406.4,957.6 407.5,957.7 408.6,957.9 409.7,958.1 410.8,958.3 411.9,958.4 413.0,958.6 414.1,958.8 415.2,959.0 416.3,959.1 417.4,959.3 418.4,959.5 419.5,959.7 420.6,959.9 421.7,960.0 422.8,960.2 423.9,960.4 425.0,960.6 426.1,960.8 427.2,961.0 428.3,961.1 429.4,961.3 430.4,961.5 431.5,961.7 432.6,961.9 433.7,962.1 434.8,962.2 435.9,962.4 437.0,962.6 438.1,962.8 439.2,963.0 440.3,963.1 441.4,963.3 442.4,963.5 443.5,963.7 444.6,963.9 445.7,964.1 446.8,964.2 447.9,964.4 449.0,964.6 450.1,964.8 451.2,964.9 452.3,965.1 453.4,965.3 454.5,965.4 455.5,965.6 456.6,965.8 457.7,966.0 458.8,966.1 459.9,966.3 461.0,966.4 462.1,966.6 463.2,966.8 464.3,966.9 465.4,967.1 466.5,967.2 467.6,967.4 468.7,967.5 469.8,967.7 470.9,967.8 471.9,968.0 473.0,968.1 474.1,968.3 475.2,968.4 476.3,968.5 477.4,968.7 478.5,968.8 479.6,968.9 480.7,969.1 481.8,969.2 482.9,969.3 484.0,969.4 485.1,969.5 486.2,969.6 487.3,969.8 488.4,969.9 489.5,970.0 490.6,970.1 491.7,970.2 492.8,970.3 493.9,970.4 495.0,970.4 496.1,970.5 497.2,970.6 498.3,970.7 499.4,970.8 500.5,970.8 501.6,970.9 502.7,971.0 503.8,971.0 504.9,971.1 506.0,971.1 507.1,971.2 508.2,971.2 509.3,971.3 510.4,971.3 511.6,971.4 512.7,971.4 513.8,971.5 514.9,971.5 516.0,971.5 517.1,971.5 518.2,971.6 519.3,971.6 520.4,971.6 521.5,971.6 522.6,971.7 523.7,971.7 524.8,971.7 525.9,971.7 527.1,971.7 528.2,971.7 529.3,971.7 530.4,971.7 531.5,971.7 532.6,971.7 533.7,971.7 534.8,971.7 535.9,971.7 537.0,971.7 538.1,971.7 539.2,971.7 540.3,971.7 541.5,971.7 542.6,971.7 543.7,971.7 544.8,971.7 545.9,971.6 547.0,971.6 548.1,971.6 549.2,971.6 550.3,971.6 551.4,971.6 552.5,971.6 553.6,971.5 554.7,971.5 555.8,971.5 556.9,971.5 558.0,971.5 559.1,971.5 560.2,971.5 561.3,971.4 562.5,971.4 563.6,971.4 564.7,971.4 565.8,971.3 566.9,971.3 568.0,971.3 569.0,971.2 570.1,971.2 571.2,971.1 572.3,971.0 573.4,971.0 574.5,970.9 575.6,970.8 576.7,970.7 577.8,970.6 578.9,970.5 580.0,970.3 581.1,970.2 582.2,970.0 583.2,969.8 584.3,969.7 585.4,969.5 586.5,969.2 587.6,969.0 588.6,968.8 589.7,968.5 590.8,968.2 591.9,967.9 592.9,967.6 594.0,967.3 595.0,967.0 596.1,966.6 597.2,966.2 598.2,965.9 599.2,965.5 600.3,965.1 601.3,964.6 602.3,964.2 603.4,963.7 604.4,963.3 605.4,962.8 606.4,962.3 607.4,961.8 608.4,961.3 609.4,960.7 610.3,960.2 611.3,959.6 612.3,959.0 613.2,958.4 614.1,957.8 615.1,957.2 616.0,956.5 616.9,955.9 617.8,955.2 618.6,954.5 619.5,953.8 620.4,953.1 621.2,952.4 622.0,951.7 622.8,950.9 623.6,950.1 624.4,949.4 625.2,948.6 625.9,947.8 626.6,946.9 627.4,946.1 628.1,945.2 628.7,944.4 629.4,943.5 630.0,942.6 630.7,941.7 631.3,940.8 631.9,939.9 632.5,938.9 633.1,938.0 633.6,937.0 634.1,936.1 634.7,935.1 635.2,934.1 635.7,933.2 636.1,932.2 636.6,931.2 637.0,930.2 637.5,929.2 637.9,928.2 638.3,927.2 638.7,926.2 639.1,925.1 639.4,924.1 639.8,923.1 640.1,922.0 640.5,921.0 640.8,920.0 641.1,918.9 641.4,917.9 641.7,916.8 641.9,915.7 642.2,914.7 642.5,913.6 642.7,912.5 642.9,911.4 643.2,910.4 643.4,909.3 643.6,908.2 643.8,907.1 644.0,906.0 644.2,904.9 644.4,903.8 644.5,902.7 644.7,901.6 644.9,900.5 645.0,899.4 645.2,898.3 645.3,897.2 645.4,896.1 645.6,895.0 645.7,893.9 645.8,892.7 645.9,891.6 646.1,890.5 646.2,889.4 646.3,888.3 646.4,887.2 646.5,886.0 646.6,884.9 646.7,883.8 646.8,882.7 646.9,881.6 647.0,880.5 647.1,879.3 647.2,878.2 647.3,877.1 647.4,876.0 647.4,874.9 647.5,873.8 647.6,872.7 647.7,871.6 647.8,870.4 647.9,869.3 648.0,868.2 648.1,867.1 648.2,866.0 648.3,864.9 648.4,863.8 648.5,862.7 648.6,861.6 648.7,860.5 648.7,859.4 648.8,858.3 648.9,857.2 649.0,856.1 649.1,855.0 649.2,853.9 649.3,852.8 649.4,851.7 649.5,850.6 649.6,849.5 649.6,848.4 649.7,847.3 649.8,846.2 649.9,845.1 650.0,844.0 650.1,843.0 650.2,841.9 650.3,840.8 650.3,839.7 650.4,838.6 650.5,837.5 650.6,836.4 650.7,835.3 650.8,834.2 650.8,833.1 650.9,832.0 651.0,830.9 651.1,829.8 651.2,828.7 651.2,827.6 651.3,826.5 651.4,825.5 651.5,824.4 651.6,823.3 651.6,822.2 651.7,821.1 651.8,820.0 651.9,818.9 651.9,817.8 652.0,816.7 652.1,815.6 652.1,814.5 652.2,813.4 652.3,812.3 652.3,811.2 652.4,810.1 652.5,809.0 652.5,807.9 652.6,806.8 652.7,805.7 652.7,804.6 652.8,803.5 652.9,802.4 652.9,801.3 653.0,800.2 653.0,799.0 653.1,797.9 653.2,796.8 653.2,795.7 653.3,794.6 653.3,793.5 653.4,792.4 653.4,791.3 653.5,790.2 653.5,789.0 653.6,787.9 653.6,786.8 653.7,785.7 653.7,784.6 653.7,783.4 653.8,782.3 653.8,781.2 653.9,780.1 653.9,778.9" stroke="#8da0cb"/>
</g>
<line x1="396.40" y1="785.90" x2="396.40" y2="981.70" stroke="#262626" stroke-width="0.84"/>
<line x1="396.00" y1="981.60" x2="679.50" y2="981.60" stroke="#262626" stroke-width="0.95"/>
<line x1="392.74" y1="981.50" x2="396.40" y2="981.50" stroke="#262626" stroke-width="0.9"/>
<text x="366.01 372.62 376.17 382.94" y="985.25" font-size="11.02">0.00</text>
<line x1="392.74" y1="955.50" x2="396.40" y2="955.50" stroke="#262626" stroke-width="0.9"/>
<text x="366.01 372.62 376.17 382.94" y="959.20" font-size="11.02">0.02</text>
<line x1="392.74" y1="929.50" x2="396.40" y2="929.50" stroke="#262626" stroke-width="0.9"/>
<text x="366.01 372.62 376.17 382.94" y="933.14" font-size="11.02">0.04</text>
<line x1="392.74" y1="903.50" x2="396.40" y2="903.50" stroke="#262626" stroke-width="0.9"/>
<text x="366.01 372.62 376.17 382.94" y="907.09" font-size="11.02">0.06</text>
<line x1="392.74" y1="877.50" x2="396.40" y2="877.50" stroke="#262626" stroke-width="0.9"/>
<text x="366.01 372.62 376.17 382.94" y="881.04" font-size="11.02">0.08</text>
<line x1="392.74" y1="851.50" x2="396.40" y2="851.50" stroke="#262626" stroke-width="0.9"/>
<text x="366.01 372.62 376.17 382.94" y="854.98" font-size="11.02">0.10</text>
<line x1="392.74" y1="824.50" x2="396.40" y2="824.50" stroke="#262626" stroke-width="0.9"/>
<text x="366.01 372.62 376.17 382.94" y="828.93" font-size="11.02">0.12</text>
<line x1="392.74" y1="798.50" x2="396.40" y2="798.50" stroke="#262626" stroke-width="0.9"/>
<text x="366.01 372.62 376.17 382.94" y="802.88" font-size="11.02">0.14</text>
<line x1="396.50" y1="981.30" x2="396.50" y2="983.40" stroke="#262626" stroke-width="0.75"/>
<line x1="401.50" y1="981.30" x2="401.50" y2="983.40" stroke="#262626" stroke-width="0.75"/>
<line x1="405.50" y1="981.30" x2="405.50" y2="983.40" stroke="#262626" stroke-width="0.75"/>
<line x1="409.50" y1="981.30" x2="409.50" y2="983.40" stroke="#262626" stroke-width="0.75"/>
<line x1="413.50" y1="981.30" x2="413.50" y2="983.40" stroke="#262626" stroke-width="0.75"/>
<line x1="416.50" y1="981.30" x2="416.50" y2="984.96" stroke="#262626" stroke-width="0.9"/>
<line x1="435.50" y1="981.30" x2="435.50" y2="983.40" stroke="#262626" stroke-width="0.75"/>
<line x1="447.50" y1="981.30" x2="447.50" y2="983.40" stroke="#262626" stroke-width="0.75"/>
<line x1="455.50" y1="981.30" x2="455.50" y2="983.40" stroke="#262626" stroke-width="0.75"/>
<line x1="461.50" y1="981.30" x2="461.50" y2="983.40" stroke="#262626" stroke-width="0.75"/>
<line x1="466.50" y1="981.30" x2="466.50" y2="983.40" stroke="#262626" stroke-width="0.75"/>
<line x1="471.50" y1="981.30" x2="471.50" y2="983.40" stroke="#262626" stroke-width="0.75"/>
<line x1="475.50" y1="981.30" x2="475.50" y2="983.40" stroke="#262626" stroke-width="0.75"/>
<line x1="478.50" y1="981.30" x2="478.50" y2="983.40" stroke="#262626" stroke-width="0.75"/>
<line x1="481.50" y1="981.30" x2="481.50" y2="984.96" stroke="#262626" stroke-width="0.9"/>
<line x1="501.50" y1="981.30" x2="501.50" y2="983.40" stroke="#262626" stroke-width="0.75"/>
<line x1="512.50" y1="981.30" x2="512.50" y2="983.40" stroke="#262626" stroke-width="0.75"/>
<line x1="520.50" y1="981.30" x2="520.50" y2="983.40" stroke="#262626" stroke-width="0.75"/>
<line x1="527.50" y1="981.30" x2="527.50" y2="983.40" stroke="#262626" stroke-width="0.75"/>
<line x1="532.50" y1="981.30" x2="532.50" y2="983.40" stroke="#262626" stroke-width="0.75"/>
<line x1="536.50" y1="981.30" x2="536.50" y2="983.40" stroke="#262626" stroke-width="0.75"/>
<line x1="540.50" y1="981.30" x2="540.50" y2="983.40" stroke="#262626" stroke-width="0.75"/>
<line x1="543.50" y1="981.30" x2="543.50" y2="983.40" stroke="#262626" stroke-width="0.75"/>
<line x1="546.50" y1="981.30" x2="546.50" y2="984.96" stroke="#262626" stroke-width="0.9"/>
<line x1="566.50" y1="981.30" x2="566.50" y2="983.40" stroke="#262626" stroke-width="0.75"/>
<line x1="577.50" y1="981.30" x2="577.50" y2="983.40" stroke="#262626" stroke-width="0.75"/>
<line x1="586.50" y1="981.30" x2="586.50" y2="983.40" stroke="#262626" stroke-width="0.75"/>
<line x1="592.50" y1="981.30" x2="592.50" y2="983.40" stroke="#262626" stroke-width="0.75"/>
<line x1="597.50" y1="981.30" x2="597.50" y2="983.40" stroke="#262626" stroke-width="0.75"/>
<line x1="601.50" y1="981.30" x2="601.50" y2="983.40" stroke="#262626" stroke-width="0.75"/>
<line x1="605.50" y1="981.30" x2="605.50" y2="983.40" stroke="#262626" stroke-width="0.75"/>
<line x1="609.50" y1="981.30" x2="609.50" y2="983.40" stroke="#262626" stroke-width="0.75"/>
<line x1="612.50" y1="981.30" x2="612.50" y2="984.96" stroke="#262626" stroke-width="0.9"/>
<line x1="631.50" y1="981.30" x2="631.50" y2="983.40" stroke="#262626" stroke-width="0.75"/>
<line x1="643.50" y1="981.30" x2="643.50" y2="983.40" stroke="#262626" stroke-width="0.75"/>
<line x1="651.50" y1="981.30" x2="651.50" y2="983.40" stroke="#262626" stroke-width="0.75"/>
<line x1="657.50" y1="981.30" x2="657.50" y2="983.40" stroke="#262626" stroke-width="0.75"/>
<line x1="662.50" y1="981.30" x2="662.50" y2="983.40" stroke="#262626" stroke-width="0.75"/>
<line x1="667.50" y1="981.30" x2="667.50" y2="983.40" stroke="#262626" stroke-width="0.75"/>
<line x1="670.50" y1="981.30" x2="670.50" y2="983.40" stroke="#262626" stroke-width="0.75"/>
<line x1="674.50" y1="981.30" x2="674.50" y2="983.40" stroke="#262626" stroke-width="0.75"/>
<line x1="677.50" y1="981.30" x2="677.50" y2="984.96" stroke="#262626" stroke-width="0.9"/>
<text x="404.71 411.82" y="996.45" font-size="11.57">10</text>
<text x="418.51 424.60" y="992.50" font-size="8.38">−4</text>
<text x="470.02 477.13" y="996.45" font-size="11.57">10</text>
<text x="483.82 489.91" y="992.50" font-size="8.38">−3</text>
<text x="535.33 542.44" y="996.45" font-size="11.57">10</text>
<text x="549.13 555.22" y="992.50" font-size="8.38">−2</text>
<text x="600.64 607.75" y="996.45" font-size="11.57">10</text>
<text x="614.44 620.53" y="992.50" font-size="8.38">−1</text>
<text x="669.35 676.46" y="996.45" font-size="11.57">10</text>
<text x="682.86" y="992.50" font-size="8.38">0</text>
<text x="534.99" y="1010.30" font-size="11.02">x</text>
<g transform="translate(360.60,884.10) rotate(-90)"><text x="-77.55 -70.53 -66.90 -59.14 -52.37 -48.50 -45.60 -39.12 -35.34 -31.53 -25.04 -21.81 -13.85 -6.35 0.66 8.44 15.19 21.80 25.35 31.96 35.43 39.35 47.31 55.18 60.92 69.46 73.61" y="0.00" font-size="11.02">σ(Ratio to NNPDF4.0 (NNLO))</text></g>
<text x="495.41 503.34 507.44 515.70 520.24 524.50 532.63 540.76 548.70 552.37 562.72 570.29" y="779.90" font-size="13.23">g at 100 GeV</text>
<rect x="401.80" y="791.50" width="132" height="49.8" rx="2.1" fill="#fff" fill-opacity="0.8" stroke="#d0d0d0" stroke-width="0.84"/>
<line x1="405.30" y1="800.10" x2="427.70" y2="800.10" stroke="#66c2a5" stroke-width="1.57"/>
<text x="435.50 443.47 450.97 457.98 465.75 472.51 479.12 482.67 489.28 492.75 496.66 504.63 512.49 518.24 526.77" y="803.98" font-size="11.02">NNPDF4.0 (NNLO)</text>
<line x1="405.30" y1="815.55" x2="427.70" y2="815.55" stroke="#fc8d62" stroke-width="1.57"/>
<text x="435.24 442.82 449.76 456.54 463.16 466.62 470.54 478.50 486.37 492.12 500.65" y="819.43" font-size="11.02">CT18 (NNLO)</text>
<line x1="405.30" y1="831.00" x2="427.70" y2="831.00" stroke="#8da0cb" stroke-width="1.57"/>
<text x="435.50 444.39 451.47 459.34 466.29 473.06 479.68 483.14 487.06 495.02 502.89 508.64 517.17" y="834.88" font-size="11.02">MSHT20 (NNLO)</text>
</svg>
</body></html>
